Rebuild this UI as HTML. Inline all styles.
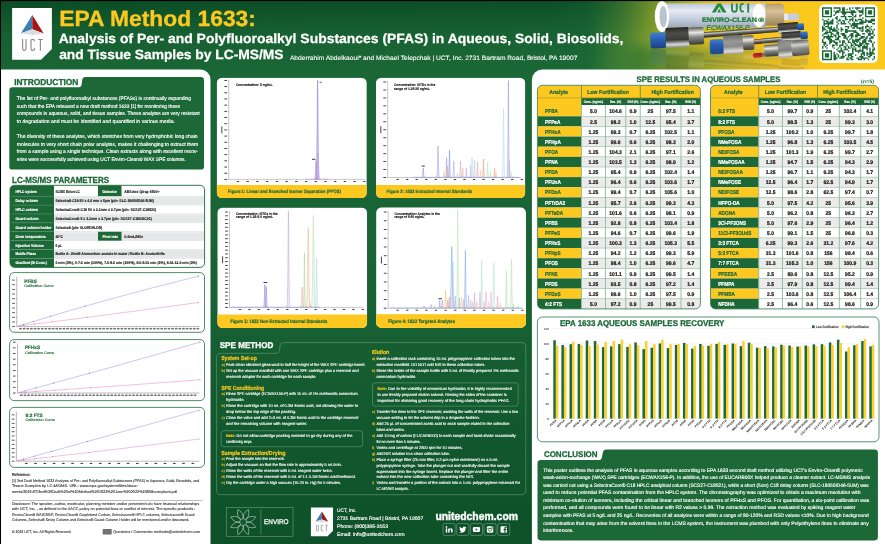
<!DOCTYPE html>
<html><head><meta charset="utf-8"><title>EPA Method 1633 Poster</title>
<style>
html,body{margin:0;padding:0;background:#186234;}
body{width:885px;height:544px;overflow:hidden;font-family:"Liberation Sans",sans-serif;}
svg{display:block;font-family:"Liberation Sans",sans-serif;will-change:transform;text-rendering:geometricPrecision;-webkit-font-smoothing:antialiased;}
</style></head><body>
<svg width="885" height="544" viewBox="0 0 885 544">
<defs>
<linearGradient id="bodyg" x1="0" y1="0" x2="0" y2="1">
 <stop offset="0" stop-color="#1c6937"/><stop offset="0.55" stop-color="#186234"/><stop offset="1" stop-color="#0d5029"/>
</linearGradient>
<linearGradient id="hdrh" x1="0" y1="0" x2="1" y2="0">
 <stop offset="0" stop-color="#1a6535"/><stop offset="0.665" stop-color="#1c6937"/>
 <stop offset="0.705" stop-color="#4a8335"/><stop offset="0.745" stop-color="#93a82c"/>
 <stop offset="0.795" stop-color="#d6be22"/><stop offset="0.845" stop-color="#f8c81c"/><stop offset="1" stop-color="#fbc91c"/>
</linearGradient>
<linearGradient id="hdrv" x1="0" y1="0" x2="0" y2="1">
 <stop offset="0" stop-color="#003818" stop-opacity="0.55"/><stop offset="0.5" stop-color="#003818" stop-opacity="0.12"/><stop offset="1" stop-color="#003818" stop-opacity="0"/>
</linearGradient>
<linearGradient id="tube" x1="0" y1="0" x2="0" y2="1">
 <stop offset="0" stop-color="#bcc7d8"/><stop offset="0.3" stop-color="#e6ebf3"/><stop offset="0.65" stop-color="#c4cede"/><stop offset="1" stop-color="#9ca8bc"/>
</linearGradient>
<linearGradient id="steel" x1="0" y1="0" x2="0" y2="1">
 <stop offset="0" stop-color="#5a5a58"/><stop offset="0.3" stop-color="#e8e8e4"/><stop offset="0.55" stop-color="#8a8a86"/><stop offset="1" stop-color="#3a3a38"/>
</linearGradient>
<linearGradient id="rod" x1="0" y1="0" x2="0" y2="1">
 <stop offset="0" stop-color="#3a3a38"/><stop offset="0.3" stop-color="#c4c4c0"/><stop offset="0.55" stop-color="#6a6a66"/><stop offset="1" stop-color="#262624"/>
</linearGradient>
<linearGradient id="nut" x1="0" y1="0" x2="0" y2="1">
 <stop offset="0" stop-color="#262626"/><stop offset="0.3" stop-color="#4e4e4c"/><stop offset="0.62" stop-color="#3a3a3a"/><stop offset="0.85" stop-color="#d8d8d4"/><stop offset="1" stop-color="#8a8a88"/>
</linearGradient>
<linearGradient id="nut2" x1="0" y1="0" x2="0" y2="1">
 <stop offset="0" stop-color="#6c6c6a"/><stop offset="0.35" stop-color="#9a9a98"/><stop offset="0.6" stop-color="#777"/><stop offset="0.85" stop-color="#f2f2f0"/><stop offset="1" stop-color="#aaa"/>
</linearGradient>
<linearGradient id="blue" x1="0" y1="0" x2="0" y2="1">
 <stop offset="0" stop-color="#3f7ed0"/><stop offset="0.5" stop-color="#275cae"/><stop offset="1" stop-color="#1a4180"/>
</linearGradient>
<linearGradient id="tan" x1="0" y1="0" x2="0" y2="1">
 <stop offset="0" stop-color="#b89b6c"/><stop offset="0.35" stop-color="#d8c298"/><stop offset="1" stop-color="#9c8258"/>
</linearGradient>
</defs>
<rect x="0.00" y="0.00" width="885.00" height="544.00" fill="url(#bodyg)"/>
<rect x="0.00" y="0.00" width="885.00" height="70.00" fill="url(#hdrh)"/>
<linearGradient id="hdrm" x1="0" y1="0" x2="1" y2="0"><stop offset="0.78" stop-color="#fff" stop-opacity="1"/><stop offset="1" stop-color="#fff" stop-opacity="0"/></linearGradient><mask id="hm"><rect x="0" y="0" width="700" height="70" fill="url(#hdrm)"/></mask>
<rect x="0" y="0" width="700" height="70" fill="url(#hdrv)" mask="url(#hm)"/>
<g>
<linearGradient id="floor" x1="0" y1="0" x2="1" y2="0"><stop offset="0" stop-color="#2f7a38" stop-opacity="0.0"/><stop offset="0.18" stop-color="#35782f" stop-opacity="0.75"/><stop offset="0.5" stop-color="#7f9430" stop-opacity="0.7"/><stop offset="0.8" stop-color="#bfaa2c" stop-opacity="0.4"/><stop offset="1" stop-color="#d8b828" stop-opacity="0"/></linearGradient>
<linearGradient id="floorm" x1="0" y1="0" x2="0" y2="1"><stop offset="0" stop-color="#fff" stop-opacity="0"/><stop offset="0.45" stop-color="#fff" stop-opacity="1"/></linearGradient><mask id="fm"><rect x="600" y="40" width="215" height="30" fill="url(#floorm)"/></mask>
<rect x="600" y="40" width="215" height="30" fill="url(#floor)" mask="url(#fm)"/>
<rect x="664.00" y="3.40" width="102.00" height="24.00" fill="url(#tube)"/>
<path d="M765.3 3.4H780Q784.4 3.4 784.4 8V21.5Q784.4 25.8 780 25.8H765.3Z" fill="url(#tan)"/>
<rect x="784.00" y="13.60" width="15.00" height="6.60" fill="#c9cde4" rx="1.5"/>
<rect x="784.00" y="13.60" width="4.00" height="6.60" fill="#e4e6f2"/>
<ellipse cx="662" cy="16.5" rx="7.2" ry="15.6" fill="#fff"/>
<ellipse cx="663.2" cy="16.5" rx="3.7" ry="10.8" fill="#b9c3d2"/>
<ellipse cx="759" cy="15.5" rx="6.5" ry="11.8" fill="#fff" opacity="0.9"/>
<path d="M711.7 12.6 L717.5 3.4 L721 3.4 L726.6 12.6 L722.6 12.6 L719.2 6.6 L715.6 12.6 Z" fill="#2b8a3e"/>
<path d="M717.3 12.6 L719.2 8.5 L721.1 12.6Z" fill="#2b8a3e"/>
<g fill="none" stroke="#2b8a3e" stroke-width="1.9"><path d="M732 3.4V9.2Q732 11.8 734.4 11.8Q736.8 11.8 736.8 9.2V3.4"/><path d="M743.6 4.2Q741 3.2 740.4 6V9.4Q741 12.4 743.8 11.2"/><path d="M748.2 3.4V12.6"/></g>
<text x="702.00" y="22.20" font-size="6.6" fill="#1f7a38" font-weight="bold" textLength="55.00" lengthAdjust="spacingAndGlyphs" stroke="#1f7a38" stroke-width="0.231">ENVIRO-CLEAN</text>
<text x="758.20" y="22.20" font-size="6.2" fill="#1f7a38" font-weight="bold" textLength="6.00" lengthAdjust="spacingAndGlyphs" stroke="#1f7a38" stroke-width="0.217">®</text>
<text x="706.30" y="30.20" font-size="6.6" fill="#1f7a38" textLength="43.40" lengthAdjust="spacingAndGlyphs" stroke="#1f7a38" stroke-width="0.198" font-style="italic">ECWAX156-P</text>
<g id="cols">
<g transform="rotate(-4.2 704 35)">
<rect x="700.00" y="32.20" width="86.00" height="5.40" fill="url(#rod)"/>
</g>
<g transform="rotate(-5 754 43)">
<rect x="750.00" y="39.30" width="36.00" height="5.00" fill="url(#rod)"/>
</g>
<g transform="rotate(-2.5 676 38)">
<rect x="650.20" y="31.80" width="16.00" height="15.60" fill="url(#blue)" rx="2.4"/>
<rect x="665.60" y="27.60" width="23.40" height="19.80" fill="url(#nut)" rx="1.5"/>
<rect x="688.80" y="28.20" width="15.20" height="17.20" fill="url(#steel)" rx="2"/>
</g>
<g transform="rotate(-2.5 732 45)">
<rect x="709.80" y="38.60" width="14.00" height="14.80" fill="url(#blue)" rx="2.4"/>
<rect x="723.40" y="35.40" width="19.80" height="18.40" fill="url(#nut2)" rx="1.5"/>
<rect x="743.00" y="36.20" width="11.20" height="14.40" fill="url(#steel)" rx="2"/>
</g>
<g transform="rotate(-4 790 28)">
<rect x="778.00" y="22.60" width="20.50" height="10.20" fill="url(#nut)" rx="1"/>
<rect x="797.50" y="24.20" width="6.50" height="6.60" fill="url(#blue)" rx="1"/>
<rect x="781.00" y="31.60" width="19.50" height="9.20" fill="url(#nut)" rx="1"/>
<rect x="800.00" y="32.60" width="7.20" height="7.40" fill="url(#blue)" rx="1"/>
</g>
<g transform="rotate(-5 786 48)">
<rect x="764.00" y="43.50" width="15.00" height="11.50" fill="url(#steel)" rx="1.5"/>
<rect x="778.00" y="40.20" width="14.50" height="17.20" fill="url(#nut2)" rx="1.5"/>
<rect x="791.50" y="41.20" width="17.50" height="15.60" fill="url(#steel)" rx="2"/>
<rect x="752.30" y="50.60" width="10.50" height="4.40" fill="#c4161c" rx="2.1"/>
<rect x="761.50" y="51.20" width="3.50" height="3.20" fill="#777"/>
</g>
</g>
<g opacity="0.16" transform="translate(0 97) scale(1 -1)"><use href="#cols"/></g>
</g>
<rect x="819.20" y="4.60" width="58.50" height="58.40" fill="#fff" rx="5"/>
<path d="M822.00 7.30h10.03v1.43h-10.03zM833.46 7.30h7.16v1.43h-7.16zM842.05 7.30h2.86v1.43h-2.86zM849.22 7.30h1.43v1.43h-1.43zM852.08 7.30h1.43v1.43h-1.43zM854.95 7.30h5.73v1.43h-5.73zM862.11 7.30h1.43v1.43h-1.43zM864.97 7.30h10.03v1.43h-10.03zM822.00 8.73h1.43v1.43h-1.43zM830.59 8.73h1.43v1.43h-1.43zM839.19 8.73h1.43v1.43h-1.43zM842.05 8.73h2.86v1.43h-2.86zM846.35 8.73h1.43v1.43h-1.43zM849.22 8.73h1.43v1.43h-1.43zM856.38 8.73h1.43v1.43h-1.43zM862.11 8.73h1.43v1.43h-1.43zM864.97 8.73h1.43v1.43h-1.43zM873.57 8.73h1.43v1.43h-1.43zM822.00 10.16h1.43v1.43h-1.43zM824.86 10.16h4.30v1.43h-4.30zM830.59 10.16h1.43v1.43h-1.43zM833.46 10.16h1.43v1.43h-1.43zM836.32 10.16h4.30v1.43h-4.30zM842.05 10.16h2.86v1.43h-2.86zM850.65 10.16h4.30v1.43h-4.30zM857.81 10.16h5.73v1.43h-5.73zM864.97 10.16h1.43v1.43h-1.43zM867.84 10.16h4.30v1.43h-4.30zM873.57 10.16h1.43v1.43h-1.43zM822.00 11.60h1.43v1.43h-1.43zM824.86 11.60h4.30v1.43h-4.30zM830.59 11.60h1.43v1.43h-1.43zM834.89 11.60h4.30v1.43h-4.30zM840.62 11.60h15.76v1.43h-15.76zM859.24 11.60h4.30v1.43h-4.30zM864.97 11.60h1.43v1.43h-1.43zM867.84 11.60h4.30v1.43h-4.30zM873.57 11.60h1.43v1.43h-1.43zM822.00 13.03h1.43v1.43h-1.43zM824.86 13.03h4.30v1.43h-4.30zM830.59 13.03h1.43v1.43h-1.43zM834.89 13.03h1.43v1.43h-1.43zM842.05 13.03h4.30v1.43h-4.30zM850.65 13.03h2.86v1.43h-2.86zM862.11 13.03h1.43v1.43h-1.43zM864.97 13.03h1.43v1.43h-1.43zM867.84 13.03h4.30v1.43h-4.30zM873.57 13.03h1.43v1.43h-1.43zM822.00 14.46h1.43v1.43h-1.43zM830.59 14.46h1.43v1.43h-1.43zM833.46 14.46h1.43v1.43h-1.43zM843.49 14.46h1.43v1.43h-1.43zM852.08 14.46h1.43v1.43h-1.43zM854.95 14.46h1.43v1.43h-1.43zM859.24 14.46h2.86v1.43h-2.86zM864.97 14.46h1.43v1.43h-1.43zM873.57 14.46h1.43v1.43h-1.43zM822.00 15.89h10.03v1.43h-10.03zM836.32 15.89h1.43v1.43h-1.43zM840.62 15.89h5.73v1.43h-5.73zM847.78 15.89h4.30v1.43h-4.30zM853.51 15.89h2.86v1.43h-2.86zM859.24 15.89h1.43v1.43h-1.43zM864.97 15.89h10.03v1.43h-10.03zM834.89 17.33h2.86v1.43h-2.86zM844.92 17.33h1.43v1.43h-1.43zM852.08 17.33h1.43v1.43h-1.43zM862.11 17.33h1.43v1.43h-1.43zM822.00 18.76h1.43v1.43h-1.43zM827.73 18.76h1.43v1.43h-1.43zM832.03 18.76h1.43v1.43h-1.43zM836.32 18.76h1.43v1.43h-1.43zM839.19 18.76h1.43v1.43h-1.43zM844.92 18.76h2.86v1.43h-2.86zM849.22 18.76h4.30v1.43h-4.30zM854.95 18.76h1.43v1.43h-1.43zM857.81 18.76h4.30v1.43h-4.30zM864.97 18.76h1.43v1.43h-1.43zM870.70 18.76h4.30v1.43h-4.30zM823.43 20.19h4.30v1.43h-4.30zM830.59 20.19h2.86v1.43h-2.86zM837.76 20.19h2.86v1.43h-2.86zM842.05 20.19h2.86v1.43h-2.86zM849.22 20.19h1.43v1.43h-1.43zM852.08 20.19h1.43v1.43h-1.43zM854.95 20.19h2.86v1.43h-2.86zM860.68 20.19h2.86v1.43h-2.86zM864.97 20.19h10.03v1.43h-10.03zM823.43 21.62h1.43v1.43h-1.43zM826.30 21.62h7.16v1.43h-7.16zM836.32 21.62h1.43v1.43h-1.43zM840.62 21.62h1.43v1.43h-1.43zM843.49 21.62h1.43v1.43h-1.43zM847.78 21.62h1.43v1.43h-1.43zM853.51 21.62h1.43v1.43h-1.43zM859.24 21.62h7.16v1.43h-7.16zM867.84 21.62h4.30v1.43h-4.30zM823.43 23.06h10.03v1.43h-10.03zM837.76 23.06h1.43v1.43h-1.43zM840.62 23.06h5.73v1.43h-5.73zM849.22 23.06h1.43v1.43h-1.43zM852.08 23.06h11.46v1.43h-11.46zM872.14 23.06h2.86v1.43h-2.86zM823.43 24.49h1.43v1.43h-1.43zM827.73 24.49h1.43v1.43h-1.43zM836.32 24.49h1.43v1.43h-1.43zM850.65 24.49h7.16v1.43h-7.16zM866.41 24.49h1.43v1.43h-1.43zM822.00 25.92h1.43v1.43h-1.43zM824.86 25.92h4.30v1.43h-4.30zM830.59 25.92h1.43v1.43h-1.43zM836.32 25.92h1.43v1.43h-1.43zM844.92 25.92h4.30v1.43h-4.30zM850.65 25.92h1.43v1.43h-1.43zM853.51 25.92h4.30v1.43h-4.30zM862.11 25.92h1.43v1.43h-1.43zM864.97 25.92h4.30v1.43h-4.30zM870.70 25.92h1.43v1.43h-1.43zM822.00 27.35h2.86v1.43h-2.86zM827.73 27.35h4.30v1.43h-4.30zM833.46 27.35h1.43v1.43h-1.43zM836.32 27.35h1.43v1.43h-1.43zM840.62 27.35h1.43v1.43h-1.43zM847.78 27.35h1.43v1.43h-1.43zM852.08 27.35h2.86v1.43h-2.86zM856.38 27.35h7.16v1.43h-7.16zM864.97 27.35h1.43v1.43h-1.43zM869.27 27.35h1.43v1.43h-1.43zM822.00 28.79h4.30v1.43h-4.30zM829.16 28.79h7.16v1.43h-7.16zM837.76 28.79h1.43v1.43h-1.43zM840.62 28.79h2.86v1.43h-2.86zM844.92 28.79h2.86v1.43h-2.86zM859.24 28.79h1.43v1.43h-1.43zM862.11 28.79h1.43v1.43h-1.43zM866.41 28.79h2.86v1.43h-2.86zM870.70 28.79h1.43v1.43h-1.43zM873.57 28.79h1.43v1.43h-1.43zM822.00 30.22h1.43v1.43h-1.43zM826.30 30.22h1.43v1.43h-1.43zM829.16 30.22h1.43v1.43h-1.43zM832.03 30.22h5.73v1.43h-5.73zM840.62 30.22h1.43v1.43h-1.43zM844.92 30.22h11.46v1.43h-11.46zM860.68 30.22h2.86v1.43h-2.86zM864.97 30.22h5.73v1.43h-5.73zM872.14 30.22h1.43v1.43h-1.43zM824.86 31.65h7.16v1.43h-7.16zM836.32 31.65h2.86v1.43h-2.86zM844.92 31.65h2.86v1.43h-2.86zM853.51 31.65h4.30v1.43h-4.30zM866.41 31.65h1.43v1.43h-1.43zM869.27 31.65h1.43v1.43h-1.43zM872.14 31.65h1.43v1.43h-1.43zM823.43 33.08h4.30v1.43h-4.30zM830.59 33.08h2.86v1.43h-2.86zM836.32 33.08h2.86v1.43h-2.86zM840.62 33.08h4.30v1.43h-4.30zM850.65 33.08h2.86v1.43h-2.86zM856.38 33.08h2.86v1.43h-2.86zM862.11 33.08h2.86v1.43h-2.86zM867.84 33.08h5.73v1.43h-5.73zM822.00 34.52h1.43v1.43h-1.43zM827.73 34.52h1.43v1.43h-1.43zM830.59 34.52h1.43v1.43h-1.43zM833.46 34.52h2.86v1.43h-2.86zM837.76 34.52h1.43v1.43h-1.43zM842.05 34.52h4.30v1.43h-4.30zM849.22 34.52h4.30v1.43h-4.30zM854.95 34.52h5.73v1.43h-5.73zM867.84 34.52h2.86v1.43h-2.86zM873.57 34.52h1.43v1.43h-1.43zM823.43 35.95h10.03v1.43h-10.03zM834.89 35.95h1.43v1.43h-1.43zM837.76 35.95h2.86v1.43h-2.86zM843.49 35.95h2.86v1.43h-2.86zM847.78 35.95h1.43v1.43h-1.43zM850.65 35.95h2.86v1.43h-2.86zM854.95 35.95h2.86v1.43h-2.86zM860.68 35.95h4.30v1.43h-4.30zM866.41 35.95h1.43v1.43h-1.43zM870.70 35.95h2.86v1.43h-2.86zM823.43 37.38h1.43v1.43h-1.43zM826.30 37.38h4.30v1.43h-4.30zM836.32 37.38h2.86v1.43h-2.86zM843.49 37.38h4.30v1.43h-4.30zM850.65 37.38h1.43v1.43h-1.43zM859.24 37.38h4.30v1.43h-4.30zM864.97 37.38h2.86v1.43h-2.86zM869.27 37.38h4.30v1.43h-4.30zM822.00 38.81h1.43v1.43h-1.43zM827.73 38.81h4.30v1.43h-4.30zM834.89 38.81h4.30v1.43h-4.30zM846.35 38.81h1.43v1.43h-1.43zM849.22 38.81h1.43v1.43h-1.43zM852.08 38.81h1.43v1.43h-1.43zM854.95 38.81h5.73v1.43h-5.73zM863.54 38.81h2.86v1.43h-2.86zM869.27 38.81h1.43v1.43h-1.43zM822.00 40.25h1.43v1.43h-1.43zM829.16 40.25h5.73v1.43h-5.73zM839.19 40.25h1.43v1.43h-1.43zM842.05 40.25h2.86v1.43h-2.86zM847.78 40.25h1.43v1.43h-1.43zM852.08 40.25h7.16v1.43h-7.16zM862.11 40.25h4.30v1.43h-4.30zM867.84 40.25h4.30v1.43h-4.30zM822.00 41.68h4.30v1.43h-4.30zM829.16 41.68h2.86v1.43h-2.86zM833.46 41.68h4.30v1.43h-4.30zM839.19 41.68h1.43v1.43h-1.43zM842.05 41.68h2.86v1.43h-2.86zM847.78 41.68h2.86v1.43h-2.86zM852.08 41.68h2.86v1.43h-2.86zM856.38 41.68h1.43v1.43h-1.43zM859.24 41.68h1.43v1.43h-1.43zM862.11 41.68h4.30v1.43h-4.30zM870.70 41.68h1.43v1.43h-1.43zM873.57 41.68h1.43v1.43h-1.43zM823.43 43.11h2.86v1.43h-2.86zM829.16 43.11h1.43v1.43h-1.43zM834.89 43.11h2.86v1.43h-2.86zM842.05 43.11h1.43v1.43h-1.43zM844.92 43.11h1.43v1.43h-1.43zM850.65 43.11h1.43v1.43h-1.43zM853.51 43.11h2.86v1.43h-2.86zM859.24 43.11h4.30v1.43h-4.30zM864.97 43.11h4.30v1.43h-4.30zM872.14 43.11h1.43v1.43h-1.43zM823.43 44.54h1.43v1.43h-1.43zM826.30 44.54h1.43v1.43h-1.43zM832.03 44.54h2.86v1.43h-2.86zM836.32 44.54h1.43v1.43h-1.43zM839.19 44.54h4.30v1.43h-4.30zM846.35 44.54h1.43v1.43h-1.43zM850.65 44.54h2.86v1.43h-2.86zM854.95 44.54h7.16v1.43h-7.16zM863.54 44.54h1.43v1.43h-1.43zM866.41 44.54h1.43v1.43h-1.43zM872.14 44.54h1.43v1.43h-1.43zM822.00 45.98h1.43v1.43h-1.43zM824.86 45.98h1.43v1.43h-1.43zM832.03 45.98h1.43v1.43h-1.43zM839.19 45.98h1.43v1.43h-1.43zM843.49 45.98h2.86v1.43h-2.86zM847.78 45.98h1.43v1.43h-1.43zM850.65 45.98h1.43v1.43h-1.43zM853.51 45.98h1.43v1.43h-1.43zM857.81 45.98h2.86v1.43h-2.86zM862.11 45.98h5.73v1.43h-5.73zM872.14 45.98h1.43v1.43h-1.43zM822.00 47.41h1.43v1.43h-1.43zM826.30 47.41h1.43v1.43h-1.43zM833.46 47.41h1.43v1.43h-1.43zM837.76 47.41h1.43v1.43h-1.43zM840.62 47.41h1.43v1.43h-1.43zM844.92 47.41h1.43v1.43h-1.43zM847.78 47.41h2.86v1.43h-2.86zM852.08 47.41h1.43v1.43h-1.43zM854.95 47.41h1.43v1.43h-1.43zM862.11 47.41h5.73v1.43h-5.73zM869.27 47.41h1.43v1.43h-1.43zM873.57 47.41h1.43v1.43h-1.43zM836.32 48.84h1.43v1.43h-1.43zM840.62 48.84h1.43v1.43h-1.43zM843.49 48.84h4.30v1.43h-4.30zM852.08 48.84h4.30v1.43h-4.30zM859.24 48.84h1.43v1.43h-1.43zM862.11 48.84h1.43v1.43h-1.43zM866.41 48.84h1.43v1.43h-1.43zM869.27 48.84h1.43v1.43h-1.43zM872.14 48.84h2.86v1.43h-2.86zM822.00 50.27h10.03v1.43h-10.03zM837.76 50.27h5.73v1.43h-5.73zM847.78 50.27h1.43v1.43h-1.43zM852.08 50.27h1.43v1.43h-1.43zM854.95 50.27h8.59v1.43h-8.59zM869.27 50.27h1.43v1.43h-1.43zM872.14 50.27h1.43v1.43h-1.43zM822.00 51.71h1.43v1.43h-1.43zM830.59 51.71h1.43v1.43h-1.43zM833.46 51.71h1.43v1.43h-1.43zM839.19 51.71h1.43v1.43h-1.43zM842.05 51.71h2.86v1.43h-2.86zM852.08 51.71h1.43v1.43h-1.43zM857.81 51.71h1.43v1.43h-1.43zM862.11 51.71h2.86v1.43h-2.86zM866.41 51.71h1.43v1.43h-1.43zM869.27 51.71h4.30v1.43h-4.30zM822.00 53.14h1.43v1.43h-1.43zM824.86 53.14h4.30v1.43h-4.30zM830.59 53.14h1.43v1.43h-1.43zM833.46 53.14h1.43v1.43h-1.43zM836.32 53.14h1.43v1.43h-1.43zM842.05 53.14h1.43v1.43h-1.43zM847.78 53.14h5.73v1.43h-5.73zM860.68 53.14h4.30v1.43h-4.30zM866.41 53.14h8.59v1.43h-8.59zM822.00 54.57h1.43v1.43h-1.43zM824.86 54.57h4.30v1.43h-4.30zM830.59 54.57h1.43v1.43h-1.43zM833.46 54.57h2.86v1.43h-2.86zM837.76 54.57h1.43v1.43h-1.43zM842.05 54.57h1.43v1.43h-1.43zM844.92 54.57h1.43v1.43h-1.43zM847.78 54.57h4.30v1.43h-4.30zM854.95 54.57h1.43v1.43h-1.43zM860.68 54.57h1.43v1.43h-1.43zM863.54 54.57h1.43v1.43h-1.43zM866.41 54.57h1.43v1.43h-1.43zM869.27 54.57h2.86v1.43h-2.86zM822.00 56.00h1.43v1.43h-1.43zM824.86 56.00h4.30v1.43h-4.30zM830.59 56.00h1.43v1.43h-1.43zM833.46 56.00h2.86v1.43h-2.86zM837.76 56.00h1.43v1.43h-1.43zM840.62 56.00h4.30v1.43h-4.30zM847.78 56.00h1.43v1.43h-1.43zM850.65 56.00h2.86v1.43h-2.86zM859.24 56.00h4.30v1.43h-4.30zM867.84 56.00h2.86v1.43h-2.86zM873.57 56.00h1.43v1.43h-1.43zM822.00 57.44h1.43v1.43h-1.43zM830.59 57.44h1.43v1.43h-1.43zM833.46 57.44h4.30v1.43h-4.30zM839.19 57.44h4.30v1.43h-4.30zM846.35 57.44h1.43v1.43h-1.43zM849.22 57.44h2.86v1.43h-2.86zM856.38 57.44h2.86v1.43h-2.86zM860.68 57.44h7.16v1.43h-7.16zM873.57 57.44h1.43v1.43h-1.43zM822.00 58.87h10.03v1.43h-10.03zM833.46 58.87h2.86v1.43h-2.86zM846.35 58.87h2.86v1.43h-2.86zM850.65 58.87h2.86v1.43h-2.86zM857.81 58.87h4.30v1.43h-4.30zM863.54 58.87h1.43v1.43h-1.43zM867.84 58.87h1.43v1.43h-1.43zM872.14 58.87h1.43v1.43h-1.43z" fill="#1c6937"/>
<rect x="0.00" y="0.00" width="885.00" height="1.10" fill="#000"/>
<rect x="0.00" y="0.00" width="1.00" height="544.00" fill="#000"/>
<path d="M12.1 8.1H51.9V48.900000000000006L41.099999999999994 59.7H12.1Z" fill="#fff"/>
<path d="M32.3 15 L21 33.2 L32.3 29.2Z" fill="#3e7fb2"/>
<path d="M32.3 15 L43.7 33.5 L32.3 29.2Z" fill="#a81414"/>
<path d="M21 33.2 L32.3 29.2 L43.7 33.5 L32.3 35Z" fill="#d9dde2"/>
<g fill="none" stroke="#8c8c94" stroke-width="1.15"><path d="M22.6 38.9V48.6Q22.6 50.3 24.3 50.3Q26 50.3 26 48.6V38.9"/><path d="M34.4 41.5V40.8Q34.4 39.4 32.7 39.4Q31 39.4 31 40.8V48.9Q31 50.3 32.7 50.3Q34.4 50.3 34.4 48.9V48"/><path d="M38 39.5H42.8M40.4 39.5V50.8"/></g>
<text x="59.30" y="26.10" font-size="22" fill="#fdc820" font-weight="bold" textLength="196.60" lengthAdjust="spacingAndGlyphs" stroke="#fdc820" stroke-width="0.300">EPA Method 1633:</text>
<text x="58.80" y="42.70" font-size="13.4" fill="#fff" font-weight="bold" textLength="564.60" lengthAdjust="spacingAndGlyphs" stroke="#fff" stroke-width="0.250">Analysis of Per- and Polyfluoroalkyl Substances (PFAS) in Aqueous, Solid, Biosolids,</text>
<text x="59.20" y="59.40" font-size="13.4" fill="#fff" font-weight="bold" textLength="224.30" lengthAdjust="spacingAndGlyphs" stroke="#fff" stroke-width="0.250">and Tissue Samples by LC-MS/MS</text>
<text x="289.90" y="59.60" font-size="6.3" fill="#fff" textLength="287.50" lengthAdjust="spacingAndGlyphs" stroke="#fff" stroke-width="0.100">Abderrahim Abdelkaoui* and Michael Telepchak | UCT, Inc.  2731 Bartram Road, Bristol, PA 19007</text>
<path d="M1 69.5H200.5A10 10 0 0 1 210.5 79.5V544H1Z" fill="#fff"/>
<path d="M9.3 90.5Q9.3 87.2 12.5 87.2H78.6Q81.3 87.2 81.6 84.5L82.3 79.8Q82.7 77.1 85.4 77.1H200.8Q204 77.1 204 80.3V166.4Q204 169.6 200.8 169.6H12.5Q9.3 169.6 9.3 166.4Z" fill="#1c6937"/>
<text x="14.20" y="84.90" font-size="8.6" fill="#1c6937" font-weight="bold" textLength="64.20" lengthAdjust="spacingAndGlyphs" stroke="#1c6937" stroke-width="0.301">INTRODUCTION</text>
<text x="16.80" y="100.20" font-size="5.0" fill="#fff" textLength="174.20" lengthAdjust="spacingAndGlyphs" stroke="#fff" stroke-width="0.150">The list of Per- and polyfluoroalkyl substances (PFASs) is continually expanding</text>
<text x="16.80" y="107.75" font-size="5.0" fill="#fff" textLength="163.40" lengthAdjust="spacingAndGlyphs" stroke="#fff" stroke-width="0.150">such that the EPA released a new draft method 1633 [1] for monitoring these</text>
<text x="16.80" y="115.30" font-size="5.0" fill="#fff" textLength="182.90" lengthAdjust="spacingAndGlyphs" stroke="#fff" stroke-width="0.150">compounds in aqueous, solid, and tissue samples. These analytes are very resistant</text>
<text x="16.80" y="122.85" font-size="5.0" fill="#fff" textLength="158.20" lengthAdjust="spacingAndGlyphs" stroke="#fff" stroke-width="0.150">to degradation and must be identified and quantified in various media.</text>
<text x="16.80" y="137.95" font-size="5.0" fill="#fff" textLength="180.80" lengthAdjust="spacingAndGlyphs" stroke="#fff" stroke-width="0.150">The diversity of these analytes, which stretches from very hydrophobic long chain</text>
<text x="16.80" y="145.50" font-size="5.0" fill="#fff" textLength="181.40" lengthAdjust="spacingAndGlyphs" stroke="#fff" stroke-width="0.150">molecules to very short chain polar analytes, makes it challenging to extract them</text>
<text x="16.80" y="153.05" font-size="5.0" fill="#fff" textLength="181.40" lengthAdjust="spacingAndGlyphs" stroke="#fff" stroke-width="0.150">from a sample using a single technique. Clean extracts along with excellent recov-</text>
<text x="16.80" y="160.60" font-size="5.0" fill="#fff" textLength="169.00" lengthAdjust="spacingAndGlyphs" stroke="#fff" stroke-width="0.150">eries were successfully achieved using UCT Enviro-Clean® WAX SPE columns.</text>
<text x="12.00" y="182.90" font-size="8.8" fill="#1c6937" font-weight="bold" textLength="97.00" lengthAdjust="spacingAndGlyphs" stroke="#1c6937" stroke-width="0.308">LC-MS/MS PARAMETERS</text>
<clipPath id="lct"><rect x="10.0" y="185.3" width="194.6" height="82.09999999999997" rx="4.5"/></clipPath>
<g clip-path="url(#lct)">
<rect x="10.00" y="185.30" width="194.60" height="82.10" fill="#fff"/>
<rect x="10.00" y="185.30" width="44.00" height="10.85" fill="#1c6937"/>
<rect x="54.00" y="196.70" width="150.60" height="7.80" fill="#e6e7e8"/>
<rect x="10.00" y="196.15" width="44.00" height="8.90" fill="#1c6937"/>
<rect x="12.50" y="195.95" width="39.50" height="0.45" fill="#5a9a70"/>
<rect x="54.00" y="195.90" width="150.60" height="0.50" fill="#c4dccb"/>
<rect x="10.00" y="205.05" width="44.00" height="8.90" fill="#1c6937"/>
<rect x="12.50" y="204.85" width="39.50" height="0.45" fill="#5a9a70"/>
<rect x="54.00" y="204.80" width="150.60" height="0.50" fill="#c4dccb"/>
<rect x="54.00" y="214.50" width="150.60" height="7.80" fill="#e6e7e8"/>
<rect x="10.00" y="213.95" width="44.00" height="8.90" fill="#1c6937"/>
<rect x="12.50" y="213.75" width="39.50" height="0.45" fill="#5a9a70"/>
<rect x="54.00" y="213.70" width="150.60" height="0.50" fill="#c4dccb"/>
<rect x="10.00" y="222.85" width="44.00" height="8.90" fill="#1c6937"/>
<rect x="12.50" y="222.65" width="39.50" height="0.45" fill="#5a9a70"/>
<rect x="54.00" y="222.60" width="150.60" height="0.50" fill="#c4dccb"/>
<rect x="54.00" y="232.30" width="150.60" height="7.80" fill="#e6e7e8"/>
<rect x="10.00" y="231.75" width="44.00" height="8.90" fill="#1c6937"/>
<rect x="12.50" y="231.55" width="39.50" height="0.45" fill="#5a9a70"/>
<rect x="54.00" y="231.50" width="150.60" height="0.50" fill="#c4dccb"/>
<rect x="10.00" y="240.65" width="44.00" height="8.90" fill="#1c6937"/>
<rect x="12.50" y="240.45" width="39.50" height="0.45" fill="#5a9a70"/>
<rect x="54.00" y="240.40" width="150.60" height="0.50" fill="#c4dccb"/>
<rect x="54.00" y="250.10" width="150.60" height="7.80" fill="#e6e7e8"/>
<rect x="10.00" y="249.55" width="44.00" height="8.90" fill="#1c6937"/>
<rect x="12.50" y="249.35" width="39.50" height="0.45" fill="#5a9a70"/>
<rect x="54.00" y="249.30" width="150.60" height="0.50" fill="#c4dccb"/>
<rect x="10.00" y="258.45" width="44.00" height="8.95" fill="#1c6937"/>
<rect x="12.50" y="258.25" width="39.50" height="0.45" fill="#5a9a70"/>
<rect x="54.00" y="258.20" width="150.60" height="0.50" fill="#c4dccb"/>
<rect x="98.00" y="185.30" width="23.50" height="10.85" fill="#1c6937"/>
<rect x="98.00" y="231.75" width="23.50" height="8.90" fill="#1c6937"/>
</g>
<rect x="10.0" y="185.3" width="194.6" height="82.09999999999997" rx="4.5" fill="none" stroke="#1c6937" stroke-width="0.9"/>
<text x="15.40" y="193.10" font-size="3.9" fill="#fff" font-weight="bold" textLength="21.40" lengthAdjust="spacingAndGlyphs" stroke="#fff" stroke-width="0.137">HPLC system</text>
<text x="55.40" y="193.10" font-size="3.9" fill="#222" font-weight="bold" textLength="24.40" lengthAdjust="spacingAndGlyphs" stroke="#222" stroke-width="0.137">SCIEX Exion LC</text>
<text x="15.40" y="202.00" font-size="3.9" fill="#fff" font-weight="bold" textLength="22.60" lengthAdjust="spacingAndGlyphs" stroke="#fff" stroke-width="0.137">Delay column</text>
<text x="55.40" y="202.00" font-size="3.9" fill="#222" font-weight="bold" textLength="98.50" lengthAdjust="spacingAndGlyphs" stroke="#222" stroke-width="0.137">Selectra® C18 50 x 4.6 mm x 5µm (p/n: SLC-18050ID46-5UM)</text>
<text x="15.40" y="210.90" font-size="3.9" fill="#fff" font-weight="bold" textLength="22.60" lengthAdjust="spacingAndGlyphs" stroke="#fff" stroke-width="0.137">HPLC column</text>
<text x="55.40" y="210.90" font-size="3.9" fill="#222" font-weight="bold" textLength="100.80" lengthAdjust="spacingAndGlyphs" stroke="#222" stroke-width="0.137">SelectraCore® C18 50 x 2.1mm x 2.7µm (p/n: SCS27-C18521)</text>
<text x="15.40" y="219.80" font-size="3.9" fill="#fff" font-weight="bold" textLength="23.20" lengthAdjust="spacingAndGlyphs" stroke="#fff" stroke-width="0.137">Guard column</text>
<text x="55.40" y="219.80" font-size="3.9" fill="#222" font-weight="bold" textLength="96.40" lengthAdjust="spacingAndGlyphs" stroke="#222" stroke-width="0.137">SelectraCore® 5 x 2.1mm x 2.7µm (p/n: SCS27-C18GDC21)</text>
<text x="15.40" y="228.70" font-size="3.9" fill="#fff" font-weight="bold" textLength="36.10" lengthAdjust="spacingAndGlyphs" stroke="#fff" stroke-width="0.137">Guard column holder</text>
<text x="55.40" y="228.70" font-size="3.9" fill="#222" font-weight="bold" textLength="46.80" lengthAdjust="spacingAndGlyphs" stroke="#222" stroke-width="0.137">Selectra® (p/n: SLGRDHLDR)</text>
<text x="15.40" y="237.60" font-size="3.9" fill="#fff" font-weight="bold" textLength="30.40" lengthAdjust="spacingAndGlyphs" stroke="#fff" stroke-width="0.137">Oven temperature</text>
<text x="55.40" y="237.60" font-size="3.9" fill="#222" font-weight="bold" textLength="7.60" lengthAdjust="spacingAndGlyphs" stroke="#222" stroke-width="0.137">40°C</text>
<text x="15.40" y="246.50" font-size="3.9" fill="#fff" font-weight="bold" textLength="28.30" lengthAdjust="spacingAndGlyphs" stroke="#fff" stroke-width="0.137">Injection Volume</text>
<text x="55.40" y="246.50" font-size="3.9" fill="#222" font-weight="bold" textLength="6.40" lengthAdjust="spacingAndGlyphs" stroke="#222" stroke-width="0.137">5 µL</text>
<text x="15.40" y="255.40" font-size="3.9" fill="#fff" font-weight="bold" textLength="20.60" lengthAdjust="spacingAndGlyphs" stroke="#fff" stroke-width="0.137">Mobile Phase</text>
<text x="55.40" y="255.40" font-size="3.9" fill="#222" font-weight="bold" textLength="109.30" lengthAdjust="spacingAndGlyphs" stroke="#222" stroke-width="0.137">Bottle A: 20mM Ammonium acetate in water / Bottle B: Acetonitrile</text>
<text x="15.40" y="264.30" font-size="3.9" fill="#fff" font-weight="bold" textLength="31.60" lengthAdjust="spacingAndGlyphs" stroke="#fff" stroke-width="0.137">Gradient (B Conc.)</text>
<text x="55.40" y="264.30" font-size="3.8" fill="#222" font-weight="bold" textLength="141.50" lengthAdjust="spacingAndGlyphs" stroke="#222" stroke-width="0.133">0 min (2%), 0-7.5 min (100%), 7.5-8.5 min (100%), 8.5-8.51 min (2%), 8.51-11.5 min (2%)</text>
<text x="102.40" y="193.10" font-size="3.9" fill="#fff" font-weight="bold" textLength="14.60" lengthAdjust="spacingAndGlyphs" stroke="#fff" stroke-width="0.137">Detector</text>
<text x="124.30" y="193.10" font-size="3.9" fill="#222" font-weight="bold" textLength="35.20" lengthAdjust="spacingAndGlyphs" stroke="#222" stroke-width="0.137">ABSciex Qtrap 6500+</text>
<text x="102.40" y="237.60" font-size="3.9" fill="#fff" font-weight="bold" textLength="15.50" lengthAdjust="spacingAndGlyphs" stroke="#fff" stroke-width="0.137">Flow rate</text>
<text x="124.30" y="237.60" font-size="3.9" fill="#222" font-weight="bold" textLength="18.50" lengthAdjust="spacingAndGlyphs" stroke="#222" stroke-width="0.137">0.6mL/Min</text>
<rect x="9.6" y="272.6" width="194.9" height="59.69999999999999" rx="4.5" fill="#fff" stroke="#3b8152" stroke-width="0.9"/>
<path d="M16.8 276.6V326.6H199.6" fill="none" stroke="#555" stroke-width="0.4"/>
<rect x="12.20" y="326.15" width="2.60" height="0.90" fill="#444"/>
<rect x="15.90" y="326.45" width="0.90" height="0.30" fill="#666"/>
<rect x="12.20" y="321.50" width="2.60" height="0.90" fill="#444"/>
<rect x="15.90" y="321.80" width="0.90" height="0.30" fill="#666"/>
<rect x="12.20" y="316.85" width="2.60" height="0.90" fill="#444"/>
<rect x="15.90" y="317.15" width="0.90" height="0.30" fill="#666"/>
<rect x="12.20" y="312.20" width="2.60" height="0.90" fill="#444"/>
<rect x="15.90" y="312.50" width="0.90" height="0.30" fill="#666"/>
<rect x="12.20" y="307.55" width="2.60" height="0.90" fill="#444"/>
<rect x="15.90" y="307.85" width="0.90" height="0.30" fill="#666"/>
<rect x="12.20" y="302.90" width="2.60" height="0.90" fill="#444"/>
<rect x="15.90" y="303.20" width="0.90" height="0.30" fill="#666"/>
<rect x="12.20" y="298.25" width="2.60" height="0.90" fill="#444"/>
<rect x="15.90" y="298.55" width="0.90" height="0.30" fill="#666"/>
<rect x="12.20" y="293.60" width="2.60" height="0.90" fill="#444"/>
<rect x="15.90" y="293.90" width="0.90" height="0.30" fill="#666"/>
<rect x="12.20" y="288.95" width="2.60" height="0.90" fill="#444"/>
<rect x="15.90" y="289.25" width="0.90" height="0.30" fill="#666"/>
<rect x="12.20" y="284.30" width="2.60" height="0.90" fill="#444"/>
<rect x="15.90" y="284.60" width="0.90" height="0.30" fill="#666"/>
<rect x="12.20" y="279.65" width="2.60" height="0.90" fill="#444"/>
<rect x="15.90" y="279.95" width="0.90" height="0.30" fill="#666"/>
<rect x="19.20" y="328.30" width="2.60" height="1.00" fill="#333"/>
<rect x="20.50" y="326.60" width="0.30" height="0.80" fill="#666"/>
<rect x="22.82" y="328.30" width="2.60" height="1.00" fill="#333"/>
<rect x="24.12" y="326.60" width="0.30" height="0.80" fill="#666"/>
<rect x="26.44" y="328.30" width="2.60" height="1.00" fill="#333"/>
<rect x="27.74" y="326.60" width="0.30" height="0.80" fill="#666"/>
<rect x="30.06" y="328.30" width="2.60" height="1.00" fill="#333"/>
<rect x="31.36" y="326.60" width="0.30" height="0.80" fill="#666"/>
<rect x="33.68" y="328.30" width="2.60" height="1.00" fill="#333"/>
<rect x="34.98" y="326.60" width="0.30" height="0.80" fill="#666"/>
<rect x="37.30" y="328.30" width="2.60" height="1.00" fill="#333"/>
<rect x="38.60" y="326.60" width="0.30" height="0.80" fill="#666"/>
<rect x="40.92" y="328.30" width="2.60" height="1.00" fill="#333"/>
<rect x="42.22" y="326.60" width="0.30" height="0.80" fill="#666"/>
<rect x="44.54" y="328.30" width="2.60" height="1.00" fill="#333"/>
<rect x="45.84" y="326.60" width="0.30" height="0.80" fill="#666"/>
<rect x="48.16" y="328.30" width="2.60" height="1.00" fill="#333"/>
<rect x="49.46" y="326.60" width="0.30" height="0.80" fill="#666"/>
<rect x="51.78" y="328.30" width="2.60" height="1.00" fill="#333"/>
<rect x="53.08" y="326.60" width="0.30" height="0.80" fill="#666"/>
<rect x="55.40" y="328.30" width="2.60" height="1.00" fill="#333"/>
<rect x="56.70" y="326.60" width="0.30" height="0.80" fill="#666"/>
<rect x="59.02" y="328.30" width="2.60" height="1.00" fill="#333"/>
<rect x="60.32" y="326.60" width="0.30" height="0.80" fill="#666"/>
<rect x="62.64" y="328.30" width="2.60" height="1.00" fill="#333"/>
<rect x="63.94" y="326.60" width="0.30" height="0.80" fill="#666"/>
<rect x="66.26" y="328.30" width="2.60" height="1.00" fill="#333"/>
<rect x="67.56" y="326.60" width="0.30" height="0.80" fill="#666"/>
<rect x="69.88" y="328.30" width="2.60" height="1.00" fill="#333"/>
<rect x="71.18" y="326.60" width="0.30" height="0.80" fill="#666"/>
<rect x="73.50" y="328.30" width="2.60" height="1.00" fill="#333"/>
<rect x="74.80" y="326.60" width="0.30" height="0.80" fill="#666"/>
<rect x="77.12" y="328.30" width="2.60" height="1.00" fill="#333"/>
<rect x="78.42" y="326.60" width="0.30" height="0.80" fill="#666"/>
<rect x="80.74" y="328.30" width="2.60" height="1.00" fill="#333"/>
<rect x="82.04" y="326.60" width="0.30" height="0.80" fill="#666"/>
<rect x="84.36" y="328.30" width="2.60" height="1.00" fill="#333"/>
<rect x="85.66" y="326.60" width="0.30" height="0.80" fill="#666"/>
<rect x="87.98" y="328.30" width="2.60" height="1.00" fill="#333"/>
<rect x="89.28" y="326.60" width="0.30" height="0.80" fill="#666"/>
<rect x="91.60" y="328.30" width="2.60" height="1.00" fill="#333"/>
<rect x="92.90" y="326.60" width="0.30" height="0.80" fill="#666"/>
<rect x="95.22" y="328.30" width="2.60" height="1.00" fill="#333"/>
<rect x="96.52" y="326.60" width="0.30" height="0.80" fill="#666"/>
<rect x="98.84" y="328.30" width="2.60" height="1.00" fill="#333"/>
<rect x="100.14" y="326.60" width="0.30" height="0.80" fill="#666"/>
<rect x="102.46" y="328.30" width="2.60" height="1.00" fill="#333"/>
<rect x="103.76" y="326.60" width="0.30" height="0.80" fill="#666"/>
<rect x="106.08" y="328.30" width="2.60" height="1.00" fill="#333"/>
<rect x="107.38" y="326.60" width="0.30" height="0.80" fill="#666"/>
<rect x="109.70" y="328.30" width="2.60" height="1.00" fill="#333"/>
<rect x="111.00" y="326.60" width="0.30" height="0.80" fill="#666"/>
<rect x="113.32" y="328.30" width="2.60" height="1.00" fill="#333"/>
<rect x="114.62" y="326.60" width="0.30" height="0.80" fill="#666"/>
<rect x="116.94" y="328.30" width="2.60" height="1.00" fill="#333"/>
<rect x="118.24" y="326.60" width="0.30" height="0.80" fill="#666"/>
<rect x="120.56" y="328.30" width="2.60" height="1.00" fill="#333"/>
<rect x="121.86" y="326.60" width="0.30" height="0.80" fill="#666"/>
<rect x="124.18" y="328.30" width="2.60" height="1.00" fill="#333"/>
<rect x="125.48" y="326.60" width="0.30" height="0.80" fill="#666"/>
<rect x="127.80" y="328.30" width="2.60" height="1.00" fill="#333"/>
<rect x="129.10" y="326.60" width="0.30" height="0.80" fill="#666"/>
<rect x="131.42" y="328.30" width="2.60" height="1.00" fill="#333"/>
<rect x="132.72" y="326.60" width="0.30" height="0.80" fill="#666"/>
<rect x="135.04" y="328.30" width="2.60" height="1.00" fill="#333"/>
<rect x="136.34" y="326.60" width="0.30" height="0.80" fill="#666"/>
<rect x="138.66" y="328.30" width="2.60" height="1.00" fill="#333"/>
<rect x="139.96" y="326.60" width="0.30" height="0.80" fill="#666"/>
<rect x="142.28" y="328.30" width="2.60" height="1.00" fill="#333"/>
<rect x="143.58" y="326.60" width="0.30" height="0.80" fill="#666"/>
<rect x="145.90" y="328.30" width="2.60" height="1.00" fill="#333"/>
<rect x="147.20" y="326.60" width="0.30" height="0.80" fill="#666"/>
<rect x="149.52" y="328.30" width="2.60" height="1.00" fill="#333"/>
<rect x="150.82" y="326.60" width="0.30" height="0.80" fill="#666"/>
<rect x="153.14" y="328.30" width="2.60" height="1.00" fill="#333"/>
<rect x="154.44" y="326.60" width="0.30" height="0.80" fill="#666"/>
<rect x="156.76" y="328.30" width="2.60" height="1.00" fill="#333"/>
<rect x="158.06" y="326.60" width="0.30" height="0.80" fill="#666"/>
<rect x="160.38" y="328.30" width="2.60" height="1.00" fill="#333"/>
<rect x="161.68" y="326.60" width="0.30" height="0.80" fill="#666"/>
<rect x="164.00" y="328.30" width="2.60" height="1.00" fill="#333"/>
<rect x="165.30" y="326.60" width="0.30" height="0.80" fill="#666"/>
<rect x="167.62" y="328.30" width="2.60" height="1.00" fill="#333"/>
<rect x="168.92" y="326.60" width="0.30" height="0.80" fill="#666"/>
<rect x="171.24" y="328.30" width="2.60" height="1.00" fill="#333"/>
<rect x="172.54" y="326.60" width="0.30" height="0.80" fill="#666"/>
<rect x="174.86" y="328.30" width="2.60" height="1.00" fill="#333"/>
<rect x="176.16" y="326.60" width="0.30" height="0.80" fill="#666"/>
<rect x="178.48" y="328.30" width="2.60" height="1.00" fill="#333"/>
<rect x="179.78" y="326.60" width="0.30" height="0.80" fill="#666"/>
<rect x="182.10" y="328.30" width="2.60" height="1.00" fill="#333"/>
<rect x="183.40" y="326.60" width="0.30" height="0.80" fill="#666"/>
<rect x="185.72" y="328.30" width="2.60" height="1.00" fill="#333"/>
<rect x="187.02" y="326.60" width="0.30" height="0.80" fill="#666"/>
<rect x="189.34" y="328.30" width="2.60" height="1.00" fill="#333"/>
<rect x="190.64" y="326.60" width="0.30" height="0.80" fill="#666"/>
<rect x="192.96" y="328.30" width="2.60" height="1.00" fill="#333"/>
<rect x="194.26" y="326.60" width="0.30" height="0.80" fill="#666"/>
<rect x="196.58" y="328.30" width="2.60" height="1.00" fill="#333"/>
<rect x="197.88" y="326.60" width="0.30" height="0.80" fill="#666"/>
<path d="M17.9 326.20000000000005Q100 300.5 198.6 276.1" fill="none" stroke="#6d6fd6" stroke-width="0.38"/>
<path d="M17.9 326.20000000000005Q105 315.3 198.6 302.5" fill="none" stroke="#e25aa8" stroke-width="0.38"/>
<rect x="23.27" y="324.00" width="0.80" height="0.80" fill="#4a4cd0"/>
<rect x="23.60" y="325.03" width="0.80" height="0.80" fill="#dc4096"/>
<rect x="33.25" y="320.93" width="0.80" height="0.80" fill="#4a4cd0"/>
<rect x="34.11" y="323.71" width="0.80" height="0.80" fill="#dc4096"/>
<rect x="50.15" y="315.83" width="0.80" height="0.80" fill="#4a4cd0"/>
<rect x="51.72" y="321.48" width="0.80" height="0.80" fill="#dc4096"/>
<rect x="84.93" y="305.70" width="0.80" height="0.80" fill="#4a4cd0"/>
<rect x="87.32" y="316.89" width="0.80" height="0.80" fill="#dc4096"/>
<rect x="198.20" y="275.70" width="0.80" height="0.80" fill="#4a4cd0"/>
<rect x="198.20" y="302.10" width="0.80" height="0.80" fill="#dc4096"/>
<text x="24.30" y="282.60" font-size="4.8" fill="#1c6937" font-weight="bold" textLength="12.55" lengthAdjust="spacingAndGlyphs" stroke="#1c6937" stroke-width="0.168">PFBS</text>
<text x="24.30" y="287.10" font-size="3.6" fill="#1c6937" textLength="29.30" lengthAdjust="spacingAndGlyphs" stroke="#1c6937" stroke-width="0.108">Calibration Curve</text>
<rect x="9.6" y="339.6" width="194.9" height="61.0" rx="4.5" fill="#fff" stroke="#3b8152" stroke-width="0.9"/>
<path d="M17.6 343.6V393.0H199.6" fill="none" stroke="#555" stroke-width="0.4"/>
<rect x="13.00" y="392.55" width="2.60" height="0.90" fill="#444"/>
<rect x="16.70" y="392.85" width="0.90" height="0.30" fill="#666"/>
<rect x="13.00" y="386.91" width="2.60" height="0.90" fill="#444"/>
<rect x="16.70" y="387.21" width="0.90" height="0.30" fill="#666"/>
<rect x="13.00" y="381.26" width="2.60" height="0.90" fill="#444"/>
<rect x="16.70" y="381.56" width="0.90" height="0.30" fill="#666"/>
<rect x="13.00" y="375.62" width="2.60" height="0.90" fill="#444"/>
<rect x="16.70" y="375.92" width="0.90" height="0.30" fill="#666"/>
<rect x="13.00" y="369.97" width="2.60" height="0.90" fill="#444"/>
<rect x="16.70" y="370.27" width="0.90" height="0.30" fill="#666"/>
<rect x="13.00" y="364.33" width="2.60" height="0.90" fill="#444"/>
<rect x="16.70" y="364.63" width="0.90" height="0.30" fill="#666"/>
<rect x="13.00" y="358.68" width="2.60" height="0.90" fill="#444"/>
<rect x="16.70" y="358.98" width="0.90" height="0.30" fill="#666"/>
<rect x="13.00" y="353.04" width="2.60" height="0.90" fill="#444"/>
<rect x="16.70" y="353.34" width="0.90" height="0.30" fill="#666"/>
<rect x="13.00" y="347.39" width="2.60" height="0.90" fill="#444"/>
<rect x="16.70" y="347.69" width="0.90" height="0.30" fill="#666"/>
<rect x="13.00" y="341.75" width="2.60" height="0.90" fill="#444"/>
<rect x="16.70" y="342.05" width="0.90" height="0.30" fill="#666"/>
<rect x="20.00" y="394.70" width="2.60" height="1.00" fill="#333"/>
<rect x="21.30" y="393.00" width="0.30" height="0.80" fill="#666"/>
<rect x="23.62" y="394.70" width="2.60" height="1.00" fill="#333"/>
<rect x="24.92" y="393.00" width="0.30" height="0.80" fill="#666"/>
<rect x="27.24" y="394.70" width="2.60" height="1.00" fill="#333"/>
<rect x="28.54" y="393.00" width="0.30" height="0.80" fill="#666"/>
<rect x="30.86" y="394.70" width="2.60" height="1.00" fill="#333"/>
<rect x="32.16" y="393.00" width="0.30" height="0.80" fill="#666"/>
<rect x="34.48" y="394.70" width="2.60" height="1.00" fill="#333"/>
<rect x="35.78" y="393.00" width="0.30" height="0.80" fill="#666"/>
<rect x="38.10" y="394.70" width="2.60" height="1.00" fill="#333"/>
<rect x="39.40" y="393.00" width="0.30" height="0.80" fill="#666"/>
<rect x="41.72" y="394.70" width="2.60" height="1.00" fill="#333"/>
<rect x="43.02" y="393.00" width="0.30" height="0.80" fill="#666"/>
<rect x="45.34" y="394.70" width="2.60" height="1.00" fill="#333"/>
<rect x="46.64" y="393.00" width="0.30" height="0.80" fill="#666"/>
<rect x="48.96" y="394.70" width="2.60" height="1.00" fill="#333"/>
<rect x="50.26" y="393.00" width="0.30" height="0.80" fill="#666"/>
<rect x="52.58" y="394.70" width="2.60" height="1.00" fill="#333"/>
<rect x="53.88" y="393.00" width="0.30" height="0.80" fill="#666"/>
<rect x="56.20" y="394.70" width="2.60" height="1.00" fill="#333"/>
<rect x="57.50" y="393.00" width="0.30" height="0.80" fill="#666"/>
<rect x="59.82" y="394.70" width="2.60" height="1.00" fill="#333"/>
<rect x="61.12" y="393.00" width="0.30" height="0.80" fill="#666"/>
<rect x="63.44" y="394.70" width="2.60" height="1.00" fill="#333"/>
<rect x="64.74" y="393.00" width="0.30" height="0.80" fill="#666"/>
<rect x="67.06" y="394.70" width="2.60" height="1.00" fill="#333"/>
<rect x="68.36" y="393.00" width="0.30" height="0.80" fill="#666"/>
<rect x="70.68" y="394.70" width="2.60" height="1.00" fill="#333"/>
<rect x="71.98" y="393.00" width="0.30" height="0.80" fill="#666"/>
<rect x="74.30" y="394.70" width="2.60" height="1.00" fill="#333"/>
<rect x="75.60" y="393.00" width="0.30" height="0.80" fill="#666"/>
<rect x="77.92" y="394.70" width="2.60" height="1.00" fill="#333"/>
<rect x="79.22" y="393.00" width="0.30" height="0.80" fill="#666"/>
<rect x="81.54" y="394.70" width="2.60" height="1.00" fill="#333"/>
<rect x="82.84" y="393.00" width="0.30" height="0.80" fill="#666"/>
<rect x="85.16" y="394.70" width="2.60" height="1.00" fill="#333"/>
<rect x="86.46" y="393.00" width="0.30" height="0.80" fill="#666"/>
<rect x="88.78" y="394.70" width="2.60" height="1.00" fill="#333"/>
<rect x="90.08" y="393.00" width="0.30" height="0.80" fill="#666"/>
<rect x="92.40" y="394.70" width="2.60" height="1.00" fill="#333"/>
<rect x="93.70" y="393.00" width="0.30" height="0.80" fill="#666"/>
<rect x="96.02" y="394.70" width="2.60" height="1.00" fill="#333"/>
<rect x="97.32" y="393.00" width="0.30" height="0.80" fill="#666"/>
<rect x="99.64" y="394.70" width="2.60" height="1.00" fill="#333"/>
<rect x="100.94" y="393.00" width="0.30" height="0.80" fill="#666"/>
<rect x="103.26" y="394.70" width="2.60" height="1.00" fill="#333"/>
<rect x="104.56" y="393.00" width="0.30" height="0.80" fill="#666"/>
<rect x="106.88" y="394.70" width="2.60" height="1.00" fill="#333"/>
<rect x="108.18" y="393.00" width="0.30" height="0.80" fill="#666"/>
<rect x="110.50" y="394.70" width="2.60" height="1.00" fill="#333"/>
<rect x="111.80" y="393.00" width="0.30" height="0.80" fill="#666"/>
<rect x="114.12" y="394.70" width="2.60" height="1.00" fill="#333"/>
<rect x="115.42" y="393.00" width="0.30" height="0.80" fill="#666"/>
<rect x="117.74" y="394.70" width="2.60" height="1.00" fill="#333"/>
<rect x="119.04" y="393.00" width="0.30" height="0.80" fill="#666"/>
<rect x="121.36" y="394.70" width="2.60" height="1.00" fill="#333"/>
<rect x="122.66" y="393.00" width="0.30" height="0.80" fill="#666"/>
<rect x="124.98" y="394.70" width="2.60" height="1.00" fill="#333"/>
<rect x="126.28" y="393.00" width="0.30" height="0.80" fill="#666"/>
<rect x="128.60" y="394.70" width="2.60" height="1.00" fill="#333"/>
<rect x="129.90" y="393.00" width="0.30" height="0.80" fill="#666"/>
<rect x="132.22" y="394.70" width="2.60" height="1.00" fill="#333"/>
<rect x="133.52" y="393.00" width="0.30" height="0.80" fill="#666"/>
<rect x="135.84" y="394.70" width="2.60" height="1.00" fill="#333"/>
<rect x="137.14" y="393.00" width="0.30" height="0.80" fill="#666"/>
<rect x="139.46" y="394.70" width="2.60" height="1.00" fill="#333"/>
<rect x="140.76" y="393.00" width="0.30" height="0.80" fill="#666"/>
<rect x="143.08" y="394.70" width="2.60" height="1.00" fill="#333"/>
<rect x="144.38" y="393.00" width="0.30" height="0.80" fill="#666"/>
<rect x="146.70" y="394.70" width="2.60" height="1.00" fill="#333"/>
<rect x="148.00" y="393.00" width="0.30" height="0.80" fill="#666"/>
<rect x="150.32" y="394.70" width="2.60" height="1.00" fill="#333"/>
<rect x="151.62" y="393.00" width="0.30" height="0.80" fill="#666"/>
<rect x="153.94" y="394.70" width="2.60" height="1.00" fill="#333"/>
<rect x="155.24" y="393.00" width="0.30" height="0.80" fill="#666"/>
<rect x="157.56" y="394.70" width="2.60" height="1.00" fill="#333"/>
<rect x="158.86" y="393.00" width="0.30" height="0.80" fill="#666"/>
<rect x="161.18" y="394.70" width="2.60" height="1.00" fill="#333"/>
<rect x="162.48" y="393.00" width="0.30" height="0.80" fill="#666"/>
<rect x="164.80" y="394.70" width="2.60" height="1.00" fill="#333"/>
<rect x="166.10" y="393.00" width="0.30" height="0.80" fill="#666"/>
<rect x="168.42" y="394.70" width="2.60" height="1.00" fill="#333"/>
<rect x="169.72" y="393.00" width="0.30" height="0.80" fill="#666"/>
<rect x="172.04" y="394.70" width="2.60" height="1.00" fill="#333"/>
<rect x="173.34" y="393.00" width="0.30" height="0.80" fill="#666"/>
<rect x="175.66" y="394.70" width="2.60" height="1.00" fill="#333"/>
<rect x="176.96" y="393.00" width="0.30" height="0.80" fill="#666"/>
<rect x="179.28" y="394.70" width="2.60" height="1.00" fill="#333"/>
<rect x="180.58" y="393.00" width="0.30" height="0.80" fill="#666"/>
<rect x="182.90" y="394.70" width="2.60" height="1.00" fill="#333"/>
<rect x="184.20" y="393.00" width="0.30" height="0.80" fill="#666"/>
<rect x="186.52" y="394.70" width="2.60" height="1.00" fill="#333"/>
<rect x="187.82" y="393.00" width="0.30" height="0.80" fill="#666"/>
<rect x="190.14" y="394.70" width="2.60" height="1.00" fill="#333"/>
<rect x="191.44" y="393.00" width="0.30" height="0.80" fill="#666"/>
<rect x="193.76" y="394.70" width="2.60" height="1.00" fill="#333"/>
<rect x="195.06" y="393.00" width="0.30" height="0.80" fill="#666"/>
<path d="M18.8 392.6Q108 368.5 200.0 342.2" fill="none" stroke="#6d6fd6" stroke-width="0.38"/>
<path d="M18.8 392.6Q110 386.8 200.0 379.8" fill="none" stroke="#e25aa8" stroke-width="0.38"/>
<rect x="24.65" y="390.51" width="0.80" height="0.80" fill="#4a4cd0"/>
<rect x="24.78" y="391.79" width="0.80" height="0.80" fill="#dc4096"/>
<rect x="35.37" y="387.60" width="0.80" height="0.80" fill="#4a4cd0"/>
<rect x="35.72" y="391.09" width="0.80" height="0.80" fill="#dc4096"/>
<rect x="53.29" y="382.72" width="0.80" height="0.80" fill="#4a4cd0"/>
<rect x="53.92" y="389.89" width="0.80" height="0.80" fill="#dc4096"/>
<rect x="89.30" y="372.82" width="0.80" height="0.80" fill="#4a4cd0"/>
<rect x="90.26" y="387.43" width="0.80" height="0.80" fill="#dc4096"/>
<rect x="199.60" y="341.80" width="0.80" height="0.80" fill="#4a4cd0"/>
<rect x="199.60" y="379.40" width="0.80" height="0.80" fill="#dc4096"/>
<text x="24.90" y="349.40" font-size="4.8" fill="#1c6937" font-weight="bold" textLength="15.16" lengthAdjust="spacingAndGlyphs" stroke="#1c6937" stroke-width="0.168">PFHxS</text>
<text x="24.90" y="353.90" font-size="3.6" fill="#1c6937" textLength="29.30" lengthAdjust="spacingAndGlyphs" stroke="#1c6937" stroke-width="0.108">Calibration Curve</text>
<rect x="9.6" y="407.4" width="194.9" height="60.0" rx="4.5" fill="#fff" stroke="#3b8152" stroke-width="0.9"/>
<path d="M16.4 411.4V461.2H199.6" fill="none" stroke="#555" stroke-width="0.4"/>
<rect x="11.80" y="460.75" width="2.60" height="0.90" fill="#444"/>
<rect x="15.50" y="461.05" width="0.90" height="0.30" fill="#666"/>
<rect x="11.80" y="456.54" width="2.60" height="0.90" fill="#444"/>
<rect x="15.50" y="456.84" width="0.90" height="0.30" fill="#666"/>
<rect x="11.80" y="452.33" width="2.60" height="0.90" fill="#444"/>
<rect x="15.50" y="452.63" width="0.90" height="0.30" fill="#666"/>
<rect x="11.80" y="448.12" width="2.60" height="0.90" fill="#444"/>
<rect x="15.50" y="448.42" width="0.90" height="0.30" fill="#666"/>
<rect x="11.80" y="443.91" width="2.60" height="0.90" fill="#444"/>
<rect x="15.50" y="444.21" width="0.90" height="0.30" fill="#666"/>
<rect x="11.80" y="439.70" width="2.60" height="0.90" fill="#444"/>
<rect x="15.50" y="440.00" width="0.90" height="0.30" fill="#666"/>
<rect x="11.80" y="435.50" width="2.60" height="0.90" fill="#444"/>
<rect x="15.50" y="435.80" width="0.90" height="0.30" fill="#666"/>
<rect x="11.80" y="431.29" width="2.60" height="0.90" fill="#444"/>
<rect x="15.50" y="431.59" width="0.90" height="0.30" fill="#666"/>
<rect x="11.80" y="427.08" width="2.60" height="0.90" fill="#444"/>
<rect x="15.50" y="427.38" width="0.90" height="0.30" fill="#666"/>
<rect x="11.80" y="422.87" width="2.60" height="0.90" fill="#444"/>
<rect x="15.50" y="423.17" width="0.90" height="0.30" fill="#666"/>
<rect x="11.80" y="418.66" width="2.60" height="0.90" fill="#444"/>
<rect x="15.50" y="418.96" width="0.90" height="0.30" fill="#666"/>
<rect x="11.80" y="414.45" width="2.60" height="0.90" fill="#444"/>
<rect x="15.50" y="414.75" width="0.90" height="0.30" fill="#666"/>
<rect x="25.00" y="462.90" width="2.60" height="1.00" fill="#333"/>
<rect x="26.30" y="461.20" width="0.30" height="0.80" fill="#666"/>
<rect x="34.25" y="462.90" width="2.60" height="1.00" fill="#333"/>
<rect x="35.55" y="461.20" width="0.30" height="0.80" fill="#666"/>
<rect x="43.50" y="462.90" width="2.60" height="1.00" fill="#333"/>
<rect x="44.80" y="461.20" width="0.30" height="0.80" fill="#666"/>
<rect x="52.75" y="462.90" width="2.60" height="1.00" fill="#333"/>
<rect x="54.05" y="461.20" width="0.30" height="0.80" fill="#666"/>
<rect x="62.00" y="462.90" width="2.60" height="1.00" fill="#333"/>
<rect x="63.30" y="461.20" width="0.30" height="0.80" fill="#666"/>
<rect x="71.25" y="462.90" width="2.60" height="1.00" fill="#333"/>
<rect x="72.55" y="461.20" width="0.30" height="0.80" fill="#666"/>
<rect x="80.50" y="462.90" width="2.60" height="1.00" fill="#333"/>
<rect x="81.80" y="461.20" width="0.30" height="0.80" fill="#666"/>
<rect x="89.75" y="462.90" width="2.60" height="1.00" fill="#333"/>
<rect x="91.05" y="461.20" width="0.30" height="0.80" fill="#666"/>
<rect x="99.00" y="462.90" width="2.60" height="1.00" fill="#333"/>
<rect x="100.30" y="461.20" width="0.30" height="0.80" fill="#666"/>
<rect x="108.25" y="462.90" width="2.60" height="1.00" fill="#333"/>
<rect x="109.55" y="461.20" width="0.30" height="0.80" fill="#666"/>
<rect x="117.50" y="462.90" width="2.60" height="1.00" fill="#333"/>
<rect x="118.80" y="461.20" width="0.30" height="0.80" fill="#666"/>
<rect x="126.75" y="462.90" width="2.60" height="1.00" fill="#333"/>
<rect x="128.05" y="461.20" width="0.30" height="0.80" fill="#666"/>
<rect x="136.00" y="462.90" width="2.60" height="1.00" fill="#333"/>
<rect x="137.30" y="461.20" width="0.30" height="0.80" fill="#666"/>
<rect x="145.25" y="462.90" width="2.60" height="1.00" fill="#333"/>
<rect x="146.55" y="461.20" width="0.30" height="0.80" fill="#666"/>
<rect x="154.50" y="462.90" width="2.60" height="1.00" fill="#333"/>
<rect x="155.80" y="461.20" width="0.30" height="0.80" fill="#666"/>
<rect x="163.75" y="462.90" width="2.60" height="1.00" fill="#333"/>
<rect x="165.05" y="461.20" width="0.30" height="0.80" fill="#666"/>
<rect x="173.00" y="462.90" width="2.60" height="1.00" fill="#333"/>
<rect x="174.30" y="461.20" width="0.30" height="0.80" fill="#666"/>
<rect x="182.25" y="462.90" width="2.60" height="1.00" fill="#333"/>
<rect x="183.55" y="461.20" width="0.30" height="0.80" fill="#666"/>
<rect x="191.50" y="462.90" width="2.60" height="1.00" fill="#333"/>
<rect x="192.80" y="461.20" width="0.30" height="0.80" fill="#666"/>
<path d="M17.4 460.8Q105 436.8 199.0 410.2" fill="none" stroke="#6d6fd6" stroke-width="0.38"/>
<path d="M17.4 460.8Q108 450.5 199.0 439.0" fill="none" stroke="#e25aa8" stroke-width="0.38"/>
<rect x="23.14" y="458.72" width="0.80" height="0.80" fill="#4a4cd0"/>
<rect x="23.34" y="459.68" width="0.80" height="0.80" fill="#dc4096"/>
<rect x="33.70" y="455.82" width="0.80" height="0.80" fill="#4a4cd0"/>
<rect x="34.22" y="458.43" width="0.80" height="0.80" fill="#dc4096"/>
<rect x="51.41" y="450.94" width="0.80" height="0.80" fill="#4a4cd0"/>
<rect x="52.35" y="456.34" width="0.80" height="0.80" fill="#dc4096"/>
<rect x="87.20" y="441.03" width="0.80" height="0.80" fill="#4a4cd0"/>
<rect x="88.64" y="452.08" width="0.80" height="0.80" fill="#dc4096"/>
<rect x="198.60" y="409.80" width="0.80" height="0.80" fill="#4a4cd0"/>
<rect x="198.60" y="438.60" width="0.80" height="0.80" fill="#dc4096"/>
<text x="25.60" y="416.60" font-size="4.8" fill="#1c6937" font-weight="bold" textLength="16.99" lengthAdjust="spacingAndGlyphs" stroke="#1c6937" stroke-width="0.168">8:2 FTS</text>
<text x="25.60" y="421.10" font-size="3.6" fill="#1c6937" textLength="29.30" lengthAdjust="spacingAndGlyphs" stroke="#1c6937" stroke-width="0.108">Calibration Curve</text>
<text x="11.90" y="475.50" font-size="4.1" fill="#3a3a3a" font-weight="bold" textLength="18.60" lengthAdjust="spacingAndGlyphs" stroke="#3a3a3a" stroke-width="0.143">Reference:</text>
<text x="11.90" y="481.60" font-size="3.8" fill="#3a3a3a" textLength="187.20" lengthAdjust="spacingAndGlyphs" stroke="#3a3a3a" stroke-width="0.114">[1] 2nd Draft Method 1633 Analysis of Per- and Polyfluoroalkyl Substances (PFAS) in Aqueous, Solid, Biosolids, and</text>
<text x="11.90" y="487.20" font-size="3.8" fill="#3a3a3a" textLength="125.80" lengthAdjust="spacingAndGlyphs" stroke="#3a3a3a" stroke-width="0.114">Tissue Samples by LC-MS/MS.  URL: www.epa.gov/system/files/docu-</text>
<text x="11.90" y="492.90" font-size="3.8" fill="#3a3a3a" textLength="165.00" lengthAdjust="spacingAndGlyphs" stroke="#3a3a3a" stroke-width="0.114">ments/2022-07/2nd%20Draft%20of%20Method%201633%20June%202022%20508-compliant.pdf</text>
<rect x="11.90" y="500.00" width="190.60" height="0.40" fill="#555"/>
<text x="11.90" y="504.60" font-size="3.8" fill="#3a3a3a" textLength="187.20" lengthAdjust="spacingAndGlyphs" stroke="#3a3a3a" stroke-width="0.114">Disclosure:  The speaker, author, moderator, planning member and/or presenter/s do have financial relationships</text>
<text x="11.90" y="510.20" font-size="3.8" fill="#3a3a3a" textLength="183.50" lengthAdjust="spacingAndGlyphs" stroke="#3a3a3a" stroke-width="0.114">with UCT, Inc. , as defined in the AACC policy on potential bias or conflict of interest. The specific product/s :</text>
<text x="11.90" y="515.80" font-size="3.8" fill="#3a3a3a" textLength="182.70" lengthAdjust="spacingAndGlyphs" stroke="#3a3a3a" stroke-width="0.114">Enviro-Clean® WAX156-P, Enviro-Clean® Graphitized Carbon, Selectracore® HPLC columns, Selectracore® Guard</text>
<text x="11.90" y="521.40" font-size="3.8" fill="#3a3a3a" textLength="177.40" lengthAdjust="spacingAndGlyphs" stroke="#3a3a3a" stroke-width="0.114">Columns, Selectra® Delay Column and Selectra® Guard Column Holder will be mentioned and/or discussed.</text>
<text x="11.90" y="532.90" font-size="3.8" fill="#3a3a3a" textLength="59.60" lengthAdjust="spacingAndGlyphs" stroke="#3a3a3a" stroke-width="0.114">© 2022 UCT, Inc. All Rights Reserved.</text>
<rect x="102.70" y="528.90" width="9.00" height="5.60" fill="#6d6e70" rx="0.6"/>
<path d="M103.2 529.6L107.2 532.3L111.2 529.6" fill="none" stroke="#9a9a9a" stroke-width="0.4"/>
<text x="113.30" y="532.90" font-size="3.8" fill="#3a3a3a" textLength="86.60" lengthAdjust="spacingAndGlyphs" stroke="#3a3a3a" stroke-width="0.114">Questions / Comments: methods@unitedchem.com</text>
<clipPath id="fp216_77"><rect x="216.7" y="77.7" width="150.10000000000002" height="120.3" rx="5.5"/></clipPath>
<g clip-path="url(#fp216_77)">
<rect x="216.70" y="77.70" width="150.10" height="120.30" fill="#fff"/>
<rect x="216.70" y="185.00" width="150.10" height="13.00" fill="#fdc820"/>
</g>
<text x="227.70" y="192.70" font-size="4.81" fill="#1c6937" font-weight="bold" textLength="113.30" lengthAdjust="spacingAndGlyphs" stroke="#1c6937" stroke-width="0.168">Figure 1: Linear and Branched Isomer Separation (PFOS)</text>
<path d="M228.7 79.4V179.4H363.5" fill="none" stroke="#666" stroke-width="0.35"/>
<rect x="224.30" y="178.95" width="2.70" height="0.90" fill="#333"/>
<rect x="227.80" y="179.25" width="0.90" height="0.30" fill="#555"/>
<rect x="224.30" y="172.76" width="2.70" height="0.90" fill="#333"/>
<rect x="227.80" y="173.06" width="0.90" height="0.30" fill="#555"/>
<rect x="224.30" y="166.58" width="2.70" height="0.90" fill="#333"/>
<rect x="227.80" y="166.88" width="0.90" height="0.30" fill="#555"/>
<rect x="224.30" y="160.39" width="2.70" height="0.90" fill="#333"/>
<rect x="227.80" y="160.69" width="0.90" height="0.30" fill="#555"/>
<rect x="224.30" y="154.20" width="2.70" height="0.90" fill="#333"/>
<rect x="227.80" y="154.50" width="0.90" height="0.30" fill="#555"/>
<rect x="224.30" y="148.01" width="2.70" height="0.90" fill="#333"/>
<rect x="227.80" y="148.31" width="0.90" height="0.30" fill="#555"/>
<rect x="224.30" y="141.83" width="2.70" height="0.90" fill="#333"/>
<rect x="227.80" y="142.12" width="0.90" height="0.30" fill="#555"/>
<rect x="224.30" y="135.64" width="2.70" height="0.90" fill="#333"/>
<rect x="227.80" y="135.94" width="0.90" height="0.30" fill="#555"/>
<rect x="224.30" y="129.45" width="2.70" height="0.90" fill="#333"/>
<rect x="227.80" y="129.75" width="0.90" height="0.30" fill="#555"/>
<rect x="224.30" y="123.26" width="2.70" height="0.90" fill="#333"/>
<rect x="227.80" y="123.56" width="0.90" height="0.30" fill="#555"/>
<rect x="224.30" y="117.08" width="2.70" height="0.90" fill="#333"/>
<rect x="227.80" y="117.38" width="0.90" height="0.30" fill="#555"/>
<rect x="224.30" y="110.89" width="2.70" height="0.90" fill="#333"/>
<rect x="227.80" y="111.19" width="0.90" height="0.30" fill="#555"/>
<rect x="224.30" y="104.70" width="2.70" height="0.90" fill="#333"/>
<rect x="227.80" y="105.00" width="0.90" height="0.30" fill="#555"/>
<rect x="224.30" y="98.51" width="2.70" height="0.90" fill="#333"/>
<rect x="227.80" y="98.81" width="0.90" height="0.30" fill="#555"/>
<rect x="224.30" y="92.33" width="2.70" height="0.90" fill="#333"/>
<rect x="227.80" y="92.62" width="0.90" height="0.30" fill="#555"/>
<rect x="224.30" y="86.14" width="2.70" height="0.90" fill="#333"/>
<rect x="227.80" y="86.44" width="0.90" height="0.30" fill="#555"/>
<rect x="224.30" y="79.95" width="2.70" height="0.90" fill="#333"/>
<rect x="227.80" y="80.25" width="0.90" height="0.30" fill="#555"/>
<rect x="221.40" y="126.40" width="0.90" height="7.00" fill="#333"/>
<rect x="236.80" y="181.00" width="2.40" height="0.90" fill="#333"/>
<rect x="237.85" y="179.40" width="0.30" height="0.80" fill="#555"/>
<rect x="246.52" y="181.00" width="2.40" height="0.90" fill="#333"/>
<rect x="247.57" y="179.40" width="0.30" height="0.80" fill="#555"/>
<rect x="256.24" y="181.00" width="2.40" height="0.90" fill="#333"/>
<rect x="257.29" y="179.40" width="0.30" height="0.80" fill="#555"/>
<rect x="265.96" y="181.00" width="2.40" height="0.90" fill="#333"/>
<rect x="267.01" y="179.40" width="0.30" height="0.80" fill="#555"/>
<rect x="275.68" y="181.00" width="2.40" height="0.90" fill="#333"/>
<rect x="276.73" y="179.40" width="0.30" height="0.80" fill="#555"/>
<rect x="285.40" y="181.00" width="2.40" height="0.90" fill="#333"/>
<rect x="286.45" y="179.40" width="0.30" height="0.80" fill="#555"/>
<rect x="295.12" y="181.00" width="2.40" height="0.90" fill="#333"/>
<rect x="296.17" y="179.40" width="0.30" height="0.80" fill="#555"/>
<rect x="304.84" y="181.00" width="2.40" height="0.90" fill="#333"/>
<rect x="305.89" y="179.40" width="0.30" height="0.80" fill="#555"/>
<rect x="314.56" y="181.00" width="2.40" height="0.90" fill="#333"/>
<rect x="315.61" y="179.40" width="0.30" height="0.80" fill="#555"/>
<rect x="324.28" y="181.00" width="2.40" height="0.90" fill="#333"/>
<rect x="325.33" y="179.40" width="0.30" height="0.80" fill="#555"/>
<rect x="334.00" y="181.00" width="2.40" height="0.90" fill="#333"/>
<rect x="335.05" y="179.40" width="0.30" height="0.80" fill="#555"/>
<rect x="343.72" y="181.00" width="2.40" height="0.90" fill="#333"/>
<rect x="344.77" y="179.40" width="0.30" height="0.80" fill="#555"/>
<rect x="353.44" y="181.00" width="2.40" height="0.90" fill="#333"/>
<rect x="354.49" y="179.40" width="0.30" height="0.80" fill="#555"/>
<rect x="363.16" y="181.00" width="2.40" height="0.90" fill="#333"/>
<rect x="364.21" y="179.40" width="0.30" height="0.80" fill="#555"/>
<text x="236.00" y="85.90" font-size="3.6" fill="#222" font-weight="bold" textLength="36.50" lengthAdjust="spacingAndGlyphs" stroke="#222" stroke-width="0.126">Concentration: 5 ng/mL</text>
<path d="M315.65 179.20C316.55 179.20 316.93 154.40 317.23 109.76Q317.60 50.24 317.98 109.76C318.28 154.40 318.65 179.20 319.55 179.20" fill="#7d78d6" fill-opacity="0.35" stroke="#7d78d6" stroke-width="0.5"/>
<path d="M314.34 179.20C315.06 179.20 315.36 174.52 315.60 166.11Q315.90 154.89 316.20 166.11C316.44 174.52 316.74 179.20 317.46 179.20" fill="#9a86dc" fill-opacity="0.35" stroke="#9a86dc" stroke-width="0.45"/>
<path d="M316.50 179.20C317.10 179.20 317.35 172.65 317.55 160.86Q317.80 145.14 318.05 160.86C318.25 172.65 318.50 179.20 319.10 179.20" fill="#c58ad8" fill-opacity="0.3" stroke="#c58ad8" stroke-width="0.35"/>
<rect x="312.00" y="158.80" width="3.40" height="0.90" fill="#222"/>
<rect x="319.50" y="81.80" width="2.60" height="0.80" fill="#555"/>
<path d="M306 179.2H328" stroke="#b48ad8" stroke-width="0.5" fill="none"/>
<clipPath id="fp375_77"><rect x="375.9" y="77.7" width="149.39999999999998" height="120.3" rx="5.5"/></clipPath>
<g clip-path="url(#fp375_77)">
<rect x="375.90" y="77.70" width="149.40" height="120.30" fill="#fff"/>
<rect x="375.90" y="185.00" width="149.40" height="13.00" fill="#fdc820"/>
</g>
<text x="386.50" y="192.70" font-size="4.77" fill="#1c6937" font-weight="bold" textLength="85.50" lengthAdjust="spacingAndGlyphs" stroke="#1c6937" stroke-width="0.167">Figure 2: 1633 Extracted Internal Standards</text>
<path d="M387.7 81.0V177.5H520.5" fill="none" stroke="#666" stroke-width="0.35"/>
<rect x="383.30" y="177.05" width="2.70" height="0.90" fill="#333"/>
<rect x="386.80" y="177.35" width="0.90" height="0.30" fill="#555"/>
<rect x="383.30" y="169.09" width="2.70" height="0.90" fill="#333"/>
<rect x="386.80" y="169.39" width="0.90" height="0.30" fill="#555"/>
<rect x="383.30" y="161.13" width="2.70" height="0.90" fill="#333"/>
<rect x="386.80" y="161.43" width="0.90" height="0.30" fill="#555"/>
<rect x="383.30" y="153.18" width="2.70" height="0.90" fill="#333"/>
<rect x="386.80" y="153.47" width="0.90" height="0.30" fill="#555"/>
<rect x="383.30" y="145.22" width="2.70" height="0.90" fill="#333"/>
<rect x="386.80" y="145.52" width="0.90" height="0.30" fill="#555"/>
<rect x="383.30" y="137.26" width="2.70" height="0.90" fill="#333"/>
<rect x="386.80" y="137.56" width="0.90" height="0.30" fill="#555"/>
<rect x="383.30" y="129.30" width="2.70" height="0.90" fill="#333"/>
<rect x="386.80" y="129.60" width="0.90" height="0.30" fill="#555"/>
<rect x="383.30" y="121.34" width="2.70" height="0.90" fill="#333"/>
<rect x="386.80" y="121.64" width="0.90" height="0.30" fill="#555"/>
<rect x="383.30" y="113.38" width="2.70" height="0.90" fill="#333"/>
<rect x="386.80" y="113.68" width="0.90" height="0.30" fill="#555"/>
<rect x="383.30" y="105.42" width="2.70" height="0.90" fill="#333"/>
<rect x="386.80" y="105.72" width="0.90" height="0.30" fill="#555"/>
<rect x="383.30" y="97.47" width="2.70" height="0.90" fill="#333"/>
<rect x="386.80" y="97.77" width="0.90" height="0.30" fill="#555"/>
<rect x="383.30" y="89.51" width="2.70" height="0.90" fill="#333"/>
<rect x="386.80" y="89.81" width="0.90" height="0.30" fill="#555"/>
<rect x="383.30" y="81.55" width="2.70" height="0.90" fill="#333"/>
<rect x="386.80" y="81.85" width="0.90" height="0.30" fill="#555"/>
<rect x="380.40" y="126.25" width="0.90" height="7.00" fill="#333"/>
<rect x="396.40" y="179.10" width="2.40" height="0.90" fill="#333"/>
<rect x="397.45" y="177.50" width="0.30" height="0.80" fill="#555"/>
<rect x="405.95" y="179.10" width="2.40" height="0.90" fill="#333"/>
<rect x="407.00" y="177.50" width="0.30" height="0.80" fill="#555"/>
<rect x="415.50" y="179.10" width="2.40" height="0.90" fill="#333"/>
<rect x="416.55" y="177.50" width="0.30" height="0.80" fill="#555"/>
<rect x="425.05" y="179.10" width="2.40" height="0.90" fill="#333"/>
<rect x="426.10" y="177.50" width="0.30" height="0.80" fill="#555"/>
<rect x="434.60" y="179.10" width="2.40" height="0.90" fill="#333"/>
<rect x="435.65" y="177.50" width="0.30" height="0.80" fill="#555"/>
<rect x="444.15" y="179.10" width="2.40" height="0.90" fill="#333"/>
<rect x="445.20" y="177.50" width="0.30" height="0.80" fill="#555"/>
<rect x="453.70" y="179.10" width="2.40" height="0.90" fill="#333"/>
<rect x="454.75" y="177.50" width="0.30" height="0.80" fill="#555"/>
<rect x="463.25" y="179.10" width="2.40" height="0.90" fill="#333"/>
<rect x="464.30" y="177.50" width="0.30" height="0.80" fill="#555"/>
<rect x="472.80" y="179.10" width="2.40" height="0.90" fill="#333"/>
<rect x="473.85" y="177.50" width="0.30" height="0.80" fill="#555"/>
<rect x="482.35" y="179.10" width="2.40" height="0.90" fill="#333"/>
<rect x="483.40" y="177.50" width="0.30" height="0.80" fill="#555"/>
<rect x="491.90" y="179.10" width="2.40" height="0.90" fill="#333"/>
<rect x="492.95" y="177.50" width="0.30" height="0.80" fill="#555"/>
<rect x="501.45" y="179.10" width="2.40" height="0.90" fill="#333"/>
<rect x="502.50" y="177.50" width="0.30" height="0.80" fill="#555"/>
<rect x="511.00" y="179.10" width="2.40" height="0.90" fill="#333"/>
<rect x="512.05" y="177.50" width="0.30" height="0.80" fill="#555"/>
<rect x="520.55" y="179.10" width="2.40" height="0.90" fill="#333"/>
<rect x="521.60" y="177.50" width="0.30" height="0.80" fill="#555"/>
<text x="394.10" y="85.90" font-size="3.6" fill="#222" font-weight="bold" textLength="41.10" lengthAdjust="spacingAndGlyphs" stroke="#222" stroke-width="0.126">Concentration: ISTDs in the</text>
<text x="394.10" y="89.70" font-size="3.6" fill="#222" font-weight="bold" textLength="35.60" lengthAdjust="spacingAndGlyphs" stroke="#222" stroke-width="0.126">range of 1.25-25 ng/mL</text>
<path d="M421.77 177.30C422.43 177.30 422.70 174.98 422.93 170.79Q423.20 165.21 423.47 170.79C423.69 174.98 423.97 177.30 424.63 177.30" fill="#6f6fd0" fill-opacity="0.18" stroke="#6f6fd0" stroke-width="0.4"/>
<path d="M436.44 177.30C437.16 177.30 437.46 169.48 437.70 155.39Q438.00 136.61 438.30 155.39C438.54 169.48 438.84 177.30 439.56 177.30" fill="#8d7bd4" fill-opacity="0.18" stroke="#8d7bd4" stroke-width="0.4"/>
<path d="M445.30 177.30C445.90 177.30 446.15 172.35 446.35 163.44Q446.60 151.56 446.85 163.44C447.05 172.35 447.30 177.30 447.90 177.30" fill="#8a78d0" fill-opacity="0.18" stroke="#8a78d0" stroke-width="0.4"/>
<path d="M446.43 177.30C446.97 177.30 447.20 174.48 447.38 169.39Q447.60 162.61 447.83 169.39C448.00 174.48 448.23 177.30 448.77 177.30" fill="#e0956a" fill-opacity="0.18" stroke="#e0956a" stroke-width="0.4"/>
<path d="M448.20 177.30C448.80 177.30 449.05 170.48 449.25 158.19Q449.50 141.81 449.75 158.19C449.95 170.48 450.20 177.30 450.80 177.30" fill="#5a78cc" fill-opacity="0.18" stroke="#5a78cc" stroke-width="0.4"/>
<path d="M452.37 177.30C453.03 177.30 453.31 173.23 453.53 165.89Q453.80 156.11 454.07 165.89C454.30 173.23 454.57 177.30 455.23 177.30" fill="#a98bd8" fill-opacity="0.18" stroke="#a98bd8" stroke-width="0.4"/>
<path d="M459.20 177.30C459.80 177.30 460.05 173.23 460.25 165.89Q460.50 156.11 460.75 165.89C460.95 173.23 461.20 177.30 461.80 177.30" fill="#c48ad0" fill-opacity="0.18" stroke="#c48ad0" stroke-width="0.4"/>
<path d="M461.63 177.30C462.17 177.30 462.40 174.98 462.57 170.79Q462.80 165.21 463.03 170.79C463.20 174.98 463.43 177.30 463.97 177.30" fill="#f0a050" fill-opacity="0.18" stroke="#f0a050" stroke-width="0.4"/>
<path d="M465.23 177.30C465.77 177.30 466.00 174.98 466.17 170.79Q466.40 165.21 466.62 170.79C466.80 174.98 467.03 177.30 467.57 177.30" fill="#b08ad8" fill-opacity="0.18" stroke="#b08ad8" stroke-width="0.4"/>
<path d="M456.46 177.30C456.94 177.30 457.14 176.23 457.30 174.29Q457.50 171.71 457.70 174.29C457.86 176.23 458.06 177.30 458.54 177.30" fill="#9ad08a" fill-opacity="0.18" stroke="#9ad08a" stroke-width="0.4"/>
<path d="M442.96 177.30C443.44 177.30 443.64 175.73 443.80 172.89Q444.00 169.11 444.20 172.89C444.36 175.73 444.56 177.30 445.04 177.30" fill="#a8d88a" fill-opacity="0.18" stroke="#a8d88a" stroke-width="0.4"/>
<path d="M470.44 177.30C471.16 177.30 471.46 172.35 471.70 163.44Q472.00 151.56 472.30 163.44C472.54 172.35 472.84 177.30 473.56 177.30" fill="#9fd8d0" fill-opacity="0.18" stroke="#9fd8d0" stroke-width="0.4"/>
<path d="M473.20 177.30C473.80 177.30 474.05 172.98 474.25 165.19Q474.50 154.81 474.75 165.19C474.95 172.98 475.20 177.30 475.80 177.30" fill="#8ec4ea" fill-opacity="0.18" stroke="#8ec4ea" stroke-width="0.4"/>
<path d="M476.20 177.30C476.80 177.30 477.05 173.48 477.25 166.59Q477.50 157.41 477.75 166.59C477.95 173.48 478.20 177.30 478.80 177.30" fill="#f08a90" fill-opacity="0.18" stroke="#f08a90" stroke-width="0.4"/>
<path d="M469.33 177.30C469.87 177.30 470.10 174.23 470.27 168.69Q470.50 161.31 470.73 168.69C470.90 174.23 471.13 177.30 471.67 177.30" fill="#c8a0e0" fill-opacity="0.18" stroke="#c8a0e0" stroke-width="0.4"/>
<path d="M479.33 177.30C479.87 177.30 480.10 175.48 480.27 172.19Q480.50 167.81 480.73 172.19C480.90 175.48 481.13 177.30 481.67 177.30" fill="#f4b0a0" fill-opacity="0.18" stroke="#f4b0a0" stroke-width="0.4"/>
<path d="M482.20 177.30C482.80 177.30 483.05 172.73 483.25 164.49Q483.50 153.51 483.75 164.49C483.95 172.73 484.20 177.30 484.80 177.30" fill="#f07a60" fill-opacity="0.18" stroke="#f07a60" stroke-width="0.4"/>
<path d="M486.30 177.30C486.90 177.30 487.15 173.73 487.35 167.29Q487.60 158.71 487.85 167.29C488.05 173.73 488.30 177.30 488.90 177.30" fill="#a4dc9a" fill-opacity="0.18" stroke="#a4dc9a" stroke-width="0.4"/>
<path d="M489.46 177.30C489.94 177.30 490.14 175.73 490.30 172.89Q490.50 169.11 490.70 172.89C490.86 175.73 491.06 177.30 491.54 177.30" fill="#b0e0a8" fill-opacity="0.18" stroke="#b0e0a8" stroke-width="0.4"/>
<path d="M493.20 177.30C493.80 177.30 494.05 174.98 494.25 170.79Q494.50 165.21 494.75 170.79C494.95 174.98 495.20 177.30 495.80 177.30" fill="#f28a6a" fill-opacity="0.18" stroke="#f28a6a" stroke-width="0.4"/>
<path d="M494.96 177.30C495.44 177.30 495.64 175.98 495.80 173.59Q496.00 170.41 496.20 173.59C496.36 175.98 496.56 177.30 497.04 177.30" fill="#f4b080" fill-opacity="0.18" stroke="#f4b080" stroke-width="0.4"/>
<path d="M501.81 177.30C502.59 177.30 502.92 160.12 503.18 129.21Q503.50 87.99 503.82 129.21C504.08 160.12 504.41 177.30 505.19 177.30" fill="#a8d0f0" fill-opacity="0.18" stroke="#a8d0f0" stroke-width="0.4"/>
<path d="M506.97 177.30C507.63 177.30 507.90 153.10 508.12 109.54Q508.40 51.46 508.67 109.54C508.89 153.10 509.17 177.30 509.83 177.30" fill="#7f7fd8" fill-opacity="0.18" stroke="#7f7fd8" stroke-width="0.4"/>
<path d="M507.84 177.30C508.56 177.30 508.86 172.98 509.10 165.19Q509.40 154.81 509.70 165.19C509.94 172.98 510.24 177.30 510.96 177.30" fill="#b4b4ec" fill-opacity="0.18" stroke="#b4b4ec" stroke-width="0.4"/>
<path d="M510.33 177.30C510.87 177.30 511.10 175.98 511.27 173.59Q511.50 170.41 511.73 173.59C511.90 175.98 512.13 177.30 512.67 177.30" fill="#a0dca0" fill-opacity="0.18" stroke="#a0dca0" stroke-width="0.4"/>
<path d="M412 177.3H519" stroke="#7f86d8" stroke-width="0.45" fill="none"/>
<rect x="421.60" y="165.60" width="3.20" height="0.90" fill="#222"/>
<clipPath id="fp217_207"><rect x="217.3" y="207.6" width="149.89999999999998" height="120.4" rx="5.5"/></clipPath>
<g clip-path="url(#fp217_207)">
<rect x="217.30" y="207.60" width="149.90" height="120.40" fill="#fff"/>
<rect x="217.30" y="314.50" width="149.90" height="13.50" fill="#fdc820"/>
</g>
<text x="230.20" y="322.80" font-size="4.88" fill="#1c6937" font-weight="bold" textLength="97.10" lengthAdjust="spacingAndGlyphs" stroke="#1c6937" stroke-width="0.171">Figure 3: 1633 Non-Extracted Internal Standards</text>
<path d="M229.5 211.0V307.4H362.8" fill="none" stroke="#666" stroke-width="0.35"/>
<rect x="225.10" y="306.95" width="2.70" height="0.90" fill="#333"/>
<rect x="228.60" y="307.25" width="0.90" height="0.30" fill="#555"/>
<rect x="225.10" y="303.13" width="2.70" height="0.90" fill="#333"/>
<rect x="228.60" y="303.43" width="0.90" height="0.30" fill="#555"/>
<rect x="225.10" y="299.32" width="2.70" height="0.90" fill="#333"/>
<rect x="228.60" y="299.62" width="0.90" height="0.30" fill="#555"/>
<rect x="225.10" y="295.50" width="2.70" height="0.90" fill="#333"/>
<rect x="228.60" y="295.80" width="0.90" height="0.30" fill="#555"/>
<rect x="225.10" y="291.69" width="2.70" height="0.90" fill="#333"/>
<rect x="228.60" y="291.99" width="0.90" height="0.30" fill="#555"/>
<rect x="225.10" y="287.87" width="2.70" height="0.90" fill="#333"/>
<rect x="228.60" y="288.17" width="0.90" height="0.30" fill="#555"/>
<rect x="225.10" y="284.05" width="2.70" height="0.90" fill="#333"/>
<rect x="228.60" y="284.35" width="0.90" height="0.30" fill="#555"/>
<rect x="225.10" y="280.24" width="2.70" height="0.90" fill="#333"/>
<rect x="228.60" y="280.54" width="0.90" height="0.30" fill="#555"/>
<rect x="225.10" y="276.42" width="2.70" height="0.90" fill="#333"/>
<rect x="228.60" y="276.72" width="0.90" height="0.30" fill="#555"/>
<rect x="225.10" y="272.61" width="2.70" height="0.90" fill="#333"/>
<rect x="228.60" y="272.91" width="0.90" height="0.30" fill="#555"/>
<rect x="225.10" y="268.79" width="2.70" height="0.90" fill="#333"/>
<rect x="228.60" y="269.09" width="0.90" height="0.30" fill="#555"/>
<rect x="225.10" y="264.97" width="2.70" height="0.90" fill="#333"/>
<rect x="228.60" y="265.27" width="0.90" height="0.30" fill="#555"/>
<rect x="225.10" y="261.16" width="2.70" height="0.90" fill="#333"/>
<rect x="228.60" y="261.46" width="0.90" height="0.30" fill="#555"/>
<rect x="225.10" y="257.34" width="2.70" height="0.90" fill="#333"/>
<rect x="228.60" y="257.64" width="0.90" height="0.30" fill="#555"/>
<rect x="225.10" y="253.53" width="2.70" height="0.90" fill="#333"/>
<rect x="228.60" y="253.83" width="0.90" height="0.30" fill="#555"/>
<rect x="225.10" y="249.71" width="2.70" height="0.90" fill="#333"/>
<rect x="228.60" y="250.01" width="0.90" height="0.30" fill="#555"/>
<rect x="225.10" y="245.89" width="2.70" height="0.90" fill="#333"/>
<rect x="228.60" y="246.19" width="0.90" height="0.30" fill="#555"/>
<rect x="225.10" y="242.08" width="2.70" height="0.90" fill="#333"/>
<rect x="228.60" y="242.38" width="0.90" height="0.30" fill="#555"/>
<rect x="225.10" y="238.26" width="2.70" height="0.90" fill="#333"/>
<rect x="228.60" y="238.56" width="0.90" height="0.30" fill="#555"/>
<rect x="225.10" y="234.45" width="2.70" height="0.90" fill="#333"/>
<rect x="228.60" y="234.75" width="0.90" height="0.30" fill="#555"/>
<rect x="225.10" y="230.63" width="2.70" height="0.90" fill="#333"/>
<rect x="228.60" y="230.93" width="0.90" height="0.30" fill="#555"/>
<rect x="225.10" y="226.81" width="2.70" height="0.90" fill="#333"/>
<rect x="228.60" y="227.11" width="0.90" height="0.30" fill="#555"/>
<rect x="225.10" y="223.00" width="2.70" height="0.90" fill="#333"/>
<rect x="228.60" y="223.30" width="0.90" height="0.30" fill="#555"/>
<rect x="225.10" y="219.18" width="2.70" height="0.90" fill="#333"/>
<rect x="228.60" y="219.48" width="0.90" height="0.30" fill="#555"/>
<rect x="225.10" y="215.37" width="2.70" height="0.90" fill="#333"/>
<rect x="228.60" y="215.67" width="0.90" height="0.30" fill="#555"/>
<rect x="225.10" y="211.55" width="2.70" height="0.90" fill="#333"/>
<rect x="228.60" y="211.85" width="0.90" height="0.30" fill="#555"/>
<rect x="222.20" y="256.20" width="0.90" height="7.00" fill="#333"/>
<rect x="238.80" y="309.00" width="2.40" height="0.90" fill="#333"/>
<rect x="239.85" y="307.40" width="0.30" height="0.80" fill="#555"/>
<rect x="248.25" y="309.00" width="2.40" height="0.90" fill="#333"/>
<rect x="249.30" y="307.40" width="0.30" height="0.80" fill="#555"/>
<rect x="257.70" y="309.00" width="2.40" height="0.90" fill="#333"/>
<rect x="258.75" y="307.40" width="0.30" height="0.80" fill="#555"/>
<rect x="267.15" y="309.00" width="2.40" height="0.90" fill="#333"/>
<rect x="268.20" y="307.40" width="0.30" height="0.80" fill="#555"/>
<rect x="276.60" y="309.00" width="2.40" height="0.90" fill="#333"/>
<rect x="277.65" y="307.40" width="0.30" height="0.80" fill="#555"/>
<rect x="286.05" y="309.00" width="2.40" height="0.90" fill="#333"/>
<rect x="287.10" y="307.40" width="0.30" height="0.80" fill="#555"/>
<rect x="295.50" y="309.00" width="2.40" height="0.90" fill="#333"/>
<rect x="296.55" y="307.40" width="0.30" height="0.80" fill="#555"/>
<rect x="304.95" y="309.00" width="2.40" height="0.90" fill="#333"/>
<rect x="306.00" y="307.40" width="0.30" height="0.80" fill="#555"/>
<rect x="314.40" y="309.00" width="2.40" height="0.90" fill="#333"/>
<rect x="315.45" y="307.40" width="0.30" height="0.80" fill="#555"/>
<rect x="323.85" y="309.00" width="2.40" height="0.90" fill="#333"/>
<rect x="324.90" y="307.40" width="0.30" height="0.80" fill="#555"/>
<rect x="333.30" y="309.00" width="2.40" height="0.90" fill="#333"/>
<rect x="334.35" y="307.40" width="0.30" height="0.80" fill="#555"/>
<rect x="342.75" y="309.00" width="2.40" height="0.90" fill="#333"/>
<rect x="343.80" y="307.40" width="0.30" height="0.80" fill="#555"/>
<rect x="352.20" y="309.00" width="2.40" height="0.90" fill="#333"/>
<rect x="353.25" y="307.40" width="0.30" height="0.80" fill="#555"/>
<rect x="361.65" y="309.00" width="2.40" height="0.90" fill="#333"/>
<rect x="362.70" y="307.40" width="0.30" height="0.80" fill="#555"/>
<text x="236.10" y="214.50" font-size="3.6" fill="#222" font-weight="bold" textLength="41.50" lengthAdjust="spacingAndGlyphs" stroke="#222" stroke-width="0.126">Concentration: ISTDs in the</text>
<text x="236.10" y="218.30" font-size="3.6" fill="#222" font-weight="bold" textLength="36.80" lengthAdjust="spacingAndGlyphs" stroke="#222" stroke-width="0.126">range of 1.25-5.0 ng/mL</text>
<path d="M263.50 307.20C264.10 307.20 264.35 301.52 264.55 291.31Q264.80 277.69 265.05 291.31C265.25 301.52 265.50 307.20 266.10 307.20" fill="#6a6ad6" fill-opacity="0.18" stroke="#6a6ad6" stroke-width="0.4"/>
<path d="M265.00 307.20C265.60 307.20 265.85 302.02 266.05 292.71Q266.30 280.29 266.55 292.71C266.75 302.02 267.00 307.20 267.60 307.20" fill="#6a6ad6" fill-opacity="0.18" stroke="#6a6ad6" stroke-width="0.4"/>
<path d="M286.71 307.20C287.49 307.20 287.81 283.15 288.07 239.86Q288.40 182.14 288.72 239.86C288.98 283.15 289.31 307.20 290.09 307.20" fill="#b78ad8" fill-opacity="0.18" stroke="#b78ad8" stroke-width="0.4"/>
<path d="M300.51 307.20C301.29 307.20 301.62 302.15 301.88 293.06Q302.20 280.94 302.52 293.06C302.78 302.15 303.11 307.20 303.89 307.20" fill="#f08a8a" fill-opacity="0.18" stroke="#f08a8a" stroke-width="0.4"/>
<path d="M303.23 307.20C303.77 307.20 304.00 293.60 304.17 269.12Q304.40 236.48 304.62 269.12C304.80 293.60 305.03 307.20 305.57 307.20" fill="#8ccf7a" fill-opacity="0.18" stroke="#8ccf7a" stroke-width="0.4"/>
<path d="M305.99 307.20C307.01 307.20 307.44 287.27 307.77 251.41Q308.20 203.59 308.62 251.41C308.96 287.27 309.39 307.20 310.41 307.20" fill="#f5a070" fill-opacity="0.18" stroke="#f5a070" stroke-width="0.4"/>
<path d="M311.06 307.20C312.14 307.20 312.59 284.27 312.95 243.01Q313.40 187.99 313.85 243.01C314.21 284.27 314.66 307.20 315.74 307.20" fill="#a6d98c" fill-opacity="0.18" stroke="#a6d98c" stroke-width="0.4"/>
<path d="M315.04 307.20C315.76 307.20 316.06 294.90 316.30 272.76Q316.60 243.24 316.90 272.76C317.14 294.90 317.44 307.20 318.16 307.20" fill="#8fd4f2" fill-opacity="0.18" stroke="#8fd4f2" stroke-width="0.4"/>
<path d="M308.76 307.20C309.24 307.20 309.44 306.15 309.60 304.26Q309.80 301.74 310.00 304.26C310.16 306.15 310.36 307.20 310.84 307.20" fill="#f0c060" fill-opacity="0.18" stroke="#f0c060" stroke-width="0.4"/>
<path d="M231 307.2H320" stroke="#7f86d8" stroke-width="0.45" fill="none"/>
<rect x="263.60" y="282.00" width="3.60" height="0.90" fill="#222"/>
<clipPath id="fp376_207"><rect x="376.1" y="207.3" width="149.89999999999998" height="120.59999999999997" rx="5.5"/></clipPath>
<g clip-path="url(#fp376_207)">
<rect x="376.10" y="207.30" width="149.90" height="120.60" fill="#fff"/>
<rect x="376.10" y="314.20" width="149.90" height="13.70" fill="#fdc820"/>
</g>
<text x="388.20" y="322.80" font-size="4.94" fill="#1c6937" font-weight="bold" textLength="66.90" lengthAdjust="spacingAndGlyphs" stroke="#1c6937" stroke-width="0.173">Figure 4: 1633 Targeted Analytes</text>
<path d="M388.2 211.0V308.2H523.0" fill="none" stroke="#666" stroke-width="0.35"/>
<rect x="383.80" y="307.75" width="2.70" height="0.90" fill="#333"/>
<rect x="387.30" y="308.05" width="0.90" height="0.30" fill="#555"/>
<rect x="383.80" y="299.00" width="2.70" height="0.90" fill="#333"/>
<rect x="387.30" y="299.30" width="0.90" height="0.30" fill="#555"/>
<rect x="383.80" y="290.26" width="2.70" height="0.90" fill="#333"/>
<rect x="387.30" y="290.56" width="0.90" height="0.30" fill="#555"/>
<rect x="383.80" y="281.51" width="2.70" height="0.90" fill="#333"/>
<rect x="387.30" y="281.81" width="0.90" height="0.30" fill="#555"/>
<rect x="383.80" y="272.77" width="2.70" height="0.90" fill="#333"/>
<rect x="387.30" y="273.07" width="0.90" height="0.30" fill="#555"/>
<rect x="383.80" y="264.02" width="2.70" height="0.90" fill="#333"/>
<rect x="387.30" y="264.32" width="0.90" height="0.30" fill="#555"/>
<rect x="383.80" y="255.28" width="2.70" height="0.90" fill="#333"/>
<rect x="387.30" y="255.58" width="0.90" height="0.30" fill="#555"/>
<rect x="383.80" y="246.53" width="2.70" height="0.90" fill="#333"/>
<rect x="387.30" y="246.83" width="0.90" height="0.30" fill="#555"/>
<rect x="383.80" y="237.79" width="2.70" height="0.90" fill="#333"/>
<rect x="387.30" y="238.09" width="0.90" height="0.30" fill="#555"/>
<rect x="383.80" y="229.04" width="2.70" height="0.90" fill="#333"/>
<rect x="387.30" y="229.34" width="0.90" height="0.30" fill="#555"/>
<rect x="383.80" y="220.30" width="2.70" height="0.90" fill="#333"/>
<rect x="387.30" y="220.60" width="0.90" height="0.30" fill="#555"/>
<rect x="383.80" y="211.55" width="2.70" height="0.90" fill="#333"/>
<rect x="387.30" y="211.85" width="0.90" height="0.30" fill="#555"/>
<rect x="380.90" y="256.60" width="0.90" height="7.00" fill="#333"/>
<rect x="396.40" y="309.80" width="2.40" height="0.90" fill="#333"/>
<rect x="397.45" y="308.20" width="0.30" height="0.80" fill="#555"/>
<rect x="406.00" y="309.80" width="2.40" height="0.90" fill="#333"/>
<rect x="407.05" y="308.20" width="0.30" height="0.80" fill="#555"/>
<rect x="415.60" y="309.80" width="2.40" height="0.90" fill="#333"/>
<rect x="416.65" y="308.20" width="0.30" height="0.80" fill="#555"/>
<rect x="425.20" y="309.80" width="2.40" height="0.90" fill="#333"/>
<rect x="426.25" y="308.20" width="0.30" height="0.80" fill="#555"/>
<rect x="434.80" y="309.80" width="2.40" height="0.90" fill="#333"/>
<rect x="435.85" y="308.20" width="0.30" height="0.80" fill="#555"/>
<rect x="444.40" y="309.80" width="2.40" height="0.90" fill="#333"/>
<rect x="445.45" y="308.20" width="0.30" height="0.80" fill="#555"/>
<rect x="454.00" y="309.80" width="2.40" height="0.90" fill="#333"/>
<rect x="455.05" y="308.20" width="0.30" height="0.80" fill="#555"/>
<rect x="463.60" y="309.80" width="2.40" height="0.90" fill="#333"/>
<rect x="464.65" y="308.20" width="0.30" height="0.80" fill="#555"/>
<rect x="473.20" y="309.80" width="2.40" height="0.90" fill="#333"/>
<rect x="474.25" y="308.20" width="0.30" height="0.80" fill="#555"/>
<rect x="482.80" y="309.80" width="2.40" height="0.90" fill="#333"/>
<rect x="483.85" y="308.20" width="0.30" height="0.80" fill="#555"/>
<rect x="492.40" y="309.80" width="2.40" height="0.90" fill="#333"/>
<rect x="493.45" y="308.20" width="0.30" height="0.80" fill="#555"/>
<rect x="502.00" y="309.80" width="2.40" height="0.90" fill="#333"/>
<rect x="503.05" y="308.20" width="0.30" height="0.80" fill="#555"/>
<rect x="511.60" y="309.80" width="2.40" height="0.90" fill="#333"/>
<rect x="512.65" y="308.20" width="0.30" height="0.80" fill="#555"/>
<rect x="521.20" y="309.80" width="2.40" height="0.90" fill="#333"/>
<rect x="522.25" y="308.20" width="0.30" height="0.80" fill="#555"/>
<text x="394.60" y="214.50" font-size="3.6" fill="#222" font-weight="bold" textLength="45.10" lengthAdjust="spacingAndGlyphs" stroke="#222" stroke-width="0.126">Concentration: Analytes in the</text>
<text x="394.60" y="218.30" font-size="3.6" fill="#222" font-weight="bold" textLength="29.90" lengthAdjust="spacingAndGlyphs" stroke="#222" stroke-width="0.126">range of 5-50 ng/mL</text>
<path d="M422.70 308.00C423.30 308.00 423.55 307.50 423.75 306.60Q424.00 305.40 424.25 306.60C424.45 307.50 424.70 308.00 425.30 308.00" fill="#8888dd" fill-opacity="0.18" stroke="#8888dd" stroke-width="0.4"/>
<path d="M429.83 308.00C430.37 308.00 430.60 307.12 430.77 305.55Q431.00 303.45 431.23 305.55C431.40 307.12 431.63 308.00 432.17 308.00" fill="#8888dd" fill-opacity="0.18" stroke="#8888dd" stroke-width="0.4"/>
<path d="M433.33 308.00C433.87 308.00 434.10 307.38 434.27 306.25Q434.50 304.75 434.73 306.25C434.90 307.38 435.13 308.00 435.67 308.00" fill="#90c8f0" fill-opacity="0.18" stroke="#90c8f0" stroke-width="0.4"/>
<path d="M438.40 308.00C439.00 308.00 439.25 306.10 439.45 302.68Q439.70 298.12 439.95 302.68C440.15 306.10 440.40 308.00 441.00 308.00" fill="#7a7ad8" fill-opacity="0.18" stroke="#7a7ad8" stroke-width="0.4"/>
<path d="M441.00 308.00C441.60 308.00 441.85 306.00 442.05 302.40Q442.30 297.60 442.55 302.40C442.75 306.00 443.00 308.00 443.60 308.00" fill="#8a7ad8" fill-opacity="0.18" stroke="#8a7ad8" stroke-width="0.4"/>
<path d="M444.30 308.00C444.90 308.00 445.15 303.65 445.35 295.82Q445.60 285.38 445.85 295.82C446.05 303.65 446.30 308.00 446.90 308.00" fill="#f5b040" fill-opacity="0.18" stroke="#f5b040" stroke-width="0.4"/>
<path d="M446.63 308.00C447.17 308.00 447.40 306.00 447.57 302.40Q447.80 297.60 448.03 302.40C448.20 306.00 448.43 308.00 448.97 308.00" fill="#e070a0" fill-opacity="0.18" stroke="#e070a0" stroke-width="0.4"/>
<path d="M448.13 308.00C448.67 308.00 448.90 305.25 449.07 300.30Q449.30 293.70 449.53 300.30C449.70 305.25 449.93 308.00 450.47 308.00" fill="#f08a70" fill-opacity="0.18" stroke="#f08a70" stroke-width="0.4"/>
<path d="M449.33 308.00C450.47 308.00 450.94 292.60 451.32 264.88Q451.80 227.92 452.28 264.88C452.66 292.60 453.13 308.00 454.27 308.00" fill="#5f8ee0" fill-opacity="0.18" stroke="#5f8ee0" stroke-width="0.4"/>
<path d="M451.31 308.00C452.09 308.00 452.42 296.50 452.68 275.80Q453.00 248.20 453.32 275.80C453.58 296.50 453.91 308.00 454.69 308.00" fill="#90c4f0" fill-opacity="0.18" stroke="#90c4f0" stroke-width="0.4"/>
<path d="M454.03 308.00C454.57 308.00 454.80 305.00 454.97 299.60Q455.20 292.40 455.43 299.60C455.60 305.00 455.83 308.00 456.37 308.00" fill="#b48ae0" fill-opacity="0.18" stroke="#b48ae0" stroke-width="0.4"/>
<path d="M456.14 308.00C456.86 308.00 457.16 283.45 457.40 239.26Q457.70 180.34 458.00 239.26C458.24 283.45 458.54 308.00 459.26 308.00" fill="#a8dca0" fill-opacity="0.18" stroke="#a8dca0" stroke-width="0.4"/>
<path d="M458.33 308.00C458.87 308.00 459.10 305.50 459.27 301.00Q459.50 295.00 459.73 301.00C459.90 305.50 460.13 308.00 460.67 308.00" fill="#a48ae0" fill-opacity="0.18" stroke="#a48ae0" stroke-width="0.4"/>
<path d="M460.30 308.00C460.90 308.00 461.15 305.32 461.35 300.51Q461.60 294.09 461.85 300.51C462.05 305.32 462.30 308.00 462.90 308.00" fill="#c8d860" fill-opacity="0.18" stroke="#c8d860" stroke-width="0.4"/>
<path d="M462.33 308.00C462.87 308.00 463.10 305.75 463.27 301.70Q463.50 296.30 463.73 301.70C463.90 305.75 464.13 308.00 464.67 308.00" fill="#e890c0" fill-opacity="0.18" stroke="#e890c0" stroke-width="0.4"/>
<path d="M463.84 308.00C464.56 308.00 464.86 293.55 465.10 267.54Q465.40 232.86 465.70 267.54C465.94 293.55 466.24 308.00 466.96 308.00" fill="#5f8ee0" fill-opacity="0.18" stroke="#5f8ee0" stroke-width="0.4"/>
<path d="M467.20 308.00C467.80 308.00 468.05 304.82 468.25 299.11Q468.50 291.49 468.75 299.11C468.95 304.82 469.20 308.00 469.80 308.00" fill="#b48ae0" fill-opacity="0.18" stroke="#b48ae0" stroke-width="0.4"/>
<path d="M469.63 308.00C470.17 308.00 470.40 306.00 470.57 302.40Q470.80 297.60 471.03 302.40C471.20 306.00 471.43 308.00 471.97 308.00" fill="#90d0a0" fill-opacity="0.18" stroke="#90d0a0" stroke-width="0.4"/>
<path d="M471.33 308.00C471.87 308.00 472.10 306.50 472.27 303.80Q472.50 300.20 472.73 303.80C472.90 306.50 473.13 308.00 473.67 308.00" fill="#f0a0c0" fill-opacity="0.18" stroke="#f0a0c0" stroke-width="0.4"/>
<path d="M473.20 308.00C473.80 308.00 474.05 304.18 474.25 297.29Q474.50 288.11 474.75 297.29C474.95 304.18 475.20 308.00 475.80 308.00" fill="#b48ae0" fill-opacity="0.18" stroke="#b48ae0" stroke-width="0.4"/>
<path d="M475.83 308.00C476.37 308.00 476.60 306.25 476.77 303.10Q477.00 298.90 477.23 303.10C477.40 306.25 477.63 308.00 478.17 308.00" fill="#e8c060" fill-opacity="0.18" stroke="#e8c060" stroke-width="0.4"/>
<path d="M478.70 308.00C479.30 308.00 479.55 304.00 479.75 296.80Q480.00 287.20 480.25 296.80C480.45 304.00 480.70 308.00 481.30 308.00" fill="#c090e0" fill-opacity="0.18" stroke="#c090e0" stroke-width="0.4"/>
<path d="M480.27 308.00C480.93 308.00 481.20 296.12 481.43 274.75Q481.70 246.25 481.97 274.75C482.19 296.12 482.47 308.00 483.13 308.00" fill="#a0dcc0" fill-opacity="0.18" stroke="#a0dcc0" stroke-width="0.4"/>
<path d="M482.83 308.00C483.37 308.00 483.60 306.38 483.77 303.45Q484.00 299.55 484.23 303.45C484.40 306.38 484.63 308.00 485.17 308.00" fill="#f0a0a0" fill-opacity="0.18" stroke="#f0a0a0" stroke-width="0.4"/>
<path d="M484.70 308.00C485.30 308.00 485.55 303.85 485.75 296.38Q486.00 286.42 486.25 296.38C486.45 303.85 486.70 308.00 487.30 308.00" fill="#f090c0" fill-opacity="0.18" stroke="#f090c0" stroke-width="0.4"/>
<path d="M487.33 308.00C487.87 308.00 488.10 306.50 488.27 303.80Q488.50 300.20 488.73 303.80C488.90 306.50 489.13 308.00 489.67 308.00" fill="#a0d8a0" fill-opacity="0.18" stroke="#a0d8a0" stroke-width="0.4"/>
<path d="M489.70 308.00C490.30 308.00 490.55 304.00 490.75 296.80Q491.00 287.20 491.25 296.80C491.45 304.00 491.70 308.00 492.30 308.00" fill="#f090c0" fill-opacity="0.18" stroke="#f090c0" stroke-width="0.4"/>
<path d="M492.37 308.00C493.03 308.00 493.31 296.75 493.53 276.50Q493.80 249.50 494.07 276.50C494.30 296.75 494.57 308.00 495.23 308.00" fill="#9adcc4" fill-opacity="0.18" stroke="#9adcc4" stroke-width="0.4"/>
<path d="M496.30 308.00C496.90 308.00 497.15 304.95 497.35 299.46Q497.60 292.14 497.85 299.46C498.05 304.95 498.30 308.00 498.90 308.00" fill="#f080b0" fill-opacity="0.18" stroke="#f080b0" stroke-width="0.4"/>
<path d="M499.33 308.00C499.87 308.00 500.10 306.75 500.27 304.50Q500.50 301.50 500.73 304.50C500.90 306.75 501.13 308.00 501.67 308.00" fill="#f0c080" fill-opacity="0.18" stroke="#f0c080" stroke-width="0.4"/>
<path d="M504.97 308.00C505.63 308.00 505.90 298.70 506.12 281.96Q506.40 259.64 506.67 281.96C506.89 298.70 507.17 308.00 507.83 308.00" fill="#9cd88c" fill-opacity="0.18" stroke="#9cd88c" stroke-width="0.4"/>
<path d="M509.94 308.00C510.66 308.00 510.96 295.80 511.20 273.84Q511.50 244.56 511.80 273.84C512.04 295.80 512.34 308.00 513.06 308.00" fill="#a4dc94" fill-opacity="0.18" stroke="#a4dc94" stroke-width="0.4"/>
<path d="M512.33 308.00C512.87 308.00 513.10 307.00 513.27 305.20Q513.50 302.80 513.73 305.20C513.90 307.00 514.13 308.00 514.67 308.00" fill="#a0d890" fill-opacity="0.18" stroke="#a0d890" stroke-width="0.4"/>
<path d="M516.83 308.00C517.37 308.00 517.60 307.50 517.77 306.60Q518.00 305.40 518.23 306.60C518.40 307.50 518.63 308.00 519.17 308.00" fill="#a0d890" fill-opacity="0.18" stroke="#a0d890" stroke-width="0.4"/>
<path d="M390 308H521" stroke="#7f86d8" stroke-width="0.45" fill="none"/>
<rect x="438.50" y="298.30" width="3.40" height="0.90" fill="#222"/>
<text x="219.70" y="348.40" font-size="8.4" fill="#fff" font-weight="bold" textLength="53.60" lengthAdjust="spacingAndGlyphs" stroke="#fff" stroke-width="0.294">SPE METHOD</text>
<path d="M216.6 357.5Q216.6 353.3 220.8 353.3H276.5Q279 353.3 279.4 350.8L280.2 345.5Q280.7 342.6 283.6 342.6H521.5Q525.8 342.6 525.8 346.9V490.4Q525.8 494.7 521.5 494.7H220.8Q216.6 494.7 216.6 490.4Z" fill="none" stroke="#6fa483" stroke-width="0.55"/>
<text x="221.20" y="360.40" font-size="5.8" fill="#fdc820" font-weight="bold" textLength="35.60" lengthAdjust="spacingAndGlyphs" stroke="#fdc820" stroke-width="0.203">System Set-up</text>
<text x="221.50" y="366.40" font-size="3.9" fill="#fdc820" stroke="#fdc820" stroke-width="0.100">a)</text>
<text x="226.00" y="366.40" font-size="4.0" fill="#fff" textLength="139.40" lengthAdjust="spacingAndGlyphs" stroke="#fff" stroke-width="0.120">Pack clean silanized glass wool to half the height of the WAX SPE cartridge barrel.</text>
<text x="221.50" y="372.30" font-size="3.9" fill="#fdc820" stroke="#fdc820" stroke-width="0.100">b)</text>
<text x="226.00" y="372.30" font-size="4.0" fill="#fff" textLength="132.60" lengthAdjust="spacingAndGlyphs" stroke="#fff" stroke-width="0.120">Set up the vacuum manifold with one WAX SPE cartridge plus a reservoir and</text>
<text x="226.00" y="378.20" font-size="4.0" fill="#fff" textLength="90.40" lengthAdjust="spacingAndGlyphs" stroke="#fff" stroke-width="0.120">reservoir adaptor for each cartridge for each sample.</text>
<text x="221.20" y="389.60" font-size="5.8" fill="#fdc820" font-weight="bold" textLength="43.00" lengthAdjust="spacingAndGlyphs" stroke="#fdc820" stroke-width="0.203">SPE Conditioning</text>
<text x="221.50" y="395.40" font-size="3.9" fill="#fdc820" stroke="#fdc820" stroke-width="0.100">a)</text>
<text x="226.00" y="395.40" font-size="4.0" fill="#fff" textLength="131.70" lengthAdjust="spacingAndGlyphs" stroke="#fff" stroke-width="0.120">Rinse SPE cartridge (ECWAX156-P) with 15 mL of 1% methanolic ammonium</text>
<text x="226.00" y="401.30" font-size="4.0" fill="#fff" textLength="18.50" lengthAdjust="spacingAndGlyphs" stroke="#fff" stroke-width="0.120">hydroxide.</text>
<text x="221.50" y="407.20" font-size="3.9" fill="#fdc820" stroke="#fdc820" stroke-width="0.100">b)</text>
<text x="226.00" y="407.20" font-size="4.0" fill="#fff" textLength="132.20" lengthAdjust="spacingAndGlyphs" stroke="#fff" stroke-width="0.120">Rinse the cartridge with 10 mL of 0.3M formic acid, not allowing the water to</text>
<text x="226.00" y="413.10" font-size="4.0" fill="#fff" textLength="70.20" lengthAdjust="spacingAndGlyphs" stroke="#fff" stroke-width="0.120">drop below the top edge of the packing.</text>
<text x="221.50" y="419.00" font-size="3.9" fill="#fdc820" stroke="#fdc820" stroke-width="0.100">c)</text>
<text x="226.00" y="419.00" font-size="4.0" fill="#fff" textLength="132.60" lengthAdjust="spacingAndGlyphs" stroke="#fff" stroke-width="0.120">Close the valve and add 2–3 mL of 0.3M formic acid to the cartridge reservoir</text>
<text x="226.00" y="424.90" font-size="4.0" fill="#fff" textLength="81.20" lengthAdjust="spacingAndGlyphs" stroke="#fff" stroke-width="0.120">and the remaining volume with reagent water.</text>
<rect x="221.2" y="430.7" width="141.4" height="16" rx="2.5" fill="none" stroke="#6fa483" stroke-width="0.55"/>
<text x="226.10" y="437.30" font-size="4.0" fill="#fdc820" font-weight="bold" textLength="9.60" lengthAdjust="spacingAndGlyphs" stroke="#fdc820" stroke-width="0.140">Note:</text>
<text x="236.60" y="437.30" font-size="4.0" fill="#fff" textLength="116.00" lengthAdjust="spacingAndGlyphs" stroke="#fff" stroke-width="0.120">Do not allow cartridge packing material to go dry during any of the</text>
<text x="226.10" y="443.20" font-size="4.0" fill="#fff" textLength="26.00" lengthAdjust="spacingAndGlyphs" stroke="#fff" stroke-width="0.120">conditioning steps.</text>
<text x="221.20" y="454.60" font-size="5.8" fill="#fdc820" font-weight="bold" textLength="64.40" lengthAdjust="spacingAndGlyphs" stroke="#fdc820" stroke-width="0.203">Sample Extraction/Drying</text>
<text x="221.50" y="460.40" font-size="3.9" fill="#fdc820" stroke="#fdc820" stroke-width="0.100">a)</text>
<text x="226.00" y="460.40" font-size="4.0" fill="#fff" textLength="58.70" lengthAdjust="spacingAndGlyphs" stroke="#fff" stroke-width="0.120">Pour the sample into the reservoir.</text>
<text x="221.50" y="466.40" font-size="3.9" fill="#fdc820" stroke="#fdc820" stroke-width="0.100">b)</text>
<text x="226.00" y="466.40" font-size="4.0" fill="#fff" textLength="115.80" lengthAdjust="spacingAndGlyphs" stroke="#fff" stroke-width="0.120">Adjust the vacuum so that the flow rate is approximately 5 mL/min.</text>
<text x="221.50" y="472.40" font-size="3.9" fill="#fdc820" stroke="#fdc820" stroke-width="0.100">c)</text>
<text x="226.00" y="472.40" font-size="4.0" fill="#fff" textLength="106.70" lengthAdjust="spacingAndGlyphs" stroke="#fff" stroke-width="0.120">Rinse the walls of the reservoir with 5 mL reagent water twice.</text>
<text x="221.50" y="478.40" font-size="3.9" fill="#fdc820" stroke="#fdc820" stroke-width="0.100">d)</text>
<text x="226.00" y="478.40" font-size="4.0" fill="#fff" textLength="129.60" lengthAdjust="spacingAndGlyphs" stroke="#fff" stroke-width="0.120">Rinse the walls of the reservoir with 5 mL of 1:1 0.1M formic acid/methanol.</text>
<text x="221.50" y="484.30" font-size="3.9" fill="#fdc820" stroke="#fdc820" stroke-width="0.100">e)</text>
<text x="226.00" y="484.30" font-size="4.0" fill="#fff" textLength="115.00" lengthAdjust="spacingAndGlyphs" stroke="#fff" stroke-width="0.120">Dry the cartridge under a high vacuum (15-20 in. Hg) for 5 minutes.</text>
<text x="371.90" y="354.40" font-size="5.8" fill="#fdc820" font-weight="bold" textLength="17.30" lengthAdjust="spacingAndGlyphs" stroke="#fdc820" stroke-width="0.203">Elution</text>
<text x="371.90" y="360.40" font-size="3.9" fill="#fdc820" stroke="#fdc820" stroke-width="0.100">a)</text>
<text x="376.40" y="360.40" font-size="4.0" fill="#fff" textLength="138.60" lengthAdjust="spacingAndGlyphs" stroke="#fff" stroke-width="0.120">Insert a collection rack containing 15 mL polypropylene collection tubes into the</text>
<text x="376.40" y="366.20" font-size="4.0" fill="#fff" textLength="108.80" lengthAdjust="spacingAndGlyphs" stroke="#fff" stroke-width="0.120">extraction manifold. DO NOT add NIS to these collection tubes.</text>
<text x="371.90" y="372.10" font-size="3.9" fill="#fdc820" stroke="#fdc820" stroke-width="0.100">b)</text>
<text x="376.40" y="372.10" font-size="4.0" fill="#fff" textLength="142.40" lengthAdjust="spacingAndGlyphs" stroke="#fff" stroke-width="0.120">Rinse the inside of the sample bottle with  5 mL of freshly prepared 1% methanolic</text>
<text x="376.40" y="378.00" font-size="4.0" fill="#fff" textLength="39.90" lengthAdjust="spacingAndGlyphs" stroke="#fff" stroke-width="0.120">ammonium hydroxide.</text>
<rect x="372.5" y="382.8" width="145.7" height="23.3" rx="2.5" fill="none" stroke="#6fa483" stroke-width="0.55"/>
<text x="377.50" y="389.90" font-size="4.0" fill="#fdc820" font-weight="bold" textLength="9.60" lengthAdjust="spacingAndGlyphs" stroke="#fdc820" stroke-width="0.140">Note:</text>
<text x="388.00" y="389.90" font-size="4.0" fill="#fff" textLength="123.70" lengthAdjust="spacingAndGlyphs" stroke="#fff" stroke-width="0.120">Due to the volatility of ammonium hydroxide, it is highly recommended</text>
<text x="377.50" y="395.70" font-size="4.0" fill="#fff" textLength="129.20" lengthAdjust="spacingAndGlyphs" stroke="#fff" stroke-width="0.120">to use freshly prepared elution solvent. Rinsing the sides of the container is</text>
<text x="377.50" y="401.50" font-size="4.0" fill="#fff" textLength="132.00" lengthAdjust="spacingAndGlyphs" stroke="#fff" stroke-width="0.120">important for obtaining good recovery of the long-chain hydrophobic PFAS.</text>
<text x="371.90" y="413.40" font-size="3.9" fill="#fdc820" stroke="#fdc820" stroke-width="0.100">c)</text>
<text x="376.40" y="413.40" font-size="4.0" fill="#fff" textLength="141.50" lengthAdjust="spacingAndGlyphs" stroke="#fff" stroke-width="0.120">Transfer the rinse to the SPE reservoir, washing the walls of the reservoir. Use a low</text>
<text x="376.40" y="419.30" font-size="4.0" fill="#fff" textLength="103.30" lengthAdjust="spacingAndGlyphs" stroke="#fff" stroke-width="0.120">vacuum setting to let the solvent drip in a dropwise fashion.</text>
<text x="371.90" y="425.20" font-size="3.9" fill="#fdc820" stroke="#fdc820" stroke-width="0.100">d)</text>
<text x="376.40" y="425.20" font-size="4.0" fill="#fff" textLength="133.10" lengthAdjust="spacingAndGlyphs" stroke="#fff" stroke-width="0.120">Add 25 µL of concentrated acetic acid to each sample eluted in the collection</text>
<text x="376.40" y="431.10" font-size="4.0" fill="#fff" textLength="28.10" lengthAdjust="spacingAndGlyphs" stroke="#fff" stroke-width="0.120">tubes and vortex.</text>
<text x="371.90" y="437.00" font-size="3.9" fill="#fdc820" stroke="#fdc820" stroke-width="0.100">e)</text>
<text x="376.40" y="437.00" font-size="4.0" fill="#fff" textLength="139.30" lengthAdjust="spacingAndGlyphs" stroke="#fff" stroke-width="0.120">Add 10 mg of carbon (EUCARB000) to each sample and hand-shake occasionally</text>
<text x="376.40" y="442.90" font-size="4.0" fill="#fff" textLength="44.10" lengthAdjust="spacingAndGlyphs" stroke="#fff" stroke-width="0.120">for no more than 5 minutes.</text>
<text x="371.90" y="448.90" font-size="3.9" fill="#fdc820" stroke="#fdc820" stroke-width="0.100">f)</text>
<text x="376.40" y="448.90" font-size="4.0" fill="#fff" textLength="86.20" lengthAdjust="spacingAndGlyphs" stroke="#fff" stroke-width="0.120">Vortex and centrifuge at 2800 rpm for 10 minutes.</text>
<text x="371.90" y="454.80" font-size="3.9" fill="#fdc820" stroke="#fdc820" stroke-width="0.100">g)</text>
<text x="376.40" y="454.80" font-size="4.0" fill="#fff" textLength="73.60" lengthAdjust="spacingAndGlyphs" stroke="#fff" stroke-width="0.120">Add NIS solution to a clean collection tube.</text>
<text x="371.90" y="460.70" font-size="3.9" fill="#fdc820" stroke="#fdc820" stroke-width="0.100">h)</text>
<text x="376.40" y="460.70" font-size="4.0" fill="#fff" textLength="122.00" lengthAdjust="spacingAndGlyphs" stroke="#fff" stroke-width="0.120">Place a syringe filter (25-mm filter, 0.2-µm nylon membrane) on a 5-mL</text>
<text x="376.40" y="466.60" font-size="4.0" fill="#fff" textLength="133.40" lengthAdjust="spacingAndGlyphs" stroke="#fff" stroke-width="0.120">polypropylene syringe. Take the plunger out and carefully decant the sample</text>
<text x="376.40" y="472.50" font-size="4.0" fill="#fff" textLength="131.80" lengthAdjust="spacingAndGlyphs" stroke="#fff" stroke-width="0.120">supernatant into the syringe barrel. Replace the plunger and filter the entire</text>
<text x="376.40" y="478.40" font-size="4.0" fill="#fff" textLength="97.60" lengthAdjust="spacingAndGlyphs" stroke="#fff" stroke-width="0.120">extract into the new collection tube containing the NIS.</text>
<text x="371.90" y="484.30" font-size="3.9" fill="#fdc820" stroke="#fdc820" stroke-width="0.100">i)</text>
<text x="376.40" y="484.30" font-size="4.0" fill="#fff" textLength="143.60" lengthAdjust="spacingAndGlyphs" stroke="#fff" stroke-width="0.120">Vortex and transfer a portion of the extract into a 1-mL polypropylene microvial for</text>
<text x="376.40" y="490.20" font-size="4.0" fill="#fff" textLength="32.30" lengthAdjust="spacingAndGlyphs" stroke="#fff" stroke-width="0.120">LC-MS/MS analysis.</text>
<rect x="226.3" y="507.7" width="66.7" height="28.6" fill="none" stroke="#86a888" stroke-width="0.5"/>
<rect x="260.70" y="509.70" width="0.50" height="24.80" fill="#86a888"/>
<text x="264.00" y="524.20" font-size="6.9" fill="#fff" textLength="24.50" lengthAdjust="spacingAndGlyphs" stroke="#fff" stroke-width="0.250">ENVIRO</text>
<path d="M0 -1.5Q5.0 -7.2 0 -13.6Q-5.0 -7.2 0 -1.5Z" fill="none" stroke="#e8efe8" stroke-width="0.45" transform="translate(243.2 522.1) rotate(22.5)"/>
<path d="M0 -1.5Q5.0 -7.2 0 -13.6Q-5.0 -7.2 0 -1.5Z" fill="none" stroke="#e8efe8" stroke-width="0.45" transform="translate(243.2 522.1) rotate(67.5)"/>
<path d="M0 -1.5Q5.0 -7.2 0 -13.6Q-5.0 -7.2 0 -1.5Z" fill="none" stroke="#e8efe8" stroke-width="0.45" transform="translate(243.2 522.1) rotate(112.5)"/>
<path d="M0 -1.5Q5.0 -7.2 0 -13.6Q-5.0 -7.2 0 -1.5Z" fill="none" stroke="#e8efe8" stroke-width="0.45" transform="translate(243.2 522.1) rotate(157.5)"/>
<path d="M0 -1.5Q5.0 -7.2 0 -13.6Q-5.0 -7.2 0 -1.5Z" fill="none" stroke="#e8efe8" stroke-width="0.45" transform="translate(243.2 522.1) rotate(202.5)"/>
<path d="M0 -1.5Q5.0 -7.2 0 -13.6Q-5.0 -7.2 0 -1.5Z" fill="none" stroke="#e8efe8" stroke-width="0.45" transform="translate(243.2 522.1) rotate(247.5)"/>
<path d="M0 -1.5Q5.0 -7.2 0 -13.6Q-5.0 -7.2 0 -1.5Z" fill="none" stroke="#e8efe8" stroke-width="0.45" transform="translate(243.2 522.1) rotate(292.5)"/>
<path d="M0 -1.5Q5.0 -7.2 0 -13.6Q-5.0 -7.2 0 -1.5Z" fill="none" stroke="#e8efe8" stroke-width="0.45" transform="translate(243.2 522.1) rotate(337.5)"/>
<circle cx="243.2" cy="522.1" r="3.5" fill="#135a2e" stroke="#e8efe8" stroke-width="0.45"/>
<path d="M310.9 507.6H333.0V530.7L327.5 536.2H310.9Z" fill="#fff"/>
<path d="M321.9 511.5 L315.6 521.6 L321.9 519.4Z" fill="#3e7fb2"/>
<path d="M321.9 511.5 L328.2 521.8 L321.9 519.4Z" fill="#a81414"/>
<path d="M315.6 521.6 L321.9 519.4 L328.2 521.8 L321.9 522.6Z" fill="#d9dde2"/>
<g fill="none" stroke="#8c8c94" stroke-width="0.7"><path d="M316.6 524.8V530.2Q316.6 531.1 317.5 531.1Q318.4 531.1 318.4 530.2V524.8"/><path d="M323 526.2V525.8Q323 525 322.1 525Q321.2 525 321.2 525.8V530.3Q321.2 531.1 322.1 531.1Q323 531.1 323 530.3V529.8"/><path d="M325.1 525.1H327.7M326.4 525.1V531.4"/></g>
<text x="337.10" y="512.10" font-size="5.1" fill="#fff" textLength="19.40" lengthAdjust="spacingAndGlyphs" stroke="#fff" stroke-width="0.153">UCT, Inc.</text>
<text x="337.10" y="520.00" font-size="5.1" fill="#fff" textLength="86.10" lengthAdjust="spacingAndGlyphs" stroke="#fff" stroke-width="0.153">2731 Bartram Road | Bristol, PA 19007</text>
<text x="337.10" y="527.70" font-size="5.1" fill="#fff" textLength="50.90" lengthAdjust="spacingAndGlyphs" stroke="#fff" stroke-width="0.153">Phone: (800)385-3153</text>
<text x="337.10" y="535.50" font-size="5.1" fill="#fff" textLength="67.40" lengthAdjust="spacingAndGlyphs" stroke="#fff" stroke-width="0.153">Email: info@unitedchem.com</text>
<text x="435.40" y="519.70" font-size="11.4" fill="#fff" font-weight="bold" textLength="82.60" lengthAdjust="spacingAndGlyphs" stroke="#fff" stroke-width="0.399">unitedchem.com</text>
<rect x="443.0" y="523.6" width="12.1" height="11.8" rx="1.6" fill="none" stroke="#8fb59c" stroke-width="0.5"/>
<rect x="445.75" y="528.40" width="1.50" height="4.20" fill="#fff"/>
<circle cx="446.5" cy="526.9" r="0.85" fill="#fff"/>
<path d="M448.15000000000003 532.6V528.4H449.55V529.0Q450.25 528.2 451.25 528.2Q452.65000000000003 528.3 452.65000000000003 530.1V532.6H451.15000000000003V530.4Q451.15000000000003 529.6 450.40000000000003 529.6Q449.65000000000003 529.6 449.65000000000003 530.4V532.6Z" fill="#fff"/>
<rect x="456.7" y="523.6" width="12.1" height="11.8" rx="1.6" fill="none" stroke="#8fb59c" stroke-width="0.5"/>
<path d="M466.45 527.3Q465.85 527.6 465.55 527.6Q466.05 527.2 466.15 526.7Q465.65 527.0 465.15 527.1Q463.95 526.0 462.95 527.2Q462.65 527.7 462.75 528.3Q460.75 528.2 459.65 526.8Q459.05 528.1 460.05 528.9Q459.65 528.9 459.35 528.7Q459.45 530.0 460.55 530.3Q460.15 530.4 459.85 530.3Q460.25 531.3 461.25 531.4Q460.25 532.2 458.95 532.1Q461.25 533.3 463.55 532.3Q465.65 531.0 465.65 528.3Q466.15 527.9 466.45 527.3Z" fill="#fff"/>
<rect x="470.4" y="523.6" width="12.1" height="11.8" rx="1.6" fill="none" stroke="#8fb59c" stroke-width="0.5"/>
<rect x="472.84999999999997" y="527.0" width="7.2" height="5" rx="1.3" fill="#fff"/>
<path d="M475.65 528.3L477.84999999999997 529.5L475.65 530.7Z" fill="#14572e"/>
<rect x="484.0" y="523.6" width="12.1" height="11.8" rx="1.6" fill="none" stroke="#8fb59c" stroke-width="0.5"/>
<rect x="486.85" y="526.3" width="6.4" height="6.4" rx="1" fill="#fff"/>
<circle cx="490.05" cy="529.8" r="1.5" fill="none" stroke="#14572e" stroke-width="0.7"/>
<rect x="486.85" y="527.90" width="6.40" height="0.50" fill="#14572e"/>
<rect x="491.55" y="526.80" width="1.10" height="0.90" fill="#14572e"/>
<rect x="497.7" y="523.6" width="12.1" height="11.8" rx="1.6" fill="none" stroke="#8fb59c" stroke-width="0.5"/>
<rect x="500.55" y="526.3" width="6.4" height="6.4" rx="0.6" fill="#fff"/>
<path d="M504.35 532.7V530.1H503.45V529.0H504.35V528.2Q504.35 526.8 505.75 526.8H506.65V527.9H506.05Q505.55 527.9 505.55 528.4V529.0H506.65L506.45 530.1H505.55V532.7Z" fill="#14572e"/>
<path d="M531.9 80A10.5 10.5 0 0 1 542.4 69.5H885V544H531.9Z" fill="#fff"/>
<text x="636.60" y="81.60" font-size="8.0" fill="#1c6937" font-weight="bold" textLength="143.80" lengthAdjust="spacingAndGlyphs" stroke="#1c6937" stroke-width="0.280">SPE RESULTS IN AQUEOUS SAMPLES</text>
<text x="861.00" y="82.90" font-size="4.8" fill="#1c6937" font-weight="bold" textLength="13.00" lengthAdjust="spacingAndGlyphs">(n=5)</text>
<clipPath id="tb1"><rect x="537.4" y="85.3" width="163.0" height="223.59999999999997" rx="5"/></clipPath>
<g clip-path="url(#tb1)">
<rect x="537.40" y="85.30" width="163.00" height="223.60" fill="#fff"/>
<rect x="537.40" y="85.30" width="163.00" height="12.60" fill="#fdc820"/>
<rect x="537.40" y="97.90" width="44.10" height="7.10" fill="#fdc820"/>
<rect x="581.50" y="97.90" width="118.90" height="7.10" fill="#1c6937"/>
<rect x="537.40" y="97.55" width="163.00" height="0.70" fill="#b8961a"/>
<rect x="537.40" y="105.00" width="44.10" height="11.30" fill="#fdc820"/>
<rect x="537.40" y="116.30" width="44.10" height="10.14" fill="#1c6937"/>
<rect x="581.50" y="116.30" width="118.90" height="10.14" fill="#ebebec"/>
<rect x="581.50" y="115.95" width="118.90" height="0.70" fill="#9cc3a8"/>
<rect x="537.40" y="126.44" width="44.10" height="10.14" fill="#fdc820"/>
<rect x="581.50" y="126.09" width="118.90" height="0.70" fill="#9cc3a8"/>
<rect x="537.40" y="136.57" width="44.10" height="10.14" fill="#1c6937"/>
<rect x="581.50" y="136.57" width="118.90" height="10.14" fill="#ebebec"/>
<rect x="581.50" y="136.22" width="118.90" height="0.70" fill="#9cc3a8"/>
<rect x="537.40" y="146.71" width="44.10" height="10.14" fill="#fdc820"/>
<rect x="581.50" y="146.36" width="118.90" height="0.70" fill="#9cc3a8"/>
<rect x="537.40" y="156.84" width="44.10" height="10.14" fill="#1c6937"/>
<rect x="581.50" y="156.84" width="118.90" height="10.14" fill="#ebebec"/>
<rect x="581.50" y="156.49" width="118.90" height="0.70" fill="#9cc3a8"/>
<rect x="537.40" y="166.98" width="44.10" height="10.14" fill="#fdc820"/>
<rect x="581.50" y="166.63" width="118.90" height="0.70" fill="#9cc3a8"/>
<rect x="537.40" y="177.12" width="44.10" height="10.14" fill="#1c6937"/>
<rect x="581.50" y="177.12" width="118.90" height="10.14" fill="#ebebec"/>
<rect x="581.50" y="176.77" width="118.90" height="0.70" fill="#9cc3a8"/>
<rect x="537.40" y="187.25" width="44.10" height="10.14" fill="#fdc820"/>
<rect x="581.50" y="186.90" width="118.90" height="0.70" fill="#9cc3a8"/>
<rect x="537.40" y="197.39" width="44.10" height="10.14" fill="#1c6937"/>
<rect x="581.50" y="197.39" width="118.90" height="10.14" fill="#ebebec"/>
<rect x="581.50" y="197.04" width="118.90" height="0.70" fill="#9cc3a8"/>
<rect x="537.40" y="207.52" width="44.10" height="10.14" fill="#fdc820"/>
<rect x="581.50" y="207.17" width="118.90" height="0.70" fill="#9cc3a8"/>
<rect x="537.40" y="217.66" width="44.10" height="10.14" fill="#1c6937"/>
<rect x="581.50" y="217.66" width="118.90" height="10.14" fill="#ebebec"/>
<rect x="581.50" y="217.31" width="118.90" height="0.70" fill="#9cc3a8"/>
<rect x="537.40" y="227.80" width="44.10" height="10.14" fill="#fdc820"/>
<rect x="581.50" y="227.45" width="118.90" height="0.70" fill="#9cc3a8"/>
<rect x="537.40" y="237.93" width="44.10" height="10.14" fill="#1c6937"/>
<rect x="581.50" y="237.93" width="118.90" height="10.14" fill="#ebebec"/>
<rect x="581.50" y="237.58" width="118.90" height="0.70" fill="#9cc3a8"/>
<rect x="537.40" y="248.07" width="44.10" height="10.14" fill="#fdc820"/>
<rect x="581.50" y="247.72" width="118.90" height="0.70" fill="#9cc3a8"/>
<rect x="537.40" y="258.20" width="44.10" height="10.14" fill="#1c6937"/>
<rect x="581.50" y="258.20" width="118.90" height="10.14" fill="#ebebec"/>
<rect x="581.50" y="257.85" width="118.90" height="0.70" fill="#9cc3a8"/>
<rect x="537.40" y="268.34" width="44.10" height="10.14" fill="#fdc820"/>
<rect x="581.50" y="267.99" width="118.90" height="0.70" fill="#9cc3a8"/>
<rect x="537.40" y="278.48" width="44.10" height="10.14" fill="#1c6937"/>
<rect x="581.50" y="278.48" width="118.90" height="10.14" fill="#ebebec"/>
<rect x="581.50" y="278.13" width="118.90" height="0.70" fill="#9cc3a8"/>
<rect x="537.40" y="288.61" width="44.10" height="10.14" fill="#fdc820"/>
<rect x="581.50" y="288.26" width="118.90" height="0.70" fill="#9cc3a8"/>
<rect x="537.40" y="298.75" width="44.10" height="10.15" fill="#1c6937"/>
<rect x="581.50" y="298.75" width="118.90" height="10.15" fill="#ebebec"/>
<rect x="581.50" y="298.40" width="118.90" height="0.70" fill="#9cc3a8"/>
<rect x="581.05" y="105.00" width="0.90" height="203.90" fill="#8fba9b"/>
<rect x="604.95" y="105.00" width="0.90" height="203.90" fill="#8fba9b"/>
<rect x="625.35" y="105.00" width="0.90" height="203.90" fill="#8fba9b"/>
<rect x="639.75" y="105.00" width="0.90" height="203.90" fill="#8fba9b"/>
<rect x="660.15" y="105.00" width="0.90" height="203.90" fill="#8fba9b"/>
<rect x="680.55" y="105.00" width="0.90" height="203.90" fill="#8fba9b"/>
<rect x="581.15" y="85.30" width="0.70" height="19.70" fill="#3f8253"/>
<rect x="639.85" y="85.30" width="0.70" height="19.70" fill="#3f8253"/>
</g>
<rect x="537.4" y="85.3" width="163.0" height="223.59999999999997" rx="5" fill="none" stroke="#2f7a48" stroke-width="0.8"/>
<text x="549.20" y="94.20" font-size="5.8" fill="#1c6937" font-weight="bold" textLength="18.70" lengthAdjust="spacingAndGlyphs" stroke="#1c6937" stroke-width="0.203">Analyte</text>
<text x="587.30" y="94.20" font-size="5.8" fill="#1c6937" font-weight="bold" textLength="41.50" lengthAdjust="spacingAndGlyphs" stroke="#1c6937" stroke-width="0.203">Low Fortification</text>
<text x="651.40" y="94.20" font-size="5.8" fill="#1c6937" font-weight="bold" textLength="42.50" lengthAdjust="spacingAndGlyphs" stroke="#1c6937" stroke-width="0.203">High Fortification</text>
<text x="583.65" y="102.90" font-size="3.6" fill="#fff" font-weight="bold" textLength="19.60" lengthAdjust="spacingAndGlyphs" stroke="#fff" stroke-width="0.126">Conc. (ng/mL)</text>
<text x="609.95" y="102.90" font-size="3.6" fill="#fff" font-weight="bold" textLength="11.30" lengthAdjust="spacingAndGlyphs" stroke="#fff" stroke-width="0.126">Rec. (%)</text>
<text x="627.60" y="102.90" font-size="3.6" fill="#fff" font-weight="bold" textLength="10.80" lengthAdjust="spacingAndGlyphs" stroke="#fff" stroke-width="0.126">RSD (%)</text>
<text x="640.60" y="102.90" font-size="3.6" fill="#fff" font-weight="bold" textLength="19.60" lengthAdjust="spacingAndGlyphs" stroke="#fff" stroke-width="0.126">Conc. (ng/mL)</text>
<text x="665.15" y="102.90" font-size="3.6" fill="#fff" font-weight="bold" textLength="11.30" lengthAdjust="spacingAndGlyphs" stroke="#fff" stroke-width="0.126">Rec. (%)</text>
<text x="685.30" y="102.90" font-size="3.6" fill="#fff" font-weight="bold" textLength="10.80" lengthAdjust="spacingAndGlyphs" stroke="#fff" stroke-width="0.126">RSD (%)</text>
<text x="545.10" y="113.40" font-size="5.7" fill="#1c6937" font-weight="bold" textLength="12.88" lengthAdjust="spacingAndGlyphs" stroke="#1c6937" stroke-width="0.200">PFBA</text>
<text x="589.96" y="113.40" font-size="5.4" fill="#111" font-weight="bold" textLength="6.98" lengthAdjust="spacingAndGlyphs" stroke="#111" stroke-width="0.189">5.0</text>
<text x="609.32" y="113.40" font-size="5.4" fill="#111" font-weight="bold" textLength="12.57" lengthAdjust="spacingAndGlyphs" stroke="#111" stroke-width="0.189">104.6</text>
<text x="629.51" y="113.40" font-size="5.4" fill="#111" font-weight="bold" textLength="6.98" lengthAdjust="spacingAndGlyphs" stroke="#111" stroke-width="0.189">0.9</text>
<text x="647.61" y="113.40" font-size="5.4" fill="#111" font-weight="bold" textLength="5.59" lengthAdjust="spacingAndGlyphs" stroke="#111" stroke-width="0.189">25</text>
<text x="665.91" y="113.40" font-size="5.4" fill="#111" font-weight="bold" textLength="9.77" lengthAdjust="spacingAndGlyphs" stroke="#111" stroke-width="0.189">97.5</text>
<text x="687.21" y="113.40" font-size="5.4" fill="#111" font-weight="bold" textLength="6.98" lengthAdjust="spacingAndGlyphs" stroke="#111" stroke-width="0.189">1.1</text>
<text x="545.10" y="123.54" font-size="5.7" fill="#fff" font-weight="bold" textLength="15.25" lengthAdjust="spacingAndGlyphs" stroke="#fff" stroke-width="0.200">PFPeA</text>
<text x="589.96" y="123.54" font-size="5.4" fill="#111" font-weight="bold" textLength="6.98" lengthAdjust="spacingAndGlyphs" stroke="#111" stroke-width="0.189">2.5</text>
<text x="610.71" y="123.54" font-size="5.4" fill="#111" font-weight="bold" textLength="9.77" lengthAdjust="spacingAndGlyphs" stroke="#111" stroke-width="0.189">98.2</text>
<text x="629.51" y="123.54" font-size="5.4" fill="#111" font-weight="bold" textLength="6.98" lengthAdjust="spacingAndGlyphs" stroke="#111" stroke-width="0.189">1.0</text>
<text x="645.51" y="123.54" font-size="5.4" fill="#111" font-weight="bold" textLength="9.77" lengthAdjust="spacingAndGlyphs" stroke="#111" stroke-width="0.189">12.5</text>
<text x="665.91" y="123.54" font-size="5.4" fill="#111" font-weight="bold" textLength="9.77" lengthAdjust="spacingAndGlyphs" stroke="#111" stroke-width="0.189">95.4</text>
<text x="687.21" y="123.54" font-size="5.4" fill="#111" font-weight="bold" textLength="6.98" lengthAdjust="spacingAndGlyphs" stroke="#111" stroke-width="0.189">3.7</text>
<text x="545.10" y="133.67" font-size="5.7" fill="#1c6937" font-weight="bold" textLength="15.51" lengthAdjust="spacingAndGlyphs" stroke="#1c6937" stroke-width="0.200">PFHxA</text>
<text x="588.56" y="133.67" font-size="5.4" fill="#111" font-weight="bold" textLength="9.77" lengthAdjust="spacingAndGlyphs" stroke="#111" stroke-width="0.189">1.25</text>
<text x="610.71" y="133.67" font-size="5.4" fill="#111" font-weight="bold" textLength="9.77" lengthAdjust="spacingAndGlyphs" stroke="#111" stroke-width="0.189">99.3</text>
<text x="629.51" y="133.67" font-size="5.4" fill="#111" font-weight="bold" textLength="6.98" lengthAdjust="spacingAndGlyphs" stroke="#111" stroke-width="0.189">0.7</text>
<text x="645.51" y="133.67" font-size="5.4" fill="#111" font-weight="bold" textLength="9.77" lengthAdjust="spacingAndGlyphs" stroke="#111" stroke-width="0.189">6.25</text>
<text x="664.52" y="133.67" font-size="5.4" fill="#111" font-weight="bold" textLength="12.57" lengthAdjust="spacingAndGlyphs" stroke="#111" stroke-width="0.189">102.5</text>
<text x="687.21" y="133.67" font-size="5.4" fill="#111" font-weight="bold" textLength="6.98" lengthAdjust="spacingAndGlyphs" stroke="#111" stroke-width="0.189">1.1</text>
<text x="545.10" y="143.81" font-size="5.7" fill="#fff" font-weight="bold" textLength="15.77" lengthAdjust="spacingAndGlyphs" stroke="#fff" stroke-width="0.200">PFHpA</text>
<text x="588.56" y="143.81" font-size="5.4" fill="#111" font-weight="bold" textLength="9.77" lengthAdjust="spacingAndGlyphs" stroke="#111" stroke-width="0.189">1.25</text>
<text x="610.71" y="143.81" font-size="5.4" fill="#111" font-weight="bold" textLength="9.77" lengthAdjust="spacingAndGlyphs" stroke="#111" stroke-width="0.189">99.6</text>
<text x="629.51" y="143.81" font-size="5.4" fill="#111" font-weight="bold" textLength="6.98" lengthAdjust="spacingAndGlyphs" stroke="#111" stroke-width="0.189">0.6</text>
<text x="645.51" y="143.81" font-size="5.4" fill="#111" font-weight="bold" textLength="9.77" lengthAdjust="spacingAndGlyphs" stroke="#111" stroke-width="0.189">6.25</text>
<text x="665.91" y="143.81" font-size="5.4" fill="#111" font-weight="bold" textLength="9.77" lengthAdjust="spacingAndGlyphs" stroke="#111" stroke-width="0.189">98.3</text>
<text x="687.21" y="143.81" font-size="5.4" fill="#111" font-weight="bold" textLength="6.98" lengthAdjust="spacingAndGlyphs" stroke="#111" stroke-width="0.189">2.0</text>
<text x="545.10" y="153.94" font-size="5.7" fill="#1c6937" font-weight="bold" textLength="13.14" lengthAdjust="spacingAndGlyphs" stroke="#1c6937" stroke-width="0.200">PFOA</text>
<text x="588.56" y="153.94" font-size="5.4" fill="#111" font-weight="bold" textLength="9.77" lengthAdjust="spacingAndGlyphs" stroke="#111" stroke-width="0.189">1.25</text>
<text x="609.32" y="153.94" font-size="5.4" fill="#111" font-weight="bold" textLength="12.57" lengthAdjust="spacingAndGlyphs" stroke="#111" stroke-width="0.189">104.3</text>
<text x="629.51" y="153.94" font-size="5.4" fill="#111" font-weight="bold" textLength="6.98" lengthAdjust="spacingAndGlyphs" stroke="#111" stroke-width="0.189">2.1</text>
<text x="645.51" y="153.94" font-size="5.4" fill="#111" font-weight="bold" textLength="9.77" lengthAdjust="spacingAndGlyphs" stroke="#111" stroke-width="0.189">6.25</text>
<text x="665.91" y="153.94" font-size="5.4" fill="#111" font-weight="bold" textLength="9.77" lengthAdjust="spacingAndGlyphs" stroke="#111" stroke-width="0.189">97.1</text>
<text x="687.21" y="153.94" font-size="5.4" fill="#111" font-weight="bold" textLength="6.98" lengthAdjust="spacingAndGlyphs" stroke="#111" stroke-width="0.189">2.6</text>
<text x="545.10" y="164.08" font-size="5.7" fill="#fff" font-weight="bold" textLength="12.88" lengthAdjust="spacingAndGlyphs" stroke="#fff" stroke-width="0.200">PFNA</text>
<text x="588.56" y="164.08" font-size="5.4" fill="#111" font-weight="bold" textLength="9.77" lengthAdjust="spacingAndGlyphs" stroke="#111" stroke-width="0.189">1.25</text>
<text x="609.32" y="164.08" font-size="5.4" fill="#111" font-weight="bold" textLength="12.57" lengthAdjust="spacingAndGlyphs" stroke="#111" stroke-width="0.189">103.5</text>
<text x="629.51" y="164.08" font-size="5.4" fill="#111" font-weight="bold" textLength="6.98" lengthAdjust="spacingAndGlyphs" stroke="#111" stroke-width="0.189">1.3</text>
<text x="645.51" y="164.08" font-size="5.4" fill="#111" font-weight="bold" textLength="9.77" lengthAdjust="spacingAndGlyphs" stroke="#111" stroke-width="0.189">6.25</text>
<text x="665.91" y="164.08" font-size="5.4" fill="#111" font-weight="bold" textLength="9.77" lengthAdjust="spacingAndGlyphs" stroke="#111" stroke-width="0.189">98.9</text>
<text x="687.21" y="164.08" font-size="5.4" fill="#111" font-weight="bold" textLength="6.98" lengthAdjust="spacingAndGlyphs" stroke="#111" stroke-width="0.189">1.2</text>
<text x="545.10" y="174.22" font-size="5.7" fill="#1c6937" font-weight="bold" textLength="12.88" lengthAdjust="spacingAndGlyphs" stroke="#1c6937" stroke-width="0.200">PFDA</text>
<text x="588.56" y="174.22" font-size="5.4" fill="#111" font-weight="bold" textLength="9.77" lengthAdjust="spacingAndGlyphs" stroke="#111" stroke-width="0.189">1.25</text>
<text x="610.71" y="174.22" font-size="5.4" fill="#111" font-weight="bold" textLength="9.77" lengthAdjust="spacingAndGlyphs" stroke="#111" stroke-width="0.189">95.4</text>
<text x="629.51" y="174.22" font-size="5.4" fill="#111" font-weight="bold" textLength="6.98" lengthAdjust="spacingAndGlyphs" stroke="#111" stroke-width="0.189">0.9</text>
<text x="645.51" y="174.22" font-size="5.4" fill="#111" font-weight="bold" textLength="9.77" lengthAdjust="spacingAndGlyphs" stroke="#111" stroke-width="0.189">6.25</text>
<text x="664.52" y="174.22" font-size="5.4" fill="#111" font-weight="bold" textLength="12.57" lengthAdjust="spacingAndGlyphs" stroke="#111" stroke-width="0.189">102.4</text>
<text x="687.21" y="174.22" font-size="5.4" fill="#111" font-weight="bold" textLength="6.98" lengthAdjust="spacingAndGlyphs" stroke="#111" stroke-width="0.189">1.4</text>
<text x="545.10" y="184.35" font-size="5.7" fill="#fff" font-weight="bold" textLength="15.77" lengthAdjust="spacingAndGlyphs" stroke="#fff" stroke-width="0.200">PFUnA</text>
<text x="588.56" y="184.35" font-size="5.4" fill="#111" font-weight="bold" textLength="9.77" lengthAdjust="spacingAndGlyphs" stroke="#111" stroke-width="0.189">1.25</text>
<text x="610.71" y="184.35" font-size="5.4" fill="#111" font-weight="bold" textLength="9.77" lengthAdjust="spacingAndGlyphs" stroke="#111" stroke-width="0.189">96.4</text>
<text x="629.51" y="184.35" font-size="5.4" fill="#111" font-weight="bold" textLength="6.98" lengthAdjust="spacingAndGlyphs" stroke="#111" stroke-width="0.189">0.6</text>
<text x="645.51" y="184.35" font-size="5.4" fill="#111" font-weight="bold" textLength="9.77" lengthAdjust="spacingAndGlyphs" stroke="#111" stroke-width="0.189">6.25</text>
<text x="664.52" y="184.35" font-size="5.4" fill="#111" font-weight="bold" textLength="12.57" lengthAdjust="spacingAndGlyphs" stroke="#111" stroke-width="0.189">103.6</text>
<text x="687.21" y="184.35" font-size="5.4" fill="#111" font-weight="bold" textLength="6.98" lengthAdjust="spacingAndGlyphs" stroke="#111" stroke-width="0.189">1.7</text>
<text x="545.10" y="194.49" font-size="5.7" fill="#1c6937" font-weight="bold" textLength="15.77" lengthAdjust="spacingAndGlyphs" stroke="#1c6937" stroke-width="0.200">PFDoA</text>
<text x="588.56" y="194.49" font-size="5.4" fill="#111" font-weight="bold" textLength="9.77" lengthAdjust="spacingAndGlyphs" stroke="#111" stroke-width="0.189">1.25</text>
<text x="610.71" y="194.49" font-size="5.4" fill="#111" font-weight="bold" textLength="9.77" lengthAdjust="spacingAndGlyphs" stroke="#111" stroke-width="0.189">99.4</text>
<text x="629.51" y="194.49" font-size="5.4" fill="#111" font-weight="bold" textLength="6.98" lengthAdjust="spacingAndGlyphs" stroke="#111" stroke-width="0.189">0.7</text>
<text x="645.51" y="194.49" font-size="5.4" fill="#111" font-weight="bold" textLength="9.77" lengthAdjust="spacingAndGlyphs" stroke="#111" stroke-width="0.189">6.25</text>
<text x="664.52" y="194.49" font-size="5.4" fill="#111" font-weight="bold" textLength="12.57" lengthAdjust="spacingAndGlyphs" stroke="#111" stroke-width="0.189">105.6</text>
<text x="687.21" y="194.49" font-size="5.4" fill="#111" font-weight="bold" textLength="6.98" lengthAdjust="spacingAndGlyphs" stroke="#111" stroke-width="0.189">1.0</text>
<text x="545.10" y="204.62" font-size="5.7" fill="#fff" font-weight="bold" textLength="19.98" lengthAdjust="spacingAndGlyphs" stroke="#fff" stroke-width="0.200">PFTrDA2</text>
<text x="588.56" y="204.62" font-size="5.4" fill="#111" font-weight="bold" textLength="9.77" lengthAdjust="spacingAndGlyphs" stroke="#111" stroke-width="0.189">1.25</text>
<text x="610.71" y="204.62" font-size="5.4" fill="#111" font-weight="bold" textLength="9.77" lengthAdjust="spacingAndGlyphs" stroke="#111" stroke-width="0.189">95.7</text>
<text x="629.51" y="204.62" font-size="5.4" fill="#111" font-weight="bold" textLength="6.98" lengthAdjust="spacingAndGlyphs" stroke="#111" stroke-width="0.189">2.6</text>
<text x="645.51" y="204.62" font-size="5.4" fill="#111" font-weight="bold" textLength="9.77" lengthAdjust="spacingAndGlyphs" stroke="#111" stroke-width="0.189">6.25</text>
<text x="665.91" y="204.62" font-size="5.4" fill="#111" font-weight="bold" textLength="9.77" lengthAdjust="spacingAndGlyphs" stroke="#111" stroke-width="0.189">99.3</text>
<text x="687.21" y="204.62" font-size="5.4" fill="#111" font-weight="bold" textLength="6.98" lengthAdjust="spacingAndGlyphs" stroke="#111" stroke-width="0.189">4.3</text>
<text x="545.10" y="214.76" font-size="5.7" fill="#1c6937" font-weight="bold" textLength="18.05" lengthAdjust="spacingAndGlyphs" stroke="#1c6937" stroke-width="0.200">PFTeDA</text>
<text x="588.56" y="214.76" font-size="5.4" fill="#111" font-weight="bold" textLength="9.77" lengthAdjust="spacingAndGlyphs" stroke="#111" stroke-width="0.189">1.25</text>
<text x="609.32" y="214.76" font-size="5.4" fill="#111" font-weight="bold" textLength="12.57" lengthAdjust="spacingAndGlyphs" stroke="#111" stroke-width="0.189">101.6</text>
<text x="629.51" y="214.76" font-size="5.4" fill="#111" font-weight="bold" textLength="6.98" lengthAdjust="spacingAndGlyphs" stroke="#111" stroke-width="0.189">0.6</text>
<text x="645.51" y="214.76" font-size="5.4" fill="#111" font-weight="bold" textLength="9.77" lengthAdjust="spacingAndGlyphs" stroke="#111" stroke-width="0.189">6.25</text>
<text x="665.91" y="214.76" font-size="5.4" fill="#111" font-weight="bold" textLength="9.77" lengthAdjust="spacingAndGlyphs" stroke="#111" stroke-width="0.189">98.1</text>
<text x="687.21" y="214.76" font-size="5.4" fill="#111" font-weight="bold" textLength="6.98" lengthAdjust="spacingAndGlyphs" stroke="#111" stroke-width="0.189">0.9</text>
<text x="545.10" y="224.90" font-size="5.7" fill="#fff" font-weight="bold" textLength="12.62" lengthAdjust="spacingAndGlyphs" stroke="#fff" stroke-width="0.200">PFBS</text>
<text x="588.56" y="224.90" font-size="5.4" fill="#111" font-weight="bold" textLength="9.77" lengthAdjust="spacingAndGlyphs" stroke="#111" stroke-width="0.189">1.25</text>
<text x="610.71" y="224.90" font-size="5.4" fill="#111" font-weight="bold" textLength="9.77" lengthAdjust="spacingAndGlyphs" stroke="#111" stroke-width="0.189">92.8</text>
<text x="629.51" y="224.90" font-size="5.4" fill="#111" font-weight="bold" textLength="6.98" lengthAdjust="spacingAndGlyphs" stroke="#111" stroke-width="0.189">0.8</text>
<text x="645.51" y="224.90" font-size="5.4" fill="#111" font-weight="bold" textLength="9.77" lengthAdjust="spacingAndGlyphs" stroke="#111" stroke-width="0.189">6.25</text>
<text x="664.52" y="224.90" font-size="5.4" fill="#111" font-weight="bold" textLength="12.57" lengthAdjust="spacingAndGlyphs" stroke="#111" stroke-width="0.189">103.4</text>
<text x="687.21" y="224.90" font-size="5.4" fill="#111" font-weight="bold" textLength="6.98" lengthAdjust="spacingAndGlyphs" stroke="#111" stroke-width="0.189">1.8</text>
<text x="545.10" y="235.03" font-size="5.7" fill="#1c6937" font-weight="bold" textLength="14.99" lengthAdjust="spacingAndGlyphs" stroke="#1c6937" stroke-width="0.200">PFPeS</text>
<text x="588.56" y="235.03" font-size="5.4" fill="#111" font-weight="bold" textLength="9.77" lengthAdjust="spacingAndGlyphs" stroke="#111" stroke-width="0.189">1.25</text>
<text x="610.71" y="235.03" font-size="5.4" fill="#111" font-weight="bold" textLength="9.77" lengthAdjust="spacingAndGlyphs" stroke="#111" stroke-width="0.189">94.6</text>
<text x="629.51" y="235.03" font-size="5.4" fill="#111" font-weight="bold" textLength="6.98" lengthAdjust="spacingAndGlyphs" stroke="#111" stroke-width="0.189">0.7</text>
<text x="645.51" y="235.03" font-size="5.4" fill="#111" font-weight="bold" textLength="9.77" lengthAdjust="spacingAndGlyphs" stroke="#111" stroke-width="0.189">6.25</text>
<text x="665.91" y="235.03" font-size="5.4" fill="#111" font-weight="bold" textLength="9.77" lengthAdjust="spacingAndGlyphs" stroke="#111" stroke-width="0.189">99.6</text>
<text x="687.21" y="235.03" font-size="5.4" fill="#111" font-weight="bold" textLength="6.98" lengthAdjust="spacingAndGlyphs" stroke="#111" stroke-width="0.189">1.9</text>
<text x="545.10" y="245.17" font-size="5.7" fill="#fff" font-weight="bold" textLength="15.25" lengthAdjust="spacingAndGlyphs" stroke="#fff" stroke-width="0.200">PFHxS</text>
<text x="588.56" y="245.17" font-size="5.4" fill="#111" font-weight="bold" textLength="9.77" lengthAdjust="spacingAndGlyphs" stroke="#111" stroke-width="0.189">1.25</text>
<text x="609.32" y="245.17" font-size="5.4" fill="#111" font-weight="bold" textLength="12.57" lengthAdjust="spacingAndGlyphs" stroke="#111" stroke-width="0.189">100.3</text>
<text x="629.51" y="245.17" font-size="5.4" fill="#111" font-weight="bold" textLength="6.98" lengthAdjust="spacingAndGlyphs" stroke="#111" stroke-width="0.189">1.3</text>
<text x="645.51" y="245.17" font-size="5.4" fill="#111" font-weight="bold" textLength="9.77" lengthAdjust="spacingAndGlyphs" stroke="#111" stroke-width="0.189">6.25</text>
<text x="664.52" y="245.17" font-size="5.4" fill="#111" font-weight="bold" textLength="12.57" lengthAdjust="spacingAndGlyphs" stroke="#111" stroke-width="0.189">105.3</text>
<text x="687.21" y="245.17" font-size="5.4" fill="#111" font-weight="bold" textLength="6.98" lengthAdjust="spacingAndGlyphs" stroke="#111" stroke-width="0.189">5.5</text>
<text x="545.10" y="255.30" font-size="5.7" fill="#1c6937" font-weight="bold" textLength="15.51" lengthAdjust="spacingAndGlyphs" stroke="#1c6937" stroke-width="0.200">PFHpS</text>
<text x="588.56" y="255.30" font-size="5.4" fill="#111" font-weight="bold" textLength="9.77" lengthAdjust="spacingAndGlyphs" stroke="#111" stroke-width="0.189">1.25</text>
<text x="610.71" y="255.30" font-size="5.4" fill="#111" font-weight="bold" textLength="9.77" lengthAdjust="spacingAndGlyphs" stroke="#111" stroke-width="0.189">94.2</text>
<text x="629.51" y="255.30" font-size="5.4" fill="#111" font-weight="bold" textLength="6.98" lengthAdjust="spacingAndGlyphs" stroke="#111" stroke-width="0.189">1.2</text>
<text x="645.51" y="255.30" font-size="5.4" fill="#111" font-weight="bold" textLength="9.77" lengthAdjust="spacingAndGlyphs" stroke="#111" stroke-width="0.189">6.25</text>
<text x="665.91" y="255.30" font-size="5.4" fill="#111" font-weight="bold" textLength="9.77" lengthAdjust="spacingAndGlyphs" stroke="#111" stroke-width="0.189">99.3</text>
<text x="687.21" y="255.30" font-size="5.4" fill="#111" font-weight="bold" textLength="6.98" lengthAdjust="spacingAndGlyphs" stroke="#111" stroke-width="0.189">5.9</text>
<text x="545.10" y="265.44" font-size="5.7" fill="#fff" font-weight="bold" textLength="12.88" lengthAdjust="spacingAndGlyphs" stroke="#fff" stroke-width="0.200">PFOS</text>
<text x="588.56" y="265.44" font-size="5.4" fill="#111" font-weight="bold" textLength="9.77" lengthAdjust="spacingAndGlyphs" stroke="#111" stroke-width="0.189">1.25</text>
<text x="610.71" y="265.44" font-size="5.4" fill="#111" font-weight="bold" textLength="9.77" lengthAdjust="spacingAndGlyphs" stroke="#111" stroke-width="0.189">98.4</text>
<text x="629.51" y="265.44" font-size="5.4" fill="#111" font-weight="bold" textLength="6.98" lengthAdjust="spacingAndGlyphs" stroke="#111" stroke-width="0.189">1.0</text>
<text x="645.51" y="265.44" font-size="5.4" fill="#111" font-weight="bold" textLength="9.77" lengthAdjust="spacingAndGlyphs" stroke="#111" stroke-width="0.189">6.25</text>
<text x="665.91" y="265.44" font-size="5.4" fill="#111" font-weight="bold" textLength="9.77" lengthAdjust="spacingAndGlyphs" stroke="#111" stroke-width="0.189">99.6</text>
<text x="687.21" y="265.44" font-size="5.4" fill="#111" font-weight="bold" textLength="6.98" lengthAdjust="spacingAndGlyphs" stroke="#111" stroke-width="0.189">4.7</text>
<text x="545.10" y="275.58" font-size="5.7" fill="#1c6937" font-weight="bold" textLength="12.62" lengthAdjust="spacingAndGlyphs" stroke="#1c6937" stroke-width="0.200">PFNS</text>
<text x="588.56" y="275.58" font-size="5.4" fill="#111" font-weight="bold" textLength="9.77" lengthAdjust="spacingAndGlyphs" stroke="#111" stroke-width="0.189">1.25</text>
<text x="609.32" y="275.58" font-size="5.4" fill="#111" font-weight="bold" textLength="12.57" lengthAdjust="spacingAndGlyphs" stroke="#111" stroke-width="0.189">101.1</text>
<text x="629.51" y="275.58" font-size="5.4" fill="#111" font-weight="bold" textLength="6.98" lengthAdjust="spacingAndGlyphs" stroke="#111" stroke-width="0.189">0.9</text>
<text x="645.51" y="275.58" font-size="5.4" fill="#111" font-weight="bold" textLength="9.77" lengthAdjust="spacingAndGlyphs" stroke="#111" stroke-width="0.189">6.25</text>
<text x="665.91" y="275.58" font-size="5.4" fill="#111" font-weight="bold" textLength="9.77" lengthAdjust="spacingAndGlyphs" stroke="#111" stroke-width="0.189">99.5</text>
<text x="687.21" y="275.58" font-size="5.4" fill="#111" font-weight="bold" textLength="6.98" lengthAdjust="spacingAndGlyphs" stroke="#111" stroke-width="0.189">1.4</text>
<text x="545.10" y="285.71" font-size="5.7" fill="#fff" font-weight="bold" textLength="12.62" lengthAdjust="spacingAndGlyphs" stroke="#fff" stroke-width="0.200">PFDS</text>
<text x="588.56" y="285.71" font-size="5.4" fill="#111" font-weight="bold" textLength="9.77" lengthAdjust="spacingAndGlyphs" stroke="#111" stroke-width="0.189">1.25</text>
<text x="610.71" y="285.71" font-size="5.4" fill="#111" font-weight="bold" textLength="9.77" lengthAdjust="spacingAndGlyphs" stroke="#111" stroke-width="0.189">93.5</text>
<text x="629.51" y="285.71" font-size="5.4" fill="#111" font-weight="bold" textLength="6.98" lengthAdjust="spacingAndGlyphs" stroke="#111" stroke-width="0.189">0.8</text>
<text x="645.51" y="285.71" font-size="5.4" fill="#111" font-weight="bold" textLength="9.77" lengthAdjust="spacingAndGlyphs" stroke="#111" stroke-width="0.189">6.25</text>
<text x="665.91" y="285.71" font-size="5.4" fill="#111" font-weight="bold" textLength="9.77" lengthAdjust="spacingAndGlyphs" stroke="#111" stroke-width="0.189">97.2</text>
<text x="687.21" y="285.71" font-size="5.4" fill="#111" font-weight="bold" textLength="6.98" lengthAdjust="spacingAndGlyphs" stroke="#111" stroke-width="0.189">1.4</text>
<text x="545.10" y="295.85" font-size="5.7" fill="#1c6937" font-weight="bold" textLength="15.51" lengthAdjust="spacingAndGlyphs" stroke="#1c6937" stroke-width="0.200">PFDoS</text>
<text x="588.56" y="295.85" font-size="5.4" fill="#111" font-weight="bold" textLength="9.77" lengthAdjust="spacingAndGlyphs" stroke="#111" stroke-width="0.189">1.25</text>
<text x="610.71" y="295.85" font-size="5.4" fill="#111" font-weight="bold" textLength="9.77" lengthAdjust="spacingAndGlyphs" stroke="#111" stroke-width="0.189">99.6</text>
<text x="629.51" y="295.85" font-size="5.4" fill="#111" font-weight="bold" textLength="6.98" lengthAdjust="spacingAndGlyphs" stroke="#111" stroke-width="0.189">1.0</text>
<text x="645.51" y="295.85" font-size="5.4" fill="#111" font-weight="bold" textLength="9.77" lengthAdjust="spacingAndGlyphs" stroke="#111" stroke-width="0.189">6.25</text>
<text x="665.91" y="295.85" font-size="5.4" fill="#111" font-weight="bold" textLength="9.77" lengthAdjust="spacingAndGlyphs" stroke="#111" stroke-width="0.189">97.5</text>
<text x="687.21" y="295.85" font-size="5.4" fill="#111" font-weight="bold" textLength="6.98" lengthAdjust="spacingAndGlyphs" stroke="#111" stroke-width="0.189">0.9</text>
<text x="545.10" y="305.98" font-size="5.7" fill="#fff" font-weight="bold" textLength="17.09" lengthAdjust="spacingAndGlyphs" stroke="#fff" stroke-width="0.200">4:2 FTS</text>
<text x="589.96" y="305.98" font-size="5.4" fill="#111" font-weight="bold" textLength="6.98" lengthAdjust="spacingAndGlyphs" stroke="#111" stroke-width="0.189">5.0</text>
<text x="610.71" y="305.98" font-size="5.4" fill="#111" font-weight="bold" textLength="9.77" lengthAdjust="spacingAndGlyphs" stroke="#111" stroke-width="0.189">97.2</text>
<text x="629.51" y="305.98" font-size="5.4" fill="#111" font-weight="bold" textLength="6.98" lengthAdjust="spacingAndGlyphs" stroke="#111" stroke-width="0.189">0.9</text>
<text x="647.61" y="305.98" font-size="5.4" fill="#111" font-weight="bold" textLength="5.59" lengthAdjust="spacingAndGlyphs" stroke="#111" stroke-width="0.189">25</text>
<text x="665.91" y="305.98" font-size="5.4" fill="#111" font-weight="bold" textLength="9.77" lengthAdjust="spacingAndGlyphs" stroke="#111" stroke-width="0.189">99.5</text>
<text x="687.21" y="305.98" font-size="5.4" fill="#111" font-weight="bold" textLength="6.98" lengthAdjust="spacingAndGlyphs" stroke="#111" stroke-width="0.189">0.8</text>
<clipPath id="tb2"><rect x="710.5" y="85.3" width="168.10000000000002" height="223.59999999999997" rx="5"/></clipPath>
<g clip-path="url(#tb2)">
<rect x="710.50" y="85.30" width="168.10" height="223.60" fill="#fff"/>
<rect x="710.50" y="85.30" width="168.10" height="12.60" fill="#fdc820"/>
<rect x="710.50" y="97.90" width="48.30" height="7.10" fill="#fdc820"/>
<rect x="758.80" y="97.90" width="119.80" height="7.10" fill="#1c6937"/>
<rect x="710.50" y="97.55" width="168.10" height="0.70" fill="#b8961a"/>
<rect x="710.50" y="105.00" width="48.30" height="11.30" fill="#fdc820"/>
<rect x="710.50" y="116.30" width="48.30" height="10.14" fill="#1c6937"/>
<rect x="758.80" y="116.30" width="119.80" height="10.14" fill="#ebebec"/>
<rect x="758.80" y="115.95" width="119.80" height="0.70" fill="#9cc3a8"/>
<rect x="710.50" y="126.44" width="48.30" height="10.14" fill="#fdc820"/>
<rect x="758.80" y="126.09" width="119.80" height="0.70" fill="#9cc3a8"/>
<rect x="710.50" y="136.57" width="48.30" height="10.14" fill="#1c6937"/>
<rect x="758.80" y="136.57" width="119.80" height="10.14" fill="#ebebec"/>
<rect x="758.80" y="136.22" width="119.80" height="0.70" fill="#9cc3a8"/>
<rect x="710.50" y="146.71" width="48.30" height="10.14" fill="#fdc820"/>
<rect x="758.80" y="146.36" width="119.80" height="0.70" fill="#9cc3a8"/>
<rect x="710.50" y="156.84" width="48.30" height="10.14" fill="#1c6937"/>
<rect x="758.80" y="156.84" width="119.80" height="10.14" fill="#ebebec"/>
<rect x="758.80" y="156.49" width="119.80" height="0.70" fill="#9cc3a8"/>
<rect x="710.50" y="166.98" width="48.30" height="10.14" fill="#fdc820"/>
<rect x="758.80" y="166.63" width="119.80" height="0.70" fill="#9cc3a8"/>
<rect x="710.50" y="177.12" width="48.30" height="10.14" fill="#1c6937"/>
<rect x="758.80" y="177.12" width="119.80" height="10.14" fill="#ebebec"/>
<rect x="758.80" y="176.77" width="119.80" height="0.70" fill="#9cc3a8"/>
<rect x="710.50" y="187.25" width="48.30" height="10.14" fill="#fdc820"/>
<rect x="758.80" y="186.90" width="119.80" height="0.70" fill="#9cc3a8"/>
<rect x="710.50" y="197.39" width="48.30" height="10.14" fill="#1c6937"/>
<rect x="758.80" y="197.39" width="119.80" height="10.14" fill="#ebebec"/>
<rect x="758.80" y="197.04" width="119.80" height="0.70" fill="#9cc3a8"/>
<rect x="710.50" y="207.52" width="48.30" height="10.14" fill="#fdc820"/>
<rect x="758.80" y="207.17" width="119.80" height="0.70" fill="#9cc3a8"/>
<rect x="710.50" y="217.66" width="48.30" height="10.14" fill="#1c6937"/>
<rect x="758.80" y="217.66" width="119.80" height="10.14" fill="#ebebec"/>
<rect x="758.80" y="217.31" width="119.80" height="0.70" fill="#9cc3a8"/>
<rect x="710.50" y="227.80" width="48.30" height="10.14" fill="#fdc820"/>
<rect x="758.80" y="227.45" width="119.80" height="0.70" fill="#9cc3a8"/>
<rect x="710.50" y="237.93" width="48.30" height="10.14" fill="#1c6937"/>
<rect x="758.80" y="237.93" width="119.80" height="10.14" fill="#ebebec"/>
<rect x="758.80" y="237.58" width="119.80" height="0.70" fill="#9cc3a8"/>
<rect x="710.50" y="248.07" width="48.30" height="10.14" fill="#fdc820"/>
<rect x="758.80" y="247.72" width="119.80" height="0.70" fill="#9cc3a8"/>
<rect x="710.50" y="258.20" width="48.30" height="10.14" fill="#1c6937"/>
<rect x="758.80" y="258.20" width="119.80" height="10.14" fill="#ebebec"/>
<rect x="758.80" y="257.85" width="119.80" height="0.70" fill="#9cc3a8"/>
<rect x="710.50" y="268.34" width="48.30" height="10.14" fill="#fdc820"/>
<rect x="758.80" y="267.99" width="119.80" height="0.70" fill="#9cc3a8"/>
<rect x="710.50" y="278.48" width="48.30" height="10.14" fill="#1c6937"/>
<rect x="758.80" y="278.48" width="119.80" height="10.14" fill="#ebebec"/>
<rect x="758.80" y="278.13" width="119.80" height="0.70" fill="#9cc3a8"/>
<rect x="710.50" y="288.61" width="48.30" height="10.14" fill="#fdc820"/>
<rect x="758.80" y="288.26" width="119.80" height="0.70" fill="#9cc3a8"/>
<rect x="710.50" y="298.75" width="48.30" height="10.15" fill="#1c6937"/>
<rect x="758.80" y="298.40" width="119.80" height="0.70" fill="#9cc3a8"/>
<rect x="758.35" y="105.00" width="0.90" height="203.90" fill="#8fba9b"/>
<rect x="781.95" y="105.00" width="0.90" height="203.90" fill="#8fba9b"/>
<rect x="801.85" y="105.00" width="0.90" height="203.90" fill="#8fba9b"/>
<rect x="816.95" y="105.00" width="0.90" height="203.90" fill="#8fba9b"/>
<rect x="838.85" y="105.00" width="0.90" height="203.90" fill="#8fba9b"/>
<rect x="860.25" y="105.00" width="0.90" height="203.90" fill="#8fba9b"/>
<rect x="758.45" y="85.30" width="0.70" height="19.70" fill="#3f8253"/>
<rect x="817.05" y="85.30" width="0.70" height="19.70" fill="#3f8253"/>
</g>
<rect x="710.5" y="85.3" width="168.10000000000002" height="223.59999999999997" rx="5" fill="none" stroke="#2f7a48" stroke-width="0.8"/>
<text x="724.00" y="94.20" font-size="5.8" fill="#1c6937" font-weight="bold" textLength="18.70" lengthAdjust="spacingAndGlyphs" stroke="#1c6937" stroke-width="0.203">Analyte</text>
<text x="764.80" y="94.20" font-size="5.8" fill="#1c6937" font-weight="bold" textLength="41.40" lengthAdjust="spacingAndGlyphs" stroke="#1c6937" stroke-width="0.203">Low Fortification</text>
<text x="823.20" y="94.20" font-size="5.8" fill="#1c6937" font-weight="bold" textLength="43.10" lengthAdjust="spacingAndGlyphs" stroke="#1c6937" stroke-width="0.203">High Fortification</text>
<text x="760.80" y="102.90" font-size="3.6" fill="#fff" font-weight="bold" textLength="19.60" lengthAdjust="spacingAndGlyphs" stroke="#fff" stroke-width="0.126">Conc. (ng/mL)</text>
<text x="786.70" y="102.90" font-size="3.6" fill="#fff" font-weight="bold" textLength="11.30" lengthAdjust="spacingAndGlyphs" stroke="#fff" stroke-width="0.126">Rec. (%)</text>
<text x="804.45" y="102.90" font-size="3.6" fill="#fff" font-weight="bold" textLength="10.80" lengthAdjust="spacingAndGlyphs" stroke="#fff" stroke-width="0.126">RSD (%)</text>
<text x="818.55" y="102.90" font-size="3.6" fill="#fff" font-weight="bold" textLength="19.60" lengthAdjust="spacingAndGlyphs" stroke="#fff" stroke-width="0.126">Conc. (ng/mL)</text>
<text x="844.35" y="102.90" font-size="3.6" fill="#fff" font-weight="bold" textLength="11.30" lengthAdjust="spacingAndGlyphs" stroke="#fff" stroke-width="0.126">Rec. (%)</text>
<text x="864.25" y="102.90" font-size="3.6" fill="#fff" font-weight="bold" textLength="10.80" lengthAdjust="spacingAndGlyphs" stroke="#fff" stroke-width="0.126">RSD (%)</text>
<text x="718.20" y="113.40" font-size="5.7" fill="#1c6937" font-weight="bold" textLength="17.09" lengthAdjust="spacingAndGlyphs" stroke="#1c6937" stroke-width="0.200">6:2 FTS</text>
<text x="767.11" y="113.40" font-size="5.4" fill="#111" font-weight="bold" textLength="6.98" lengthAdjust="spacingAndGlyphs" stroke="#111" stroke-width="0.189">5.0</text>
<text x="787.46" y="113.40" font-size="5.4" fill="#111" font-weight="bold" textLength="9.77" lengthAdjust="spacingAndGlyphs" stroke="#111" stroke-width="0.189">99.7</text>
<text x="806.36" y="113.40" font-size="5.4" fill="#111" font-weight="bold" textLength="6.98" lengthAdjust="spacingAndGlyphs" stroke="#111" stroke-width="0.189">0.9</text>
<text x="825.56" y="113.40" font-size="5.4" fill="#111" font-weight="bold" textLength="5.59" lengthAdjust="spacingAndGlyphs" stroke="#111" stroke-width="0.189">25</text>
<text x="843.72" y="113.40" font-size="5.4" fill="#111" font-weight="bold" textLength="12.57" lengthAdjust="spacingAndGlyphs" stroke="#111" stroke-width="0.189">102.4</text>
<text x="866.16" y="113.40" font-size="5.4" fill="#111" font-weight="bold" textLength="6.98" lengthAdjust="spacingAndGlyphs" stroke="#111" stroke-width="0.189">4.1</text>
<text x="718.20" y="123.54" font-size="5.7" fill="#fff" font-weight="bold" textLength="17.09" lengthAdjust="spacingAndGlyphs" stroke="#fff" stroke-width="0.200">8:2 FTS</text>
<text x="767.11" y="123.54" font-size="5.4" fill="#111" font-weight="bold" textLength="6.98" lengthAdjust="spacingAndGlyphs" stroke="#111" stroke-width="0.189">5.0</text>
<text x="787.46" y="123.54" font-size="5.4" fill="#111" font-weight="bold" textLength="9.77" lengthAdjust="spacingAndGlyphs" stroke="#111" stroke-width="0.189">98.5</text>
<text x="806.36" y="123.54" font-size="5.4" fill="#111" font-weight="bold" textLength="6.98" lengthAdjust="spacingAndGlyphs" stroke="#111" stroke-width="0.189">1.3</text>
<text x="825.56" y="123.54" font-size="5.4" fill="#111" font-weight="bold" textLength="5.59" lengthAdjust="spacingAndGlyphs" stroke="#111" stroke-width="0.189">25</text>
<text x="845.11" y="123.54" font-size="5.4" fill="#111" font-weight="bold" textLength="9.77" lengthAdjust="spacingAndGlyphs" stroke="#111" stroke-width="0.189">99.3</text>
<text x="866.16" y="123.54" font-size="5.4" fill="#111" font-weight="bold" textLength="6.98" lengthAdjust="spacingAndGlyphs" stroke="#111" stroke-width="0.189">3.0</text>
<text x="718.20" y="133.67" font-size="5.7" fill="#1c6937" font-weight="bold" textLength="16.30" lengthAdjust="spacingAndGlyphs" stroke="#1c6937" stroke-width="0.200">PFOSA</text>
<text x="765.71" y="133.67" font-size="5.4" fill="#111" font-weight="bold" textLength="9.77" lengthAdjust="spacingAndGlyphs" stroke="#111" stroke-width="0.189">1.25</text>
<text x="786.07" y="133.67" font-size="5.4" fill="#111" font-weight="bold" textLength="12.57" lengthAdjust="spacingAndGlyphs" stroke="#111" stroke-width="0.189">100.2</text>
<text x="806.36" y="133.67" font-size="5.4" fill="#111" font-weight="bold" textLength="6.98" lengthAdjust="spacingAndGlyphs" stroke="#111" stroke-width="0.189">1.0</text>
<text x="823.46" y="133.67" font-size="5.4" fill="#111" font-weight="bold" textLength="9.77" lengthAdjust="spacingAndGlyphs" stroke="#111" stroke-width="0.189">6.25</text>
<text x="845.11" y="133.67" font-size="5.4" fill="#111" font-weight="bold" textLength="9.77" lengthAdjust="spacingAndGlyphs" stroke="#111" stroke-width="0.189">99.7</text>
<text x="866.16" y="133.67" font-size="5.4" fill="#111" font-weight="bold" textLength="6.98" lengthAdjust="spacingAndGlyphs" stroke="#111" stroke-width="0.189">1.8</text>
<text x="718.20" y="143.81" font-size="5.7" fill="#fff" font-weight="bold" textLength="23.13" lengthAdjust="spacingAndGlyphs" stroke="#fff" stroke-width="0.200">NMeFOSA</text>
<text x="765.71" y="143.81" font-size="5.4" fill="#111" font-weight="bold" textLength="9.77" lengthAdjust="spacingAndGlyphs" stroke="#111" stroke-width="0.189">1.25</text>
<text x="787.46" y="143.81" font-size="5.4" fill="#111" font-weight="bold" textLength="9.77" lengthAdjust="spacingAndGlyphs" stroke="#111" stroke-width="0.189">96.8</text>
<text x="806.36" y="143.81" font-size="5.4" fill="#111" font-weight="bold" textLength="6.98" lengthAdjust="spacingAndGlyphs" stroke="#111" stroke-width="0.189">1.3</text>
<text x="823.46" y="143.81" font-size="5.4" fill="#111" font-weight="bold" textLength="9.77" lengthAdjust="spacingAndGlyphs" stroke="#111" stroke-width="0.189">6.25</text>
<text x="843.72" y="143.81" font-size="5.4" fill="#111" font-weight="bold" textLength="12.57" lengthAdjust="spacingAndGlyphs" stroke="#111" stroke-width="0.189">103.5</text>
<text x="866.16" y="143.81" font-size="5.4" fill="#111" font-weight="bold" textLength="6.98" lengthAdjust="spacingAndGlyphs" stroke="#111" stroke-width="0.189">4.5</text>
<text x="718.20" y="153.94" font-size="5.7" fill="#1c6937" font-weight="bold" textLength="21.29" lengthAdjust="spacingAndGlyphs" stroke="#1c6937" stroke-width="0.200">NEtFOSA</text>
<text x="765.71" y="153.94" font-size="5.4" fill="#111" font-weight="bold" textLength="9.77" lengthAdjust="spacingAndGlyphs" stroke="#111" stroke-width="0.189">1.25</text>
<text x="786.07" y="153.94" font-size="5.4" fill="#111" font-weight="bold" textLength="12.57" lengthAdjust="spacingAndGlyphs" stroke="#111" stroke-width="0.189">101.3</text>
<text x="806.36" y="153.94" font-size="5.4" fill="#111" font-weight="bold" textLength="6.98" lengthAdjust="spacingAndGlyphs" stroke="#111" stroke-width="0.189">1.9</text>
<text x="823.46" y="153.94" font-size="5.4" fill="#111" font-weight="bold" textLength="9.77" lengthAdjust="spacingAndGlyphs" stroke="#111" stroke-width="0.189">6.25</text>
<text x="845.11" y="153.94" font-size="5.4" fill="#111" font-weight="bold" textLength="9.77" lengthAdjust="spacingAndGlyphs" stroke="#111" stroke-width="0.189">99.7</text>
<text x="866.16" y="153.94" font-size="5.4" fill="#111" font-weight="bold" textLength="6.98" lengthAdjust="spacingAndGlyphs" stroke="#111" stroke-width="0.189">2.7</text>
<text x="718.20" y="164.08" font-size="5.7" fill="#fff" font-weight="bold" textLength="26.55" lengthAdjust="spacingAndGlyphs" stroke="#fff" stroke-width="0.200">NMeFOSAA</text>
<text x="765.71" y="164.08" font-size="5.4" fill="#111" font-weight="bold" textLength="9.77" lengthAdjust="spacingAndGlyphs" stroke="#111" stroke-width="0.189">1.25</text>
<text x="787.46" y="164.08" font-size="5.4" fill="#111" font-weight="bold" textLength="9.77" lengthAdjust="spacingAndGlyphs" stroke="#111" stroke-width="0.189">94.7</text>
<text x="806.36" y="164.08" font-size="5.4" fill="#111" font-weight="bold" textLength="6.98" lengthAdjust="spacingAndGlyphs" stroke="#111" stroke-width="0.189">1.5</text>
<text x="823.46" y="164.08" font-size="5.4" fill="#111" font-weight="bold" textLength="9.77" lengthAdjust="spacingAndGlyphs" stroke="#111" stroke-width="0.189">6.25</text>
<text x="845.11" y="164.08" font-size="5.4" fill="#111" font-weight="bold" textLength="9.77" lengthAdjust="spacingAndGlyphs" stroke="#111" stroke-width="0.189">94.3</text>
<text x="866.16" y="164.08" font-size="5.4" fill="#111" font-weight="bold" textLength="6.98" lengthAdjust="spacingAndGlyphs" stroke="#111" stroke-width="0.189">2.9</text>
<text x="718.20" y="174.22" font-size="5.7" fill="#1c6937" font-weight="bold" textLength="24.71" lengthAdjust="spacingAndGlyphs" stroke="#1c6937" stroke-width="0.200">NEtFOSAA</text>
<text x="765.71" y="174.22" font-size="5.4" fill="#111" font-weight="bold" textLength="9.77" lengthAdjust="spacingAndGlyphs" stroke="#111" stroke-width="0.189">1.25</text>
<text x="787.46" y="174.22" font-size="5.4" fill="#111" font-weight="bold" textLength="9.77" lengthAdjust="spacingAndGlyphs" stroke="#111" stroke-width="0.189">96.7</text>
<text x="806.36" y="174.22" font-size="5.4" fill="#111" font-weight="bold" textLength="6.98" lengthAdjust="spacingAndGlyphs" stroke="#111" stroke-width="0.189">1.1</text>
<text x="823.46" y="174.22" font-size="5.4" fill="#111" font-weight="bold" textLength="9.77" lengthAdjust="spacingAndGlyphs" stroke="#111" stroke-width="0.189">6.25</text>
<text x="845.11" y="174.22" font-size="5.4" fill="#111" font-weight="bold" textLength="9.77" lengthAdjust="spacingAndGlyphs" stroke="#111" stroke-width="0.189">94.3</text>
<text x="866.16" y="174.22" font-size="5.4" fill="#111" font-weight="bold" textLength="6.98" lengthAdjust="spacingAndGlyphs" stroke="#111" stroke-width="0.189">1.7</text>
<text x="718.20" y="184.35" font-size="5.7" fill="#fff" font-weight="bold" textLength="22.87" lengthAdjust="spacingAndGlyphs" stroke="#fff" stroke-width="0.200">NMeFOSE</text>
<text x="765.71" y="184.35" font-size="5.4" fill="#111" font-weight="bold" textLength="9.77" lengthAdjust="spacingAndGlyphs" stroke="#111" stroke-width="0.189">12.5</text>
<text x="787.46" y="184.35" font-size="5.4" fill="#111" font-weight="bold" textLength="9.77" lengthAdjust="spacingAndGlyphs" stroke="#111" stroke-width="0.189">96.4</text>
<text x="806.36" y="184.35" font-size="5.4" fill="#111" font-weight="bold" textLength="6.98" lengthAdjust="spacingAndGlyphs" stroke="#111" stroke-width="0.189">1.7</text>
<text x="823.46" y="184.35" font-size="5.4" fill="#111" font-weight="bold" textLength="9.77" lengthAdjust="spacingAndGlyphs" stroke="#111" stroke-width="0.189">62.5</text>
<text x="845.11" y="184.35" font-size="5.4" fill="#111" font-weight="bold" textLength="9.77" lengthAdjust="spacingAndGlyphs" stroke="#111" stroke-width="0.189">94.9</text>
<text x="866.16" y="184.35" font-size="5.4" fill="#111" font-weight="bold" textLength="6.98" lengthAdjust="spacingAndGlyphs" stroke="#111" stroke-width="0.189">1.7</text>
<text x="718.20" y="194.49" font-size="5.7" fill="#1c6937" font-weight="bold" textLength="21.03" lengthAdjust="spacingAndGlyphs" stroke="#1c6937" stroke-width="0.200">NEtFOSE</text>
<text x="765.71" y="194.49" font-size="5.4" fill="#111" font-weight="bold" textLength="9.77" lengthAdjust="spacingAndGlyphs" stroke="#111" stroke-width="0.189">12.5</text>
<text x="787.46" y="194.49" font-size="5.4" fill="#111" font-weight="bold" textLength="9.77" lengthAdjust="spacingAndGlyphs" stroke="#111" stroke-width="0.189">98.6</text>
<text x="806.36" y="194.49" font-size="5.4" fill="#111" font-weight="bold" textLength="6.98" lengthAdjust="spacingAndGlyphs" stroke="#111" stroke-width="0.189">2.8</text>
<text x="823.46" y="194.49" font-size="5.4" fill="#111" font-weight="bold" textLength="9.77" lengthAdjust="spacingAndGlyphs" stroke="#111" stroke-width="0.189">62.5</text>
<text x="845.11" y="194.49" font-size="5.4" fill="#111" font-weight="bold" textLength="9.77" lengthAdjust="spacingAndGlyphs" stroke="#111" stroke-width="0.189">97.4</text>
<text x="866.16" y="194.49" font-size="5.4" fill="#111" font-weight="bold" textLength="6.98" lengthAdjust="spacingAndGlyphs" stroke="#111" stroke-width="0.189">0.7</text>
<text x="718.20" y="204.62" font-size="5.7" fill="#fff" font-weight="bold" textLength="21.55" lengthAdjust="spacingAndGlyphs" stroke="#fff" stroke-width="0.200">HFPO-DA</text>
<text x="767.11" y="204.62" font-size="5.4" fill="#111" font-weight="bold" textLength="6.98" lengthAdjust="spacingAndGlyphs" stroke="#111" stroke-width="0.189">5.0</text>
<text x="787.46" y="204.62" font-size="5.4" fill="#111" font-weight="bold" textLength="9.77" lengthAdjust="spacingAndGlyphs" stroke="#111" stroke-width="0.189">97.5</text>
<text x="806.36" y="204.62" font-size="5.4" fill="#111" font-weight="bold" textLength="6.98" lengthAdjust="spacingAndGlyphs" stroke="#111" stroke-width="0.189">4.2</text>
<text x="825.56" y="204.62" font-size="5.4" fill="#111" font-weight="bold" textLength="5.59" lengthAdjust="spacingAndGlyphs" stroke="#111" stroke-width="0.189">25</text>
<text x="845.11" y="204.62" font-size="5.4" fill="#111" font-weight="bold" textLength="9.77" lengthAdjust="spacingAndGlyphs" stroke="#111" stroke-width="0.189">95.6</text>
<text x="866.16" y="204.62" font-size="5.4" fill="#111" font-weight="bold" textLength="6.98" lengthAdjust="spacingAndGlyphs" stroke="#111" stroke-width="0.189">3.9</text>
<text x="718.20" y="214.76" font-size="5.7" fill="#1c6937" font-weight="bold" textLength="17.35" lengthAdjust="spacingAndGlyphs" stroke="#1c6937" stroke-width="0.200">ADONA</text>
<text x="767.11" y="214.76" font-size="5.4" fill="#111" font-weight="bold" textLength="6.98" lengthAdjust="spacingAndGlyphs" stroke="#111" stroke-width="0.189">5.0</text>
<text x="787.46" y="214.76" font-size="5.4" fill="#111" font-weight="bold" textLength="9.77" lengthAdjust="spacingAndGlyphs" stroke="#111" stroke-width="0.189">96.2</text>
<text x="806.36" y="214.76" font-size="5.4" fill="#111" font-weight="bold" textLength="6.98" lengthAdjust="spacingAndGlyphs" stroke="#111" stroke-width="0.189">0.8</text>
<text x="825.56" y="214.76" font-size="5.4" fill="#111" font-weight="bold" textLength="5.59" lengthAdjust="spacingAndGlyphs" stroke="#111" stroke-width="0.189">25</text>
<text x="845.11" y="214.76" font-size="5.4" fill="#111" font-weight="bold" textLength="9.77" lengthAdjust="spacingAndGlyphs" stroke="#111" stroke-width="0.189">96.3</text>
<text x="866.16" y="214.76" font-size="5.4" fill="#111" font-weight="bold" textLength="6.98" lengthAdjust="spacingAndGlyphs" stroke="#111" stroke-width="0.189">2.7</text>
<text x="718.20" y="224.90" font-size="5.7" fill="#fff" font-weight="bold" textLength="27.87" lengthAdjust="spacingAndGlyphs" stroke="#fff" stroke-width="0.200">9Cl-PF3ONS</text>
<text x="767.11" y="224.90" font-size="5.4" fill="#111" font-weight="bold" textLength="6.98" lengthAdjust="spacingAndGlyphs" stroke="#111" stroke-width="0.189">5.0</text>
<text x="787.46" y="224.90" font-size="5.4" fill="#111" font-weight="bold" textLength="9.77" lengthAdjust="spacingAndGlyphs" stroke="#111" stroke-width="0.189">97.6</text>
<text x="806.36" y="224.90" font-size="5.4" fill="#111" font-weight="bold" textLength="6.98" lengthAdjust="spacingAndGlyphs" stroke="#111" stroke-width="0.189">2.9</text>
<text x="825.56" y="224.90" font-size="5.4" fill="#111" font-weight="bold" textLength="5.59" lengthAdjust="spacingAndGlyphs" stroke="#111" stroke-width="0.189">25</text>
<text x="845.11" y="224.90" font-size="5.4" fill="#111" font-weight="bold" textLength="9.77" lengthAdjust="spacingAndGlyphs" stroke="#111" stroke-width="0.189">96.4</text>
<text x="866.16" y="224.90" font-size="5.4" fill="#111" font-weight="bold" textLength="6.98" lengthAdjust="spacingAndGlyphs" stroke="#111" stroke-width="0.189">1.2</text>
<text x="718.20" y="235.03" font-size="5.7" fill="#1c6937" font-weight="bold" textLength="33.13" lengthAdjust="spacingAndGlyphs" stroke="#1c6937" stroke-width="0.200">11Cl-PF3OUdS</text>
<text x="767.11" y="235.03" font-size="5.4" fill="#111" font-weight="bold" textLength="6.98" lengthAdjust="spacingAndGlyphs" stroke="#111" stroke-width="0.189">5.0</text>
<text x="787.46" y="235.03" font-size="5.4" fill="#111" font-weight="bold" textLength="9.77" lengthAdjust="spacingAndGlyphs" stroke="#111" stroke-width="0.189">99.1</text>
<text x="806.36" y="235.03" font-size="5.4" fill="#111" font-weight="bold" textLength="6.98" lengthAdjust="spacingAndGlyphs" stroke="#111" stroke-width="0.189">1.5</text>
<text x="825.56" y="235.03" font-size="5.4" fill="#111" font-weight="bold" textLength="5.59" lengthAdjust="spacingAndGlyphs" stroke="#111" stroke-width="0.189">25</text>
<text x="845.11" y="235.03" font-size="5.4" fill="#111" font-weight="bold" textLength="9.77" lengthAdjust="spacingAndGlyphs" stroke="#111" stroke-width="0.189">96.8</text>
<text x="866.16" y="235.03" font-size="5.4" fill="#111" font-weight="bold" textLength="6.98" lengthAdjust="spacingAndGlyphs" stroke="#111" stroke-width="0.189">0.3</text>
<text x="718.20" y="245.17" font-size="5.7" fill="#fff" font-weight="bold" textLength="20.76" lengthAdjust="spacingAndGlyphs" stroke="#fff" stroke-width="0.200">3:3 FTCA</text>
<text x="765.71" y="245.17" font-size="5.4" fill="#111" font-weight="bold" textLength="9.77" lengthAdjust="spacingAndGlyphs" stroke="#111" stroke-width="0.189">6.25</text>
<text x="787.46" y="245.17" font-size="5.4" fill="#111" font-weight="bold" textLength="9.77" lengthAdjust="spacingAndGlyphs" stroke="#111" stroke-width="0.189">99.3</text>
<text x="806.36" y="245.17" font-size="5.4" fill="#111" font-weight="bold" textLength="6.98" lengthAdjust="spacingAndGlyphs" stroke="#111" stroke-width="0.189">2.6</text>
<text x="823.46" y="245.17" font-size="5.4" fill="#111" font-weight="bold" textLength="9.77" lengthAdjust="spacingAndGlyphs" stroke="#111" stroke-width="0.189">31.2</text>
<text x="845.11" y="245.17" font-size="5.4" fill="#111" font-weight="bold" textLength="9.77" lengthAdjust="spacingAndGlyphs" stroke="#111" stroke-width="0.189">97.6</text>
<text x="866.16" y="245.17" font-size="5.4" fill="#111" font-weight="bold" textLength="6.98" lengthAdjust="spacingAndGlyphs" stroke="#111" stroke-width="0.189">4.2</text>
<text x="718.20" y="255.30" font-size="5.7" fill="#1c6937" font-weight="bold" textLength="20.76" lengthAdjust="spacingAndGlyphs" stroke="#1c6937" stroke-width="0.200">5:3 FTCA</text>
<text x="765.71" y="255.30" font-size="5.4" fill="#111" font-weight="bold" textLength="9.77" lengthAdjust="spacingAndGlyphs" stroke="#111" stroke-width="0.189">31.3</text>
<text x="786.07" y="255.30" font-size="5.4" fill="#111" font-weight="bold" textLength="12.57" lengthAdjust="spacingAndGlyphs" stroke="#111" stroke-width="0.189">101.6</text>
<text x="806.36" y="255.30" font-size="5.4" fill="#111" font-weight="bold" textLength="6.98" lengthAdjust="spacingAndGlyphs" stroke="#111" stroke-width="0.189">0.8</text>
<text x="824.16" y="255.30" font-size="5.4" fill="#111" font-weight="bold" textLength="8.38" lengthAdjust="spacingAndGlyphs" stroke="#111" stroke-width="0.189">156</text>
<text x="845.11" y="255.30" font-size="5.4" fill="#111" font-weight="bold" textLength="9.77" lengthAdjust="spacingAndGlyphs" stroke="#111" stroke-width="0.189">98.4</text>
<text x="866.16" y="255.30" font-size="5.4" fill="#111" font-weight="bold" textLength="6.98" lengthAdjust="spacingAndGlyphs" stroke="#111" stroke-width="0.189">0.6</text>
<text x="718.20" y="265.44" font-size="5.7" fill="#fff" font-weight="bold" textLength="20.76" lengthAdjust="spacingAndGlyphs" stroke="#fff" stroke-width="0.200">7:7 FTCA</text>
<text x="765.71" y="265.44" font-size="5.4" fill="#111" font-weight="bold" textLength="9.77" lengthAdjust="spacingAndGlyphs" stroke="#111" stroke-width="0.189">31.3</text>
<text x="786.07" y="265.44" font-size="5.4" fill="#111" font-weight="bold" textLength="12.57" lengthAdjust="spacingAndGlyphs" stroke="#111" stroke-width="0.189">105.3</text>
<text x="806.36" y="265.44" font-size="5.4" fill="#111" font-weight="bold" textLength="6.98" lengthAdjust="spacingAndGlyphs" stroke="#111" stroke-width="0.189">1.0</text>
<text x="824.16" y="265.44" font-size="5.4" fill="#111" font-weight="bold" textLength="8.38" lengthAdjust="spacingAndGlyphs" stroke="#111" stroke-width="0.189">156</text>
<text x="843.72" y="265.44" font-size="5.4" fill="#111" font-weight="bold" textLength="12.57" lengthAdjust="spacingAndGlyphs" stroke="#111" stroke-width="0.189">100.9</text>
<text x="866.16" y="265.44" font-size="5.4" fill="#111" font-weight="bold" textLength="6.98" lengthAdjust="spacingAndGlyphs" stroke="#111" stroke-width="0.189">0.3</text>
<text x="718.20" y="275.58" font-size="5.7" fill="#1c6937" font-weight="bold" textLength="18.93" lengthAdjust="spacingAndGlyphs" stroke="#1c6937" stroke-width="0.200">PFEESA</text>
<text x="767.11" y="275.58" font-size="5.4" fill="#111" font-weight="bold" textLength="6.98" lengthAdjust="spacingAndGlyphs" stroke="#111" stroke-width="0.189">2.5</text>
<text x="787.46" y="275.58" font-size="5.4" fill="#111" font-weight="bold" textLength="9.77" lengthAdjust="spacingAndGlyphs" stroke="#111" stroke-width="0.189">89.6</text>
<text x="806.36" y="275.58" font-size="5.4" fill="#111" font-weight="bold" textLength="6.98" lengthAdjust="spacingAndGlyphs" stroke="#111" stroke-width="0.189">0.8</text>
<text x="823.46" y="275.58" font-size="5.4" fill="#111" font-weight="bold" textLength="9.77" lengthAdjust="spacingAndGlyphs" stroke="#111" stroke-width="0.189">12.5</text>
<text x="845.11" y="275.58" font-size="5.4" fill="#111" font-weight="bold" textLength="9.77" lengthAdjust="spacingAndGlyphs" stroke="#111" stroke-width="0.189">95.2</text>
<text x="866.16" y="275.58" font-size="5.4" fill="#111" font-weight="bold" textLength="6.98" lengthAdjust="spacingAndGlyphs" stroke="#111" stroke-width="0.189">0.9</text>
<text x="718.20" y="285.71" font-size="5.7" fill="#fff" font-weight="bold" textLength="16.21" lengthAdjust="spacingAndGlyphs" stroke="#fff" stroke-width="0.200">PFMPA</text>
<text x="767.11" y="285.71" font-size="5.4" fill="#111" font-weight="bold" textLength="6.98" lengthAdjust="spacingAndGlyphs" stroke="#111" stroke-width="0.189">2.5</text>
<text x="787.46" y="285.71" font-size="5.4" fill="#111" font-weight="bold" textLength="9.77" lengthAdjust="spacingAndGlyphs" stroke="#111" stroke-width="0.189">97.9</text>
<text x="806.36" y="285.71" font-size="5.4" fill="#111" font-weight="bold" textLength="6.98" lengthAdjust="spacingAndGlyphs" stroke="#111" stroke-width="0.189">0.8</text>
<text x="823.46" y="285.71" font-size="5.4" fill="#111" font-weight="bold" textLength="9.77" lengthAdjust="spacingAndGlyphs" stroke="#111" stroke-width="0.189">12.5</text>
<text x="845.11" y="285.71" font-size="5.4" fill="#111" font-weight="bold" textLength="9.77" lengthAdjust="spacingAndGlyphs" stroke="#111" stroke-width="0.189">99.4</text>
<text x="866.16" y="285.71" font-size="5.4" fill="#111" font-weight="bold" textLength="6.98" lengthAdjust="spacingAndGlyphs" stroke="#111" stroke-width="0.189">1.4</text>
<text x="718.20" y="295.85" font-size="5.7" fill="#1c6937" font-weight="bold" textLength="16.82" lengthAdjust="spacingAndGlyphs" stroke="#1c6937" stroke-width="0.200">PFMBA</text>
<text x="767.11" y="295.85" font-size="5.4" fill="#111" font-weight="bold" textLength="6.98" lengthAdjust="spacingAndGlyphs" stroke="#111" stroke-width="0.189">2.5</text>
<text x="786.07" y="295.85" font-size="5.4" fill="#111" font-weight="bold" textLength="12.57" lengthAdjust="spacingAndGlyphs" stroke="#111" stroke-width="0.189">103.6</text>
<text x="806.36" y="295.85" font-size="5.4" fill="#111" font-weight="bold" textLength="6.98" lengthAdjust="spacingAndGlyphs" stroke="#111" stroke-width="0.189">0.8</text>
<text x="823.46" y="295.85" font-size="5.4" fill="#111" font-weight="bold" textLength="9.77" lengthAdjust="spacingAndGlyphs" stroke="#111" stroke-width="0.189">12.5</text>
<text x="843.72" y="295.85" font-size="5.4" fill="#111" font-weight="bold" textLength="12.57" lengthAdjust="spacingAndGlyphs" stroke="#111" stroke-width="0.189">106.4</text>
<text x="866.16" y="295.85" font-size="5.4" fill="#111" font-weight="bold" textLength="6.98" lengthAdjust="spacingAndGlyphs" stroke="#111" stroke-width="0.189">1.4</text>
<text x="718.20" y="305.98" font-size="5.7" fill="#fff" font-weight="bold" textLength="16.56" lengthAdjust="spacingAndGlyphs" stroke="#fff" stroke-width="0.200">NFDHA</text>
<text x="767.11" y="305.98" font-size="5.4" fill="#111" font-weight="bold" textLength="6.98" lengthAdjust="spacingAndGlyphs" stroke="#111" stroke-width="0.189">2.5</text>
<text x="787.46" y="305.98" font-size="5.4" fill="#111" font-weight="bold" textLength="9.77" lengthAdjust="spacingAndGlyphs" stroke="#111" stroke-width="0.189">96.4</text>
<text x="806.36" y="305.98" font-size="5.4" fill="#111" font-weight="bold" textLength="6.98" lengthAdjust="spacingAndGlyphs" stroke="#111" stroke-width="0.189">0.6</text>
<text x="823.46" y="305.98" font-size="5.4" fill="#111" font-weight="bold" textLength="9.77" lengthAdjust="spacingAndGlyphs" stroke="#111" stroke-width="0.189">12.5</text>
<text x="845.11" y="305.98" font-size="5.4" fill="#111" font-weight="bold" textLength="9.77" lengthAdjust="spacingAndGlyphs" stroke="#111" stroke-width="0.189">98.6</text>
<text x="866.16" y="305.98" font-size="5.4" fill="#111" font-weight="bold" textLength="6.98" lengthAdjust="spacingAndGlyphs" stroke="#111" stroke-width="0.189">0.9</text>
<rect x="537.4" y="317.0" width="341.6" height="124.8" rx="5" fill="#fff" stroke="#2f7a48" stroke-width="0.8"/>
<text x="560.00" y="325.70" font-size="8.4" fill="#1c6937" font-weight="bold" textLength="164.40" lengthAdjust="spacingAndGlyphs" stroke="#1c6937" stroke-width="0.294">EPA 1633 AQUEOUS SAMPLES RECOVERY</text>
<rect x="551.50" y="418.45" width="324.50" height="0.30" fill="#e3e3e3"/>
<text x="548.80" y="419.60" font-size="2.9" fill="#444" text-anchor="end" stroke="#444" stroke-width="0.087">0</text>
<rect x="551.50" y="403.47" width="324.50" height="0.30" fill="#e3e3e3"/>
<text x="548.80" y="404.62" font-size="2.9" fill="#444" text-anchor="end" stroke="#444" stroke-width="0.087">20</text>
<rect x="551.50" y="388.48" width="324.50" height="0.30" fill="#e3e3e3"/>
<text x="548.80" y="389.63" font-size="2.9" fill="#444" text-anchor="end" stroke="#444" stroke-width="0.087">40</text>
<rect x="551.50" y="373.50" width="324.50" height="0.30" fill="#e3e3e3"/>
<text x="548.80" y="374.65" font-size="2.9" fill="#444" text-anchor="end" stroke="#444" stroke-width="0.087">60</text>
<rect x="551.50" y="358.52" width="324.50" height="0.30" fill="#e3e3e3"/>
<text x="548.80" y="359.67" font-size="2.9" fill="#444" text-anchor="end" stroke="#444" stroke-width="0.087">80</text>
<rect x="551.50" y="343.53" width="324.50" height="0.30" fill="#e3e3e3"/>
<text x="548.80" y="344.68" font-size="2.9" fill="#444" text-anchor="end" stroke="#444" stroke-width="0.087">100</text>
<rect x="551.50" y="328.55" width="324.50" height="0.30" fill="#e3e3e3"/>
<text x="548.80" y="329.70" font-size="2.9" fill="#444" text-anchor="end" stroke="#444" stroke-width="0.087">120</text>
<rect x="553.30" y="340.24" width="2.55" height="78.36" fill="#1e6b38"/>
<rect x="555.85" y="345.56" width="2.45" height="73.04" fill="#fdd02e"/>
<text x="556.90" y="420.80" font-size="3.0" font-weight="bold" fill="#222" text-anchor="end" transform="rotate(-45 556.90 420.80)">PFBA</text>
<rect x="561.40" y="345.03" width="2.55" height="73.57" fill="#1e6b38"/>
<rect x="563.95" y="347.13" width="2.45" height="71.47" fill="#fdd02e"/>
<text x="565.00" y="420.80" font-size="3.0" font-weight="bold" fill="#222" text-anchor="end" transform="rotate(-45 565.00 420.80)">PFPeA</text>
<rect x="569.51" y="344.21" width="2.55" height="74.39" fill="#1e6b38"/>
<rect x="572.06" y="341.81" width="2.45" height="76.79" fill="#fdd02e"/>
<text x="573.11" y="420.80" font-size="3.0" font-weight="bold" fill="#222" text-anchor="end" transform="rotate(-45 573.11 420.80)">PFHxA</text>
<rect x="577.61" y="343.98" width="2.55" height="74.62" fill="#1e6b38"/>
<rect x="580.16" y="344.96" width="2.45" height="73.64" fill="#fdd02e"/>
<text x="581.21" y="420.80" font-size="3.0" font-weight="bold" fill="#222" text-anchor="end" transform="rotate(-45 581.21 420.80)">PFHpA</text>
<rect x="585.71" y="340.46" width="2.55" height="78.14" fill="#1e6b38"/>
<rect x="588.26" y="345.86" width="2.45" height="72.74" fill="#fdd02e"/>
<text x="589.31" y="420.80" font-size="3.0" font-weight="bold" fill="#222" text-anchor="end" transform="rotate(-45 589.31 420.80)">PFOA</text>
<rect x="593.81" y="341.06" width="2.55" height="77.54" fill="#1e6b38"/>
<rect x="596.36" y="344.51" width="2.45" height="74.09" fill="#fdd02e"/>
<text x="597.41" y="420.80" font-size="3.0" font-weight="bold" fill="#222" text-anchor="end" transform="rotate(-45 597.41 420.80)">PFNA</text>
<rect x="601.92" y="347.13" width="2.55" height="71.47" fill="#1e6b38"/>
<rect x="604.47" y="341.89" width="2.45" height="76.71" fill="#fdd02e"/>
<text x="605.52" y="420.80" font-size="3.0" font-weight="bold" fill="#222" text-anchor="end" transform="rotate(-45 605.52 420.80)">PFDA</text>
<rect x="610.02" y="346.38" width="2.55" height="72.22" fill="#1e6b38"/>
<rect x="612.57" y="340.99" width="2.45" height="77.61" fill="#fdd02e"/>
<text x="613.62" y="420.80" font-size="3.0" font-weight="bold" fill="#222" text-anchor="end" transform="rotate(-45 613.62 420.80)">PFUnA</text>
<rect x="618.12" y="344.13" width="2.55" height="74.47" fill="#1e6b38"/>
<rect x="620.67" y="339.49" width="2.45" height="79.11" fill="#fdd02e"/>
<text x="621.72" y="420.80" font-size="3.0" font-weight="bold" fill="#222" text-anchor="end" transform="rotate(-45 621.72 420.80)">PFDoA</text>
<rect x="626.23" y="346.90" width="2.55" height="71.70" fill="#1e6b38"/>
<rect x="628.78" y="344.21" width="2.45" height="74.39" fill="#fdd02e"/>
<text x="629.83" y="420.80" font-size="3.0" font-weight="bold" fill="#222" text-anchor="end" transform="rotate(-45 629.83 420.80)">PFTrDA2</text>
<rect x="634.33" y="342.48" width="2.55" height="76.12" fill="#1e6b38"/>
<rect x="636.88" y="345.11" width="2.45" height="73.49" fill="#fdd02e"/>
<text x="637.93" y="420.80" font-size="3.0" font-weight="bold" fill="#222" text-anchor="end" transform="rotate(-45 637.93 420.80)">PFTeDA</text>
<rect x="642.43" y="349.08" width="2.55" height="69.52" fill="#1e6b38"/>
<rect x="644.98" y="341.14" width="2.45" height="77.46" fill="#fdd02e"/>
<text x="646.03" y="420.80" font-size="3.0" font-weight="bold" fill="#222" text-anchor="end" transform="rotate(-45 646.03 420.80)">PFBS</text>
<rect x="650.54" y="347.73" width="2.55" height="70.87" fill="#1e6b38"/>
<rect x="653.09" y="343.98" width="2.45" height="74.62" fill="#fdd02e"/>
<text x="654.14" y="420.80" font-size="3.0" font-weight="bold" fill="#222" text-anchor="end" transform="rotate(-45 654.14 420.80)">PFPeS</text>
<rect x="658.64" y="343.46" width="2.55" height="75.14" fill="#1e6b38"/>
<rect x="661.19" y="339.71" width="2.45" height="78.89" fill="#fdd02e"/>
<text x="662.24" y="420.80" font-size="3.0" font-weight="bold" fill="#222" text-anchor="end" transform="rotate(-45 662.24 420.80)">PFHxS</text>
<rect x="666.74" y="348.03" width="2.55" height="70.57" fill="#1e6b38"/>
<rect x="669.29" y="344.21" width="2.45" height="74.39" fill="#fdd02e"/>
<text x="670.34" y="420.80" font-size="3.0" font-weight="bold" fill="#222" text-anchor="end" transform="rotate(-45 670.34 420.80)">PFHpS</text>
<rect x="674.84" y="344.88" width="2.55" height="73.72" fill="#1e6b38"/>
<rect x="677.39" y="343.98" width="2.45" height="74.62" fill="#fdd02e"/>
<text x="678.44" y="420.80" font-size="3.0" font-weight="bold" fill="#222" text-anchor="end" transform="rotate(-45 678.44 420.80)">PFOS</text>
<rect x="682.95" y="342.86" width="2.55" height="75.74" fill="#1e6b38"/>
<rect x="685.50" y="344.06" width="2.45" height="74.54" fill="#fdd02e"/>
<text x="686.55" y="420.80" font-size="3.0" font-weight="bold" fill="#222" text-anchor="end" transform="rotate(-45 686.55 420.80)">PFNS</text>
<rect x="691.05" y="348.55" width="2.55" height="70.05" fill="#1e6b38"/>
<rect x="693.60" y="345.78" width="2.45" height="72.82" fill="#fdd02e"/>
<text x="694.65" y="420.80" font-size="3.0" font-weight="bold" fill="#222" text-anchor="end" transform="rotate(-45 694.65 420.80)">PFDS</text>
<rect x="699.15" y="343.98" width="2.55" height="74.62" fill="#1e6b38"/>
<rect x="701.70" y="345.56" width="2.45" height="73.04" fill="#fdd02e"/>
<text x="702.75" y="420.80" font-size="3.0" font-weight="bold" fill="#222" text-anchor="end" transform="rotate(-45 702.75 420.80)">PFDoS</text>
<rect x="707.26" y="345.78" width="2.55" height="72.82" fill="#1e6b38"/>
<rect x="709.81" y="344.06" width="2.45" height="74.54" fill="#fdd02e"/>
<text x="710.86" y="420.80" font-size="3.0" font-weight="bold" fill="#222" text-anchor="end" transform="rotate(-45 710.86 420.80)">4:2 FTS</text>
<rect x="715.36" y="343.91" width="2.55" height="74.69" fill="#1e6b38"/>
<rect x="717.91" y="341.89" width="2.45" height="76.71" fill="#fdd02e"/>
<text x="718.96" y="420.80" font-size="3.0" font-weight="bold" fill="#222" text-anchor="end" transform="rotate(-45 718.96 420.80)">6:2 FTS</text>
<rect x="723.46" y="344.81" width="2.55" height="73.79" fill="#1e6b38"/>
<rect x="726.01" y="344.21" width="2.45" height="74.39" fill="#fdd02e"/>
<text x="727.06" y="420.80" font-size="3.0" font-weight="bold" fill="#222" text-anchor="end" transform="rotate(-45 727.06 420.80)">8:2 FTS</text>
<rect x="731.57" y="343.53" width="2.55" height="75.07" fill="#1e6b38"/>
<rect x="734.12" y="343.91" width="2.45" height="74.69" fill="#fdd02e"/>
<text x="735.17" y="420.80" font-size="3.0" font-weight="bold" fill="#222" text-anchor="end" transform="rotate(-45 735.17 420.80)">PFOSA</text>
<rect x="739.67" y="346.08" width="2.55" height="72.52" fill="#1e6b38"/>
<rect x="742.22" y="341.06" width="2.45" height="77.54" fill="#fdd02e"/>
<text x="743.27" y="420.80" font-size="3.0" font-weight="bold" fill="#222" text-anchor="end" transform="rotate(-45 743.27 420.80)">NMeFOSA</text>
<rect x="747.77" y="342.71" width="2.55" height="75.89" fill="#1e6b38"/>
<rect x="750.32" y="343.91" width="2.45" height="74.69" fill="#fdd02e"/>
<text x="751.37" y="420.80" font-size="3.0" font-weight="bold" fill="#222" text-anchor="end" transform="rotate(-45 751.37 420.80)">NEtFOSA</text>
<rect x="755.88" y="347.65" width="2.55" height="70.95" fill="#1e6b38"/>
<rect x="758.42" y="347.95" width="2.45" height="70.65" fill="#fdd02e"/>
<text x="759.48" y="420.80" font-size="3.0" font-weight="bold" fill="#222" text-anchor="end" transform="rotate(-45 759.48 420.80)">NMeFOSAA</text>
<rect x="763.98" y="346.16" width="2.55" height="72.44" fill="#1e6b38"/>
<rect x="766.53" y="347.95" width="2.45" height="70.65" fill="#fdd02e"/>
<text x="767.58" y="420.80" font-size="3.0" font-weight="bold" fill="#222" text-anchor="end" transform="rotate(-45 767.58 420.80)">NEtFOSAA</text>
<rect x="772.08" y="346.38" width="2.55" height="72.22" fill="#1e6b38"/>
<rect x="774.63" y="347.50" width="2.45" height="71.10" fill="#fdd02e"/>
<text x="775.68" y="420.80" font-size="3.0" font-weight="bold" fill="#222" text-anchor="end" transform="rotate(-45 775.68 420.80)">NMeFOSE</text>
<rect x="780.18" y="344.73" width="2.55" height="73.87" fill="#1e6b38"/>
<rect x="782.73" y="345.63" width="2.45" height="72.97" fill="#fdd02e"/>
<text x="783.78" y="420.80" font-size="3.0" font-weight="bold" fill="#222" text-anchor="end" transform="rotate(-45 783.78 420.80)">NEtFOSE</text>
<rect x="788.29" y="345.56" width="2.55" height="73.04" fill="#1e6b38"/>
<rect x="790.84" y="346.98" width="2.45" height="71.62" fill="#fdd02e"/>
<text x="791.89" y="420.80" font-size="3.0" font-weight="bold" fill="#222" text-anchor="end" transform="rotate(-45 791.89 420.80)">HFPO-DA</text>
<rect x="796.39" y="346.53" width="2.55" height="72.07" fill="#1e6b38"/>
<rect x="798.94" y="346.46" width="2.45" height="72.14" fill="#fdd02e"/>
<text x="799.99" y="420.80" font-size="3.0" font-weight="bold" fill="#222" text-anchor="end" transform="rotate(-45 799.99 420.80)">ADONA</text>
<rect x="804.49" y="345.48" width="2.55" height="73.12" fill="#1e6b38"/>
<rect x="807.04" y="346.38" width="2.45" height="72.22" fill="#fdd02e"/>
<text x="808.09" y="420.80" font-size="3.0" font-weight="bold" fill="#222" text-anchor="end" transform="rotate(-45 808.09 420.80)">9Cl-PF3ONS</text>
<rect x="812.60" y="344.36" width="2.55" height="74.24" fill="#1e6b38"/>
<rect x="815.15" y="346.08" width="2.45" height="72.52" fill="#fdd02e"/>
<text x="816.20" y="420.80" font-size="3.0" font-weight="bold" fill="#222" text-anchor="end" transform="rotate(-45 816.20 420.80)">11Cl-PF3OUdS</text>
<rect x="820.70" y="344.21" width="2.55" height="74.39" fill="#1e6b38"/>
<rect x="823.25" y="345.48" width="2.45" height="73.12" fill="#fdd02e"/>
<text x="824.30" y="420.80" font-size="3.0" font-weight="bold" fill="#222" text-anchor="end" transform="rotate(-45 824.30 420.80)">3:3 FTCA</text>
<rect x="828.80" y="342.48" width="2.55" height="76.12" fill="#1e6b38"/>
<rect x="831.35" y="344.88" width="2.45" height="73.72" fill="#fdd02e"/>
<text x="832.40" y="420.80" font-size="3.0" font-weight="bold" fill="#222" text-anchor="end" transform="rotate(-45 832.40 420.80)">5:3 FTCA</text>
<rect x="836.90" y="339.71" width="2.55" height="78.89" fill="#1e6b38"/>
<rect x="839.45" y="343.01" width="2.45" height="75.59" fill="#fdd02e"/>
<text x="840.50" y="420.80" font-size="3.0" font-weight="bold" fill="#222" text-anchor="end" transform="rotate(-45 840.50 420.80)">7:7 FTCA</text>
<rect x="845.01" y="351.47" width="2.55" height="67.13" fill="#1e6b38"/>
<rect x="847.56" y="347.28" width="2.45" height="71.32" fill="#fdd02e"/>
<text x="848.61" y="420.80" font-size="3.0" font-weight="bold" fill="#222" text-anchor="end" transform="rotate(-45 848.61 420.80)">PFEESA</text>
<rect x="853.11" y="345.26" width="2.55" height="73.34" fill="#1e6b38"/>
<rect x="855.66" y="344.13" width="2.45" height="74.47" fill="#fdd02e"/>
<text x="856.71" y="420.80" font-size="3.0" font-weight="bold" fill="#222" text-anchor="end" transform="rotate(-45 856.71 420.80)">PFMPA</text>
<rect x="861.21" y="340.99" width="2.55" height="77.61" fill="#1e6b38"/>
<rect x="863.76" y="338.89" width="2.45" height="79.71" fill="#fdd02e"/>
<text x="864.81" y="420.80" font-size="3.0" font-weight="bold" fill="#222" text-anchor="end" transform="rotate(-45 864.81 420.80)">PFMBA</text>
<rect x="869.32" y="346.38" width="2.55" height="72.22" fill="#1e6b38"/>
<rect x="871.87" y="344.73" width="2.45" height="73.87" fill="#fdd02e"/>
<text x="872.92" y="420.80" font-size="3.0" font-weight="bold" fill="#222" text-anchor="end" transform="rotate(-45 872.92 420.80)">NFDHA</text>
<rect x="812.00" y="325.40" width="2.70" height="2.70" fill="#1e6b38"/>
<text x="816.20" y="327.90" font-size="3.4" fill="#333" font-weight="bold" textLength="22.20" lengthAdjust="spacingAndGlyphs" stroke="#333" stroke-width="0.119">Low Fortification</text>
<rect x="841.60" y="325.40" width="2.70" height="2.70" fill="#fdd02e"/>
<text x="845.60" y="327.90" font-size="3.4" fill="#333" font-weight="bold" textLength="23.00" lengthAdjust="spacingAndGlyphs" stroke="#333" stroke-width="0.119">High Fortification</text>
<path d="M537.5 463.4Q537.5 460.1 540.8 460.1H598.6Q601.3 460.1 601.8 457.4L602.9 452.2Q603.5 449.5 606.2 449.5H874.6Q877.9 449.5 877.9 452.8V537.1Q877.9 540.4 874.6 540.4H540.8Q537.5 540.4 537.5 537.1Z" fill="#1c6937"/>
<text x="543.90" y="456.80" font-size="8.3" fill="#1c6937" font-weight="bold" textLength="53.70" lengthAdjust="spacingAndGlyphs" stroke="#1c6937" stroke-width="0.291">CONCLUSION</text>
<text x="543.20" y="471.60" font-size="4.9" fill="#fff" textLength="319.40" lengthAdjust="spacingAndGlyphs" stroke="#fff" stroke-width="0.147">This poster outlines the analysis of PFAS in aqueous samples according to EPA 1633 second draft method utilizing UCT&#x27;s Enviro-Clean® polymeric</text>
<text x="543.20" y="479.16" font-size="4.9" fill="#fff" textLength="326.90" lengthAdjust="spacingAndGlyphs" stroke="#fff" stroke-width="0.147">weak-anion-exchange (WAX) SPE cartridges (ECWAX156-P). In addition, the use of EUCARB00X helped produce a cleaner extract. LC-MS/MS analysis</text>
<text x="543.20" y="486.72" font-size="4.9" fill="#fff" textLength="325.50" lengthAdjust="spacingAndGlyphs" stroke="#fff" stroke-width="0.147">was carried out using a SelectraCore® C18 HPLC analytical column (SCS27-C18521), while a short (5cm) C18 delay column (SLC-18050ID46-5UM) was</text>
<text x="543.20" y="494.28" font-size="4.9" fill="#fff" textLength="317.40" lengthAdjust="spacingAndGlyphs" stroke="#fff" stroke-width="0.147">used to reduce potential PFAS contamination from the HPLC system. The chromatography was optimized to obtain a maximum resolution with</text>
<text x="543.20" y="501.84" font-size="4.9" fill="#fff" textLength="326.10" lengthAdjust="spacingAndGlyphs" stroke="#fff" stroke-width="0.147">minimum co-elution of isomers, including the critical linear and branched isomers of PFHxS and PFOS. For quantitation, a six-point calibration was</text>
<text x="543.20" y="509.40" font-size="4.9" fill="#fff" textLength="312.30" lengthAdjust="spacingAndGlyphs" stroke="#fff" stroke-width="0.147">performed, and all compounds were found to be linear with R2 values &gt; 0.99. The extraction method was evaluated by spiking reagent water</text>
<text x="543.20" y="516.96" font-size="4.9" fill="#fff" textLength="325.50" lengthAdjust="spacingAndGlyphs" stroke="#fff" stroke-width="0.147">samples with PFAS at 5 ng/L and 25 ng/L. Recoveries of all analytes were within a range of 80-120% and RSD values &lt;10%. Due to high background</text>
<text x="543.20" y="524.52" font-size="4.9" fill="#fff" textLength="325.50" lengthAdjust="spacingAndGlyphs" stroke="#fff" stroke-width="0.147">contamination that may arise from the solvent lines in the LCMS system, the instrument was plumbed with only Polyethylene lines to eliminate any</text>
<text x="543.20" y="532.08" font-size="4.9" fill="#fff" textLength="30.50" lengthAdjust="spacingAndGlyphs" stroke="#fff" stroke-width="0.147">interferences.</text>
</svg>
</body></html>
